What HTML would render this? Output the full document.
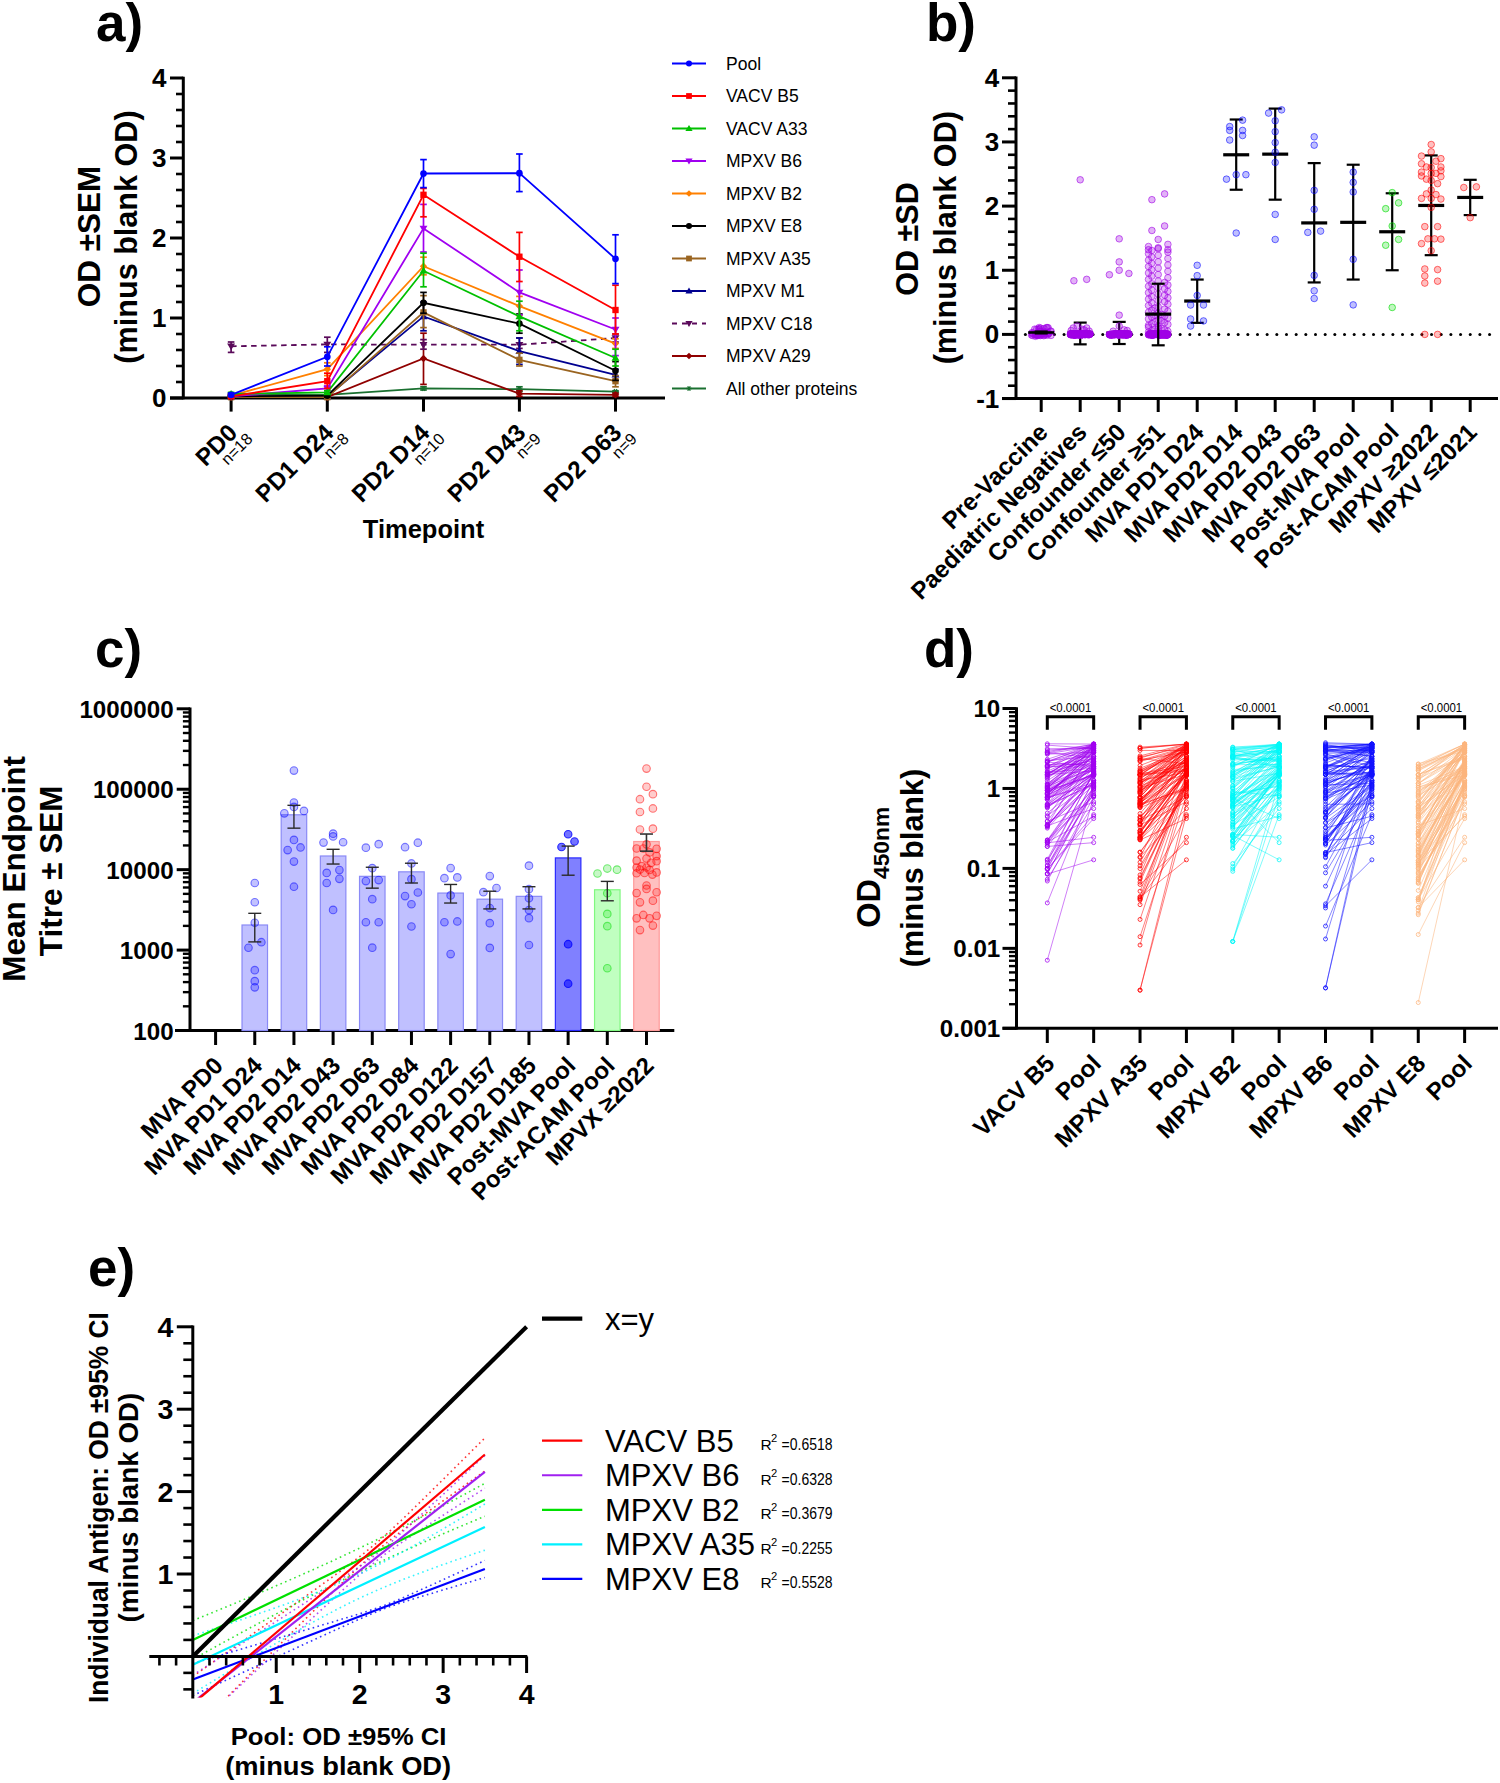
<!DOCTYPE html>
<html><head><meta charset="utf-8"><style>
html,body{margin:0;padding:0;background:#fff;}
svg{display:block;}
text{font-family:"Liberation Sans", sans-serif;}
</style></head><body>
<svg width="1500" height="1783" viewBox="0 0 1500 1783">
<rect width="1500" height="1783" fill="#fff"/>
<text x="96" y="41" font-size="53" font-weight="bold" text-anchor="start" fill="#000">a)</text>
<line x1="183.3" y1="76.7" x2="183.3" y2="399.3" stroke="#000" stroke-width="3"/>
<line x1="170" y1="398" x2="183.3" y2="398" stroke="#000" stroke-width="3"/>
<text x="166.5" y="407" font-size="26" font-weight="bold" text-anchor="end" fill="#000">0</text>
<line x1="176" y1="382" x2="183.3" y2="382" stroke="#000" stroke-width="2.6"/>
<line x1="176" y1="366" x2="183.3" y2="366" stroke="#000" stroke-width="2.6"/>
<line x1="176" y1="350" x2="183.3" y2="350" stroke="#000" stroke-width="2.6"/>
<line x1="176" y1="334" x2="183.3" y2="334" stroke="#000" stroke-width="2.6"/>
<line x1="170" y1="318" x2="183.3" y2="318" stroke="#000" stroke-width="3"/>
<text x="166.5" y="327" font-size="26" font-weight="bold" text-anchor="end" fill="#000">1</text>
<line x1="176" y1="302" x2="183.3" y2="302" stroke="#000" stroke-width="2.6"/>
<line x1="176" y1="286" x2="183.3" y2="286" stroke="#000" stroke-width="2.6"/>
<line x1="176" y1="270" x2="183.3" y2="270" stroke="#000" stroke-width="2.6"/>
<line x1="176" y1="254" x2="183.3" y2="254" stroke="#000" stroke-width="2.6"/>
<line x1="170" y1="238" x2="183.3" y2="238" stroke="#000" stroke-width="3"/>
<text x="166.5" y="247" font-size="26" font-weight="bold" text-anchor="end" fill="#000">2</text>
<line x1="176" y1="222" x2="183.3" y2="222" stroke="#000" stroke-width="2.6"/>
<line x1="176" y1="206" x2="183.3" y2="206" stroke="#000" stroke-width="2.6"/>
<line x1="176" y1="190" x2="183.3" y2="190" stroke="#000" stroke-width="2.6"/>
<line x1="176" y1="174" x2="183.3" y2="174" stroke="#000" stroke-width="2.6"/>
<line x1="170" y1="158" x2="183.3" y2="158" stroke="#000" stroke-width="3"/>
<text x="166.5" y="167" font-size="26" font-weight="bold" text-anchor="end" fill="#000">3</text>
<line x1="176" y1="142" x2="183.3" y2="142" stroke="#000" stroke-width="2.6"/>
<line x1="176" y1="126" x2="183.3" y2="126" stroke="#000" stroke-width="2.6"/>
<line x1="176" y1="110" x2="183.3" y2="110" stroke="#000" stroke-width="2.6"/>
<line x1="176" y1="94" x2="183.3" y2="94" stroke="#000" stroke-width="2.6"/>
<line x1="170" y1="78" x2="183.3" y2="78" stroke="#000" stroke-width="3"/>
<text x="166.5" y="87" font-size="26" font-weight="bold" text-anchor="end" fill="#000">4</text>
<line x1="170" y1="398" x2="665" y2="398" stroke="#000" stroke-width="3"/>
<line x1="231.1" y1="398" x2="231.1" y2="411.6" stroke="#000" stroke-width="3"/>
<line x1="327.3" y1="398" x2="327.3" y2="411.6" stroke="#000" stroke-width="3"/>
<line x1="423.5" y1="398" x2="423.5" y2="411.6" stroke="#000" stroke-width="3"/>
<line x1="519.4" y1="398" x2="519.4" y2="411.6" stroke="#000" stroke-width="3"/>
<line x1="615.5" y1="398" x2="615.5" y2="411.6" stroke="#000" stroke-width="3"/>
<polyline points="231.1,394 327.3,394.8 423.5,388.4 519.4,389.2 615.5,391.6" fill="none" stroke="#1a7030" stroke-width="1.8"/>
<line x1="231.1" y1="393.2" x2="231.1" y2="394.8" stroke="#1a7030" stroke-width="1.7"/>
<line x1="227.8" y1="393.2" x2="234.4" y2="393.2" stroke="#1a7030" stroke-width="1.7"/>
<line x1="227.8" y1="394.8" x2="234.4" y2="394.8" stroke="#1a7030" stroke-width="1.7"/>
<g stroke="#1a7030" stroke-width="1.3">
<line x1="228.28" y1="394" x2="233.92" y2="394" stroke="#1a7030" stroke-width="1.3"/>
<line x1="229.69" y1="391.56" x2="232.51" y2="396.44" stroke="#1a7030" stroke-width="1.3"/>
<line x1="232.51" y1="391.56" x2="229.69" y2="396.44" stroke="#1a7030" stroke-width="1.3"/>
<line x1="228.28" y1="394" x2="233.92" y2="394" stroke="#1a7030" stroke-width="1.3"/>
</g>
<line x1="327.3" y1="394" x2="327.3" y2="395.6" stroke="#1a7030" stroke-width="1.7"/>
<line x1="324" y1="394" x2="330.6" y2="394" stroke="#1a7030" stroke-width="1.7"/>
<line x1="324" y1="395.6" x2="330.6" y2="395.6" stroke="#1a7030" stroke-width="1.7"/>
<g stroke="#1a7030" stroke-width="1.3">
<line x1="324.48" y1="394.8" x2="330.12" y2="394.8" stroke="#1a7030" stroke-width="1.3"/>
<line x1="325.89" y1="392.36" x2="328.71" y2="397.24" stroke="#1a7030" stroke-width="1.3"/>
<line x1="328.71" y1="392.36" x2="325.89" y2="397.24" stroke="#1a7030" stroke-width="1.3"/>
<line x1="324.48" y1="394.8" x2="330.12" y2="394.8" stroke="#1a7030" stroke-width="1.3"/>
</g>
<line x1="423.5" y1="386.8" x2="423.5" y2="390" stroke="#1a7030" stroke-width="1.7"/>
<line x1="420.2" y1="386.8" x2="426.8" y2="386.8" stroke="#1a7030" stroke-width="1.7"/>
<line x1="420.2" y1="390" x2="426.8" y2="390" stroke="#1a7030" stroke-width="1.7"/>
<g stroke="#1a7030" stroke-width="1.3">
<line x1="420.68" y1="388.4" x2="426.32" y2="388.4" stroke="#1a7030" stroke-width="1.3"/>
<line x1="422.09" y1="385.96" x2="424.91" y2="390.84" stroke="#1a7030" stroke-width="1.3"/>
<line x1="424.91" y1="385.96" x2="422.09" y2="390.84" stroke="#1a7030" stroke-width="1.3"/>
<line x1="420.68" y1="388.4" x2="426.32" y2="388.4" stroke="#1a7030" stroke-width="1.3"/>
</g>
<line x1="519.4" y1="386.8" x2="519.4" y2="391.6" stroke="#1a7030" stroke-width="1.7"/>
<line x1="516.1" y1="386.8" x2="522.7" y2="386.8" stroke="#1a7030" stroke-width="1.7"/>
<line x1="516.1" y1="391.6" x2="522.7" y2="391.6" stroke="#1a7030" stroke-width="1.7"/>
<g stroke="#1a7030" stroke-width="1.3">
<line x1="516.58" y1="389.2" x2="522.22" y2="389.2" stroke="#1a7030" stroke-width="1.3"/>
<line x1="517.99" y1="386.76" x2="520.81" y2="391.64" stroke="#1a7030" stroke-width="1.3"/>
<line x1="520.81" y1="386.76" x2="517.99" y2="391.64" stroke="#1a7030" stroke-width="1.3"/>
<line x1="516.58" y1="389.2" x2="522.22" y2="389.2" stroke="#1a7030" stroke-width="1.3"/>
</g>
<line x1="615.5" y1="390.8" x2="615.5" y2="392.4" stroke="#1a7030" stroke-width="1.7"/>
<line x1="612.2" y1="390.8" x2="618.8" y2="390.8" stroke="#1a7030" stroke-width="1.7"/>
<line x1="612.2" y1="392.4" x2="618.8" y2="392.4" stroke="#1a7030" stroke-width="1.7"/>
<g stroke="#1a7030" stroke-width="1.3">
<line x1="612.68" y1="391.6" x2="618.32" y2="391.6" stroke="#1a7030" stroke-width="1.3"/>
<line x1="614.09" y1="389.16" x2="616.91" y2="394.04" stroke="#1a7030" stroke-width="1.3"/>
<line x1="616.91" y1="389.16" x2="614.09" y2="394.04" stroke="#1a7030" stroke-width="1.3"/>
<line x1="612.68" y1="391.6" x2="618.32" y2="391.6" stroke="#1a7030" stroke-width="1.3"/>
</g>
<polyline points="231.1,397.2 327.3,397.2 423.5,358.48 519.4,393.68 615.5,394.8" fill="none" stroke="#900000" stroke-width="1.8"/>
<line x1="231.1" y1="396.4" x2="231.1" y2="398" stroke="#900000" stroke-width="1.7"/>
<line x1="227.8" y1="396.4" x2="234.4" y2="396.4" stroke="#900000" stroke-width="1.7"/>
<line x1="227.8" y1="398" x2="234.4" y2="398" stroke="#900000" stroke-width="1.7"/>
<polygon points="231.1,393.5 234.8,397.2 231.1,400.9 227.4,397.2" fill="#900000"/>
<line x1="327.3" y1="396.4" x2="327.3" y2="398" stroke="#900000" stroke-width="1.7"/>
<line x1="324" y1="396.4" x2="330.6" y2="396.4" stroke="#900000" stroke-width="1.7"/>
<line x1="324" y1="398" x2="330.6" y2="398" stroke="#900000" stroke-width="1.7"/>
<polygon points="327.3,393.5 331,397.2 327.3,400.9 323.6,397.2" fill="#900000"/>
<line x1="423.5" y1="333.2" x2="423.5" y2="384.4" stroke="#900000" stroke-width="1.7"/>
<line x1="420.2" y1="333.2" x2="426.8" y2="333.2" stroke="#900000" stroke-width="1.7"/>
<line x1="420.2" y1="384.4" x2="426.8" y2="384.4" stroke="#900000" stroke-width="1.7"/>
<polygon points="423.5,354.78 427.2,358.48 423.5,362.18 419.8,358.48" fill="#900000"/>
<line x1="519.4" y1="390.8" x2="519.4" y2="396.4" stroke="#900000" stroke-width="1.7"/>
<line x1="516.1" y1="390.8" x2="522.7" y2="390.8" stroke="#900000" stroke-width="1.7"/>
<line x1="516.1" y1="396.4" x2="522.7" y2="396.4" stroke="#900000" stroke-width="1.7"/>
<polygon points="519.4,389.98 523.1,393.68 519.4,397.38 515.7,393.68" fill="#900000"/>
<line x1="615.5" y1="393.2" x2="615.5" y2="396.4" stroke="#900000" stroke-width="1.7"/>
<line x1="612.2" y1="393.2" x2="618.8" y2="393.2" stroke="#900000" stroke-width="1.7"/>
<line x1="612.2" y1="396.4" x2="618.8" y2="396.4" stroke="#900000" stroke-width="1.7"/>
<polygon points="615.5,391.1 619.2,394.8 615.5,398.5 611.8,394.8" fill="#900000"/>
<polyline points="231.1,346.32 327.3,344.4 423.5,344.72 519.4,344.72 615.5,338" fill="none" stroke="#5a0a5a" stroke-width="1.8" stroke-dasharray="5.5,4.5"/>
<line x1="231.1" y1="342" x2="231.1" y2="352.4" stroke="#5a0a5a" stroke-width="1.7"/>
<line x1="227.8" y1="342" x2="234.4" y2="342" stroke="#5a0a5a" stroke-width="1.7"/>
<line x1="227.8" y1="352.4" x2="234.4" y2="352.4" stroke="#5a0a5a" stroke-width="1.7"/>
<polygon points="231.1,350.28 227.14,343.55 235.06,343.55" fill="#5a0a5a"/>
<line x1="327.3" y1="337.2" x2="327.3" y2="352.4" stroke="#5a0a5a" stroke-width="1.7"/>
<line x1="324" y1="337.2" x2="330.6" y2="337.2" stroke="#5a0a5a" stroke-width="1.7"/>
<line x1="324" y1="352.4" x2="330.6" y2="352.4" stroke="#5a0a5a" stroke-width="1.7"/>
<polygon points="327.3,348.36 323.34,341.63 331.26,341.63" fill="#5a0a5a"/>
<line x1="423.5" y1="339.6" x2="423.5" y2="349.2" stroke="#5a0a5a" stroke-width="1.7"/>
<line x1="420.2" y1="339.6" x2="426.8" y2="339.6" stroke="#5a0a5a" stroke-width="1.7"/>
<line x1="420.2" y1="349.2" x2="426.8" y2="349.2" stroke="#5a0a5a" stroke-width="1.7"/>
<polygon points="423.5,348.68 419.54,341.95 427.46,341.95" fill="#5a0a5a"/>
<line x1="519.4" y1="338" x2="519.4" y2="348.4" stroke="#5a0a5a" stroke-width="1.7"/>
<line x1="516.1" y1="338" x2="522.7" y2="338" stroke="#5a0a5a" stroke-width="1.7"/>
<line x1="516.1" y1="348.4" x2="522.7" y2="348.4" stroke="#5a0a5a" stroke-width="1.7"/>
<polygon points="519.4,348.68 515.44,341.95 523.36,341.95" fill="#5a0a5a"/>
<line x1="615.5" y1="334" x2="615.5" y2="342" stroke="#5a0a5a" stroke-width="1.7"/>
<line x1="612.2" y1="334" x2="618.8" y2="334" stroke="#5a0a5a" stroke-width="1.7"/>
<line x1="612.2" y1="342" x2="618.8" y2="342" stroke="#5a0a5a" stroke-width="1.7"/>
<polygon points="615.5,341.96 611.54,335.23 619.46,335.23" fill="#5a0a5a"/>
<polyline points="231.1,396.4 327.3,396.4 423.5,316.4 519.4,351.2 615.5,374.8" fill="none" stroke="#000090" stroke-width="1.8"/>
<line x1="231.1" y1="395.6" x2="231.1" y2="397.2" stroke="#000090" stroke-width="1.7"/>
<line x1="227.8" y1="395.6" x2="234.4" y2="395.6" stroke="#000090" stroke-width="1.7"/>
<line x1="227.8" y1="397.2" x2="234.4" y2="397.2" stroke="#000090" stroke-width="1.7"/>
<polygon points="231.1,392.44 227.14,399.17 235.06,399.17" fill="#000090"/>
<line x1="327.3" y1="395.6" x2="327.3" y2="397.2" stroke="#000090" stroke-width="1.7"/>
<line x1="324" y1="395.6" x2="330.6" y2="395.6" stroke="#000090" stroke-width="1.7"/>
<line x1="324" y1="397.2" x2="330.6" y2="397.2" stroke="#000090" stroke-width="1.7"/>
<polygon points="327.3,392.44 323.34,399.17 331.26,399.17" fill="#000090"/>
<line x1="423.5" y1="302" x2="423.5" y2="330.8" stroke="#000090" stroke-width="1.7"/>
<line x1="420.2" y1="302" x2="426.8" y2="302" stroke="#000090" stroke-width="1.7"/>
<line x1="420.2" y1="330.8" x2="426.8" y2="330.8" stroke="#000090" stroke-width="1.7"/>
<polygon points="423.5,312.44 419.54,319.17 427.46,319.17" fill="#000090"/>
<line x1="519.4" y1="338" x2="519.4" y2="364.4" stroke="#000090" stroke-width="1.7"/>
<line x1="516.1" y1="338" x2="522.7" y2="338" stroke="#000090" stroke-width="1.7"/>
<line x1="516.1" y1="364.4" x2="522.7" y2="364.4" stroke="#000090" stroke-width="1.7"/>
<polygon points="519.4,347.24 515.44,353.97 523.36,353.97" fill="#000090"/>
<line x1="615.5" y1="369.2" x2="615.5" y2="380.4" stroke="#000090" stroke-width="1.7"/>
<line x1="612.2" y1="369.2" x2="618.8" y2="369.2" stroke="#000090" stroke-width="1.7"/>
<line x1="612.2" y1="380.4" x2="618.8" y2="380.4" stroke="#000090" stroke-width="1.7"/>
<polygon points="615.5,370.84 611.54,377.57 619.46,377.57" fill="#000090"/>
<polyline points="231.1,397.2 327.3,397.2 423.5,312.4 519.4,359.84 615.5,381.2" fill="none" stroke="#9a6420" stroke-width="1.8"/>
<line x1="231.1" y1="396.4" x2="231.1" y2="398" stroke="#9a6420" stroke-width="1.7"/>
<line x1="227.8" y1="396.4" x2="234.4" y2="396.4" stroke="#9a6420" stroke-width="1.7"/>
<line x1="227.8" y1="398" x2="234.4" y2="398" stroke="#9a6420" stroke-width="1.7"/>
<rect x="227.93" y="394.03" width="6.34" height="6.34" fill="#9a6420"/>
<line x1="327.3" y1="396.4" x2="327.3" y2="398" stroke="#9a6420" stroke-width="1.7"/>
<line x1="324" y1="396.4" x2="330.6" y2="396.4" stroke="#9a6420" stroke-width="1.7"/>
<line x1="324" y1="398" x2="330.6" y2="398" stroke="#9a6420" stroke-width="1.7"/>
<rect x="324.13" y="394.03" width="6.34" height="6.34" fill="#9a6420"/>
<line x1="423.5" y1="295.6" x2="423.5" y2="327.6" stroke="#9a6420" stroke-width="1.7"/>
<line x1="420.2" y1="295.6" x2="426.8" y2="295.6" stroke="#9a6420" stroke-width="1.7"/>
<line x1="420.2" y1="327.6" x2="426.8" y2="327.6" stroke="#9a6420" stroke-width="1.7"/>
<rect x="420.33" y="309.23" width="6.34" height="6.34" fill="#9a6420"/>
<line x1="519.4" y1="353.2" x2="519.4" y2="366" stroke="#9a6420" stroke-width="1.7"/>
<line x1="516.1" y1="353.2" x2="522.7" y2="353.2" stroke="#9a6420" stroke-width="1.7"/>
<line x1="516.1" y1="366" x2="522.7" y2="366" stroke="#9a6420" stroke-width="1.7"/>
<rect x="516.23" y="356.67" width="6.34" height="6.34" fill="#9a6420"/>
<line x1="615.5" y1="375.6" x2="615.5" y2="386.8" stroke="#9a6420" stroke-width="1.7"/>
<line x1="612.2" y1="375.6" x2="618.8" y2="375.6" stroke="#9a6420" stroke-width="1.7"/>
<line x1="612.2" y1="386.8" x2="618.8" y2="386.8" stroke="#9a6420" stroke-width="1.7"/>
<rect x="612.33" y="378.03" width="6.34" height="6.34" fill="#9a6420"/>
<polyline points="231.1,396.4 327.3,395.6 423.5,302.8 519.4,323.6 615.5,370.8" fill="none" stroke="#000000" stroke-width="1.8"/>
<line x1="231.1" y1="395.6" x2="231.1" y2="397.2" stroke="#000000" stroke-width="1.7"/>
<line x1="227.8" y1="395.6" x2="234.4" y2="395.6" stroke="#000000" stroke-width="1.7"/>
<line x1="227.8" y1="397.2" x2="234.4" y2="397.2" stroke="#000000" stroke-width="1.7"/>
<circle cx="231.1" cy="396.4" r="3.34" fill="#000000"/>
<line x1="327.3" y1="394" x2="327.3" y2="397.2" stroke="#000000" stroke-width="1.7"/>
<line x1="324" y1="394" x2="330.6" y2="394" stroke="#000000" stroke-width="1.7"/>
<line x1="324" y1="397.2" x2="330.6" y2="397.2" stroke="#000000" stroke-width="1.7"/>
<circle cx="327.3" cy="395.6" r="3.34" fill="#000000"/>
<line x1="423.5" y1="292.4" x2="423.5" y2="313.2" stroke="#000000" stroke-width="1.7"/>
<line x1="420.2" y1="292.4" x2="426.8" y2="292.4" stroke="#000000" stroke-width="1.7"/>
<line x1="420.2" y1="313.2" x2="426.8" y2="313.2" stroke="#000000" stroke-width="1.7"/>
<circle cx="423.5" cy="302.8" r="3.34" fill="#000000"/>
<line x1="519.4" y1="314" x2="519.4" y2="333.2" stroke="#000000" stroke-width="1.7"/>
<line x1="516.1" y1="314" x2="522.7" y2="314" stroke="#000000" stroke-width="1.7"/>
<line x1="516.1" y1="333.2" x2="522.7" y2="333.2" stroke="#000000" stroke-width="1.7"/>
<circle cx="519.4" cy="323.6" r="3.34" fill="#000000"/>
<line x1="615.5" y1="361.6" x2="615.5" y2="380.4" stroke="#000000" stroke-width="1.7"/>
<line x1="612.2" y1="361.6" x2="618.8" y2="361.6" stroke="#000000" stroke-width="1.7"/>
<line x1="612.2" y1="380.4" x2="618.8" y2="380.4" stroke="#000000" stroke-width="1.7"/>
<circle cx="615.5" cy="370.8" r="3.34" fill="#000000"/>
<polyline points="231.1,395.6 327.3,369.2 423.5,266.24 519.4,306.08 615.5,343.6" fill="none" stroke="#ff8000" stroke-width="1.8"/>
<line x1="231.1" y1="394.8" x2="231.1" y2="396.4" stroke="#ff8000" stroke-width="1.7"/>
<line x1="227.8" y1="394.8" x2="234.4" y2="394.8" stroke="#ff8000" stroke-width="1.7"/>
<line x1="227.8" y1="396.4" x2="234.4" y2="396.4" stroke="#ff8000" stroke-width="1.7"/>
<polygon points="231.1,391.9 234.8,395.6 231.1,399.3 227.4,395.6" fill="#ff8000"/>
<line x1="327.3" y1="362.8" x2="327.3" y2="375.6" stroke="#ff8000" stroke-width="1.7"/>
<line x1="324" y1="362.8" x2="330.6" y2="362.8" stroke="#ff8000" stroke-width="1.7"/>
<line x1="324" y1="375.6" x2="330.6" y2="375.6" stroke="#ff8000" stroke-width="1.7"/>
<polygon points="327.3,365.5 331,369.2 327.3,372.9 323.6,369.2" fill="#ff8000"/>
<line x1="423.5" y1="257.2" x2="423.5" y2="274.8" stroke="#ff8000" stroke-width="1.7"/>
<line x1="420.2" y1="257.2" x2="426.8" y2="257.2" stroke="#ff8000" stroke-width="1.7"/>
<line x1="420.2" y1="274.8" x2="426.8" y2="274.8" stroke="#ff8000" stroke-width="1.7"/>
<polygon points="423.5,262.54 427.2,266.24 423.5,269.94 419.8,266.24" fill="#ff8000"/>
<line x1="519.4" y1="296.4" x2="519.4" y2="315.6" stroke="#ff8000" stroke-width="1.7"/>
<line x1="516.1" y1="296.4" x2="522.7" y2="296.4" stroke="#ff8000" stroke-width="1.7"/>
<line x1="516.1" y1="315.6" x2="522.7" y2="315.6" stroke="#ff8000" stroke-width="1.7"/>
<polygon points="519.4,302.38 523.1,306.08 519.4,309.78 515.7,306.08" fill="#ff8000"/>
<line x1="615.5" y1="338.8" x2="615.5" y2="348.4" stroke="#ff8000" stroke-width="1.7"/>
<line x1="612.2" y1="338.8" x2="618.8" y2="338.8" stroke="#ff8000" stroke-width="1.7"/>
<line x1="612.2" y1="348.4" x2="618.8" y2="348.4" stroke="#ff8000" stroke-width="1.7"/>
<polygon points="615.5,339.9 619.2,343.6 615.5,347.3 611.8,343.6" fill="#ff8000"/>
<polyline points="231.1,396.4 327.3,388.4 423.5,228.4 519.4,292.4 615.5,329.52" fill="none" stroke="#a000f0" stroke-width="1.8"/>
<line x1="231.1" y1="395.6" x2="231.1" y2="397.2" stroke="#a000f0" stroke-width="1.7"/>
<line x1="227.8" y1="395.6" x2="234.4" y2="395.6" stroke="#a000f0" stroke-width="1.7"/>
<line x1="227.8" y1="397.2" x2="234.4" y2="397.2" stroke="#a000f0" stroke-width="1.7"/>
<polygon points="231.1,400.36 227.14,393.63 235.06,393.63" fill="#a000f0"/>
<line x1="327.3" y1="386" x2="327.3" y2="390.8" stroke="#a000f0" stroke-width="1.7"/>
<line x1="324" y1="386" x2="330.6" y2="386" stroke="#a000f0" stroke-width="1.7"/>
<line x1="324" y1="390.8" x2="330.6" y2="390.8" stroke="#a000f0" stroke-width="1.7"/>
<polygon points="327.3,392.36 323.34,385.63 331.26,385.63" fill="#a000f0"/>
<line x1="423.5" y1="204.4" x2="423.5" y2="252" stroke="#a000f0" stroke-width="1.7"/>
<line x1="420.2" y1="204.4" x2="426.8" y2="204.4" stroke="#a000f0" stroke-width="1.7"/>
<line x1="420.2" y1="252" x2="426.8" y2="252" stroke="#a000f0" stroke-width="1.7"/>
<polygon points="423.5,232.36 419.54,225.63 427.46,225.63" fill="#a000f0"/>
<line x1="519.4" y1="270" x2="519.4" y2="314.8" stroke="#a000f0" stroke-width="1.7"/>
<line x1="516.1" y1="270" x2="522.7" y2="270" stroke="#a000f0" stroke-width="1.7"/>
<line x1="516.1" y1="314.8" x2="522.7" y2="314.8" stroke="#a000f0" stroke-width="1.7"/>
<polygon points="519.4,296.36 515.44,289.63 523.36,289.63" fill="#a000f0"/>
<line x1="615.5" y1="318" x2="615.5" y2="355.6" stroke="#a000f0" stroke-width="1.7"/>
<line x1="612.2" y1="318" x2="618.8" y2="318" stroke="#a000f0" stroke-width="1.7"/>
<line x1="612.2" y1="355.6" x2="618.8" y2="355.6" stroke="#a000f0" stroke-width="1.7"/>
<polygon points="615.5,333.48 611.54,326.75 619.46,326.75" fill="#a000f0"/>
<polyline points="231.1,394 327.3,392.4 423.5,270.8 519.4,316.4 615.5,358" fill="none" stroke="#00c000" stroke-width="1.8"/>
<line x1="231.1" y1="392.4" x2="231.1" y2="395.6" stroke="#00c000" stroke-width="1.7"/>
<line x1="227.8" y1="392.4" x2="234.4" y2="392.4" stroke="#00c000" stroke-width="1.7"/>
<line x1="227.8" y1="395.6" x2="234.4" y2="395.6" stroke="#00c000" stroke-width="1.7"/>
<polygon points="231.1,390.04 227.14,396.77 235.06,396.77" fill="#00c000"/>
<line x1="327.3" y1="390.8" x2="327.3" y2="394" stroke="#00c000" stroke-width="1.7"/>
<line x1="324" y1="390.8" x2="330.6" y2="390.8" stroke="#00c000" stroke-width="1.7"/>
<line x1="324" y1="394" x2="330.6" y2="394" stroke="#00c000" stroke-width="1.7"/>
<polygon points="327.3,388.44 323.34,395.17 331.26,395.17" fill="#00c000"/>
<line x1="423.5" y1="253.2" x2="423.5" y2="286.8" stroke="#00c000" stroke-width="1.7"/>
<line x1="420.2" y1="253.2" x2="426.8" y2="253.2" stroke="#00c000" stroke-width="1.7"/>
<line x1="420.2" y1="286.8" x2="426.8" y2="286.8" stroke="#00c000" stroke-width="1.7"/>
<polygon points="423.5,266.84 419.54,273.57 427.46,273.57" fill="#00c000"/>
<line x1="519.4" y1="301.2" x2="519.4" y2="330.8" stroke="#00c000" stroke-width="1.7"/>
<line x1="516.1" y1="301.2" x2="522.7" y2="301.2" stroke="#00c000" stroke-width="1.7"/>
<line x1="516.1" y1="330.8" x2="522.7" y2="330.8" stroke="#00c000" stroke-width="1.7"/>
<polygon points="519.4,312.44 515.44,319.17 523.36,319.17" fill="#00c000"/>
<line x1="615.5" y1="349.2" x2="615.5" y2="366" stroke="#00c000" stroke-width="1.7"/>
<line x1="612.2" y1="349.2" x2="618.8" y2="349.2" stroke="#00c000" stroke-width="1.7"/>
<line x1="612.2" y1="366" x2="618.8" y2="366" stroke="#00c000" stroke-width="1.7"/>
<polygon points="615.5,354.04 611.54,360.77 619.46,360.77" fill="#00c000"/>
<polyline points="231.1,396.4 327.3,381.2 423.5,194.8 519.4,256.72 615.5,310" fill="none" stroke="#ff0000" stroke-width="1.8"/>
<line x1="231.1" y1="395.6" x2="231.1" y2="397.2" stroke="#ff0000" stroke-width="1.7"/>
<line x1="227.8" y1="395.6" x2="234.4" y2="395.6" stroke="#ff0000" stroke-width="1.7"/>
<line x1="227.8" y1="397.2" x2="234.4" y2="397.2" stroke="#ff0000" stroke-width="1.7"/>
<rect x="227.93" y="393.23" width="6.34" height="6.34" fill="#ff0000"/>
<line x1="327.3" y1="373.2" x2="327.3" y2="388.4" stroke="#ff0000" stroke-width="1.7"/>
<line x1="324" y1="373.2" x2="330.6" y2="373.2" stroke="#ff0000" stroke-width="1.7"/>
<line x1="324" y1="388.4" x2="330.6" y2="388.4" stroke="#ff0000" stroke-width="1.7"/>
<rect x="324.13" y="378.03" width="6.34" height="6.34" fill="#ff0000"/>
<line x1="423.5" y1="188.4" x2="423.5" y2="216.8" stroke="#ff0000" stroke-width="1.7"/>
<line x1="420.2" y1="188.4" x2="426.8" y2="188.4" stroke="#ff0000" stroke-width="1.7"/>
<line x1="420.2" y1="216.8" x2="426.8" y2="216.8" stroke="#ff0000" stroke-width="1.7"/>
<rect x="420.33" y="191.63" width="6.34" height="6.34" fill="#ff0000"/>
<line x1="519.4" y1="232.4" x2="519.4" y2="281.52" stroke="#ff0000" stroke-width="1.7"/>
<line x1="516.1" y1="232.4" x2="522.7" y2="232.4" stroke="#ff0000" stroke-width="1.7"/>
<line x1="516.1" y1="281.52" x2="522.7" y2="281.52" stroke="#ff0000" stroke-width="1.7"/>
<rect x="516.23" y="253.55" width="6.34" height="6.34" fill="#ff0000"/>
<line x1="615.5" y1="285.2" x2="615.5" y2="334" stroke="#ff0000" stroke-width="1.7"/>
<line x1="612.2" y1="285.2" x2="618.8" y2="285.2" stroke="#ff0000" stroke-width="1.7"/>
<line x1="612.2" y1="334" x2="618.8" y2="334" stroke="#ff0000" stroke-width="1.7"/>
<rect x="612.33" y="306.83" width="6.34" height="6.34" fill="#ff0000"/>
<polyline points="231.1,394.8 327.3,356.8 423.5,173.52 519.4,173.2 615.5,258.8" fill="none" stroke="#0000ff" stroke-width="1.8"/>
<line x1="231.1" y1="393.2" x2="231.1" y2="396.4" stroke="#0000ff" stroke-width="1.7"/>
<line x1="227.8" y1="393.2" x2="234.4" y2="393.2" stroke="#0000ff" stroke-width="1.7"/>
<line x1="227.8" y1="396.4" x2="234.4" y2="396.4" stroke="#0000ff" stroke-width="1.7"/>
<circle cx="231.1" cy="394.8" r="3.34" fill="#0000ff"/>
<line x1="327.3" y1="346.8" x2="327.3" y2="366" stroke="#0000ff" stroke-width="1.7"/>
<line x1="324" y1="346.8" x2="330.6" y2="346.8" stroke="#0000ff" stroke-width="1.7"/>
<line x1="324" y1="366" x2="330.6" y2="366" stroke="#0000ff" stroke-width="1.7"/>
<circle cx="327.3" cy="356.8" r="3.34" fill="#0000ff"/>
<line x1="423.5" y1="159.6" x2="423.5" y2="187.6" stroke="#0000ff" stroke-width="1.7"/>
<line x1="420.2" y1="159.6" x2="426.8" y2="159.6" stroke="#0000ff" stroke-width="1.7"/>
<line x1="420.2" y1="187.6" x2="426.8" y2="187.6" stroke="#0000ff" stroke-width="1.7"/>
<circle cx="423.5" cy="173.52" r="3.34" fill="#0000ff"/>
<line x1="519.4" y1="154" x2="519.4" y2="191.6" stroke="#0000ff" stroke-width="1.7"/>
<line x1="516.1" y1="154" x2="522.7" y2="154" stroke="#0000ff" stroke-width="1.7"/>
<line x1="516.1" y1="191.6" x2="522.7" y2="191.6" stroke="#0000ff" stroke-width="1.7"/>
<circle cx="519.4" cy="173.2" r="3.34" fill="#0000ff"/>
<line x1="615.5" y1="234.8" x2="615.5" y2="283.6" stroke="#0000ff" stroke-width="1.7"/>
<line x1="612.2" y1="234.8" x2="618.8" y2="234.8" stroke="#0000ff" stroke-width="1.7"/>
<line x1="612.2" y1="283.6" x2="618.8" y2="283.6" stroke="#0000ff" stroke-width="1.7"/>
<circle cx="615.5" cy="258.8" r="3.34" fill="#0000ff"/>
<line x1="672" y1="63.5" x2="706" y2="63.5" stroke="#0000ff" stroke-width="1.9"/>
<circle cx="689" cy="63.5" r="3.04" fill="#0000ff"/>
<text x="726" y="69.8" font-size="17.5" text-anchor="start" fill="#000">Pool</text>
<line x1="672" y1="96" x2="706" y2="96" stroke="#ff0000" stroke-width="1.9"/>
<rect x="686.12" y="93.12" width="5.76" height="5.76" fill="#ff0000"/>
<text x="726" y="102.3" font-size="17.5" text-anchor="start" fill="#000">VACV B5</text>
<line x1="672" y1="128.5" x2="706" y2="128.5" stroke="#00c000" stroke-width="1.9"/>
<polygon points="689,124.9 685.4,131.02 692.6,131.02" fill="#00c000"/>
<text x="726" y="134.8" font-size="17.5" text-anchor="start" fill="#000">VACV A33</text>
<line x1="672" y1="161" x2="706" y2="161" stroke="#a000f0" stroke-width="1.9"/>
<polygon points="689,164.6 685.4,158.48 692.6,158.48" fill="#a000f0"/>
<text x="726" y="167.3" font-size="17.5" text-anchor="start" fill="#000">MPXV B6</text>
<line x1="672" y1="193.5" x2="706" y2="193.5" stroke="#ff8000" stroke-width="1.9"/>
<polygon points="689,190.14 692.36,193.5 689,196.86 685.64,193.5" fill="#ff8000"/>
<text x="726" y="199.8" font-size="17.5" text-anchor="start" fill="#000">MPXV B2</text>
<line x1="672" y1="226" x2="706" y2="226" stroke="#000000" stroke-width="1.9"/>
<circle cx="689" cy="226" r="3.04" fill="#000000"/>
<text x="726" y="232.3" font-size="17.5" text-anchor="start" fill="#000">MPXV E8</text>
<line x1="672" y1="258.5" x2="706" y2="258.5" stroke="#9a6420" stroke-width="1.9"/>
<rect x="686.12" y="255.62" width="5.76" height="5.76" fill="#9a6420"/>
<text x="726" y="264.8" font-size="17.5" text-anchor="start" fill="#000">MPXV A35</text>
<line x1="672" y1="291" x2="706" y2="291" stroke="#000090" stroke-width="1.9"/>
<polygon points="689,287.4 685.4,293.52 692.6,293.52" fill="#000090"/>
<text x="726" y="297.3" font-size="17.5" text-anchor="start" fill="#000">MPXV M1</text>
<line x1="672" y1="323.5" x2="706" y2="323.5" stroke="#5a0a5a" stroke-width="1.9" stroke-dasharray="5,5"/>
<polygon points="689,327.1 685.4,320.98 692.6,320.98" fill="#5a0a5a"/>
<text x="726" y="329.8" font-size="17.5" text-anchor="start" fill="#000">MPXV C18</text>
<line x1="672" y1="356" x2="706" y2="356" stroke="#900000" stroke-width="1.9"/>
<polygon points="689,352.64 692.36,356 689,359.36 685.64,356" fill="#900000"/>
<text x="726" y="362.3" font-size="17.5" text-anchor="start" fill="#000">MPXV A29</text>
<line x1="672" y1="388.5" x2="706" y2="388.5" stroke="#1a7030" stroke-width="1.9"/>
<g stroke="#1a7030" stroke-width="1.3">
<line x1="686.44" y1="388.5" x2="691.56" y2="388.5" stroke="#1a7030" stroke-width="1.3"/>
<line x1="687.72" y1="386.28" x2="690.28" y2="390.72" stroke="#1a7030" stroke-width="1.3"/>
<line x1="690.28" y1="386.28" x2="687.72" y2="390.72" stroke="#1a7030" stroke-width="1.3"/>
<line x1="686.44" y1="388.5" x2="691.56" y2="388.5" stroke="#1a7030" stroke-width="1.3"/>
</g>
<text x="726" y="394.8" font-size="17.5" text-anchor="start" fill="#000">All other proteins</text>
<g transform="translate(238.7,434.3) rotate(-45)">
<text x="0" y="0" font-size="24.2" font-weight="bold" text-anchor="end" fill="#000">PD0</text>
<text x="6.5" y="14.5" font-size="16.2" text-anchor="end" fill="#000">n=18</text>
</g>
<g transform="translate(334.9,434.3) rotate(-45)">
<text x="0" y="0" font-size="24.2" font-weight="bold" text-anchor="end" fill="#000">PD1 D24</text>
<text x="6.5" y="14.5" font-size="16.2" text-anchor="end" fill="#000">n=8</text>
</g>
<g transform="translate(431.1,434.3) rotate(-45)">
<text x="0" y="0" font-size="24.2" font-weight="bold" text-anchor="end" fill="#000">PD2 D14</text>
<text x="6.5" y="14.5" font-size="16.2" text-anchor="end" fill="#000">n=10</text>
</g>
<g transform="translate(527,434.3) rotate(-45)">
<text x="0" y="0" font-size="24.2" font-weight="bold" text-anchor="end" fill="#000">PD2 D43</text>
<text x="6.5" y="14.5" font-size="16.2" text-anchor="end" fill="#000">n=9</text>
</g>
<g transform="translate(623.1,434.3) rotate(-45)">
<text x="0" y="0" font-size="24.2" font-weight="bold" text-anchor="end" fill="#000">PD2 D63</text>
<text x="6.5" y="14.5" font-size="16.2" text-anchor="end" fill="#000">n=9</text>
</g>
<text x="423.5" y="537.6" font-size="25.5" font-weight="bold" text-anchor="middle" fill="#000">Timepoint</text>
<text x="100" y="236.5" font-size="31.5" font-weight="bold" text-anchor="middle" fill="#000" transform="rotate(-90 100 236.5)">OD ±SEM</text>
<text x="137" y="237" font-size="30.6" font-weight="bold" text-anchor="middle" fill="#000" transform="rotate(-90 137 237)">(minus blank OD)</text>
<text x="926" y="41" font-size="53" font-weight="bold" text-anchor="start" fill="#000">b)</text>
<line x1="1016" y1="76.5" x2="1016" y2="399.85" stroke="#000" stroke-width="3"/>
<line x1="1002" y1="77.8" x2="1016" y2="77.8" stroke="#000" stroke-width="3"/>
<text x="999.3" y="86.8" font-size="26" font-weight="bold" text-anchor="end" fill="#000">4</text>
<line x1="1008" y1="90.63" x2="1016" y2="90.63" stroke="#000" stroke-width="2.6"/>
<line x1="1008" y1="103.46" x2="1016" y2="103.46" stroke="#000" stroke-width="2.6"/>
<line x1="1008" y1="116.29" x2="1016" y2="116.29" stroke="#000" stroke-width="2.6"/>
<line x1="1008" y1="129.12" x2="1016" y2="129.12" stroke="#000" stroke-width="2.6"/>
<line x1="1002" y1="141.95" x2="1016" y2="141.95" stroke="#000" stroke-width="3"/>
<text x="999.3" y="150.95" font-size="26" font-weight="bold" text-anchor="end" fill="#000">3</text>
<line x1="1008" y1="154.78" x2="1016" y2="154.78" stroke="#000" stroke-width="2.6"/>
<line x1="1008" y1="167.61" x2="1016" y2="167.61" stroke="#000" stroke-width="2.6"/>
<line x1="1008" y1="180.44" x2="1016" y2="180.44" stroke="#000" stroke-width="2.6"/>
<line x1="1008" y1="193.27" x2="1016" y2="193.27" stroke="#000" stroke-width="2.6"/>
<line x1="1002" y1="206.1" x2="1016" y2="206.1" stroke="#000" stroke-width="3"/>
<text x="999.3" y="215.1" font-size="26" font-weight="bold" text-anchor="end" fill="#000">2</text>
<line x1="1008" y1="218.93" x2="1016" y2="218.93" stroke="#000" stroke-width="2.6"/>
<line x1="1008" y1="231.76" x2="1016" y2="231.76" stroke="#000" stroke-width="2.6"/>
<line x1="1008" y1="244.59" x2="1016" y2="244.59" stroke="#000" stroke-width="2.6"/>
<line x1="1008" y1="257.42" x2="1016" y2="257.42" stroke="#000" stroke-width="2.6"/>
<line x1="1002" y1="270.25" x2="1016" y2="270.25" stroke="#000" stroke-width="3"/>
<text x="999.3" y="279.25" font-size="26" font-weight="bold" text-anchor="end" fill="#000">1</text>
<line x1="1008" y1="283.08" x2="1016" y2="283.08" stroke="#000" stroke-width="2.6"/>
<line x1="1008" y1="295.91" x2="1016" y2="295.91" stroke="#000" stroke-width="2.6"/>
<line x1="1008" y1="308.74" x2="1016" y2="308.74" stroke="#000" stroke-width="2.6"/>
<line x1="1008" y1="321.57" x2="1016" y2="321.57" stroke="#000" stroke-width="2.6"/>
<line x1="1002" y1="334.4" x2="1016" y2="334.4" stroke="#000" stroke-width="3"/>
<text x="999.3" y="343.4" font-size="26" font-weight="bold" text-anchor="end" fill="#000">0</text>
<line x1="1008" y1="347.23" x2="1016" y2="347.23" stroke="#000" stroke-width="2.6"/>
<line x1="1008" y1="360.06" x2="1016" y2="360.06" stroke="#000" stroke-width="2.6"/>
<line x1="1008" y1="372.89" x2="1016" y2="372.89" stroke="#000" stroke-width="2.6"/>
<line x1="1008" y1="385.72" x2="1016" y2="385.72" stroke="#000" stroke-width="2.6"/>
<line x1="1002" y1="398.55" x2="1016" y2="398.55" stroke="#000" stroke-width="3"/>
<text x="999.3" y="407.55" font-size="26" font-weight="bold" text-anchor="end" fill="#000">-1</text>
<line x1="1002" y1="398.55" x2="1498" y2="398.55" stroke="#000" stroke-width="3"/>
<line x1="1041.2" y1="398.55" x2="1041.2" y2="412" stroke="#000" stroke-width="3"/>
<line x1="1080.2" y1="398.55" x2="1080.2" y2="412" stroke="#000" stroke-width="3"/>
<line x1="1119.2" y1="398.55" x2="1119.2" y2="412" stroke="#000" stroke-width="3"/>
<line x1="1158.2" y1="398.55" x2="1158.2" y2="412" stroke="#000" stroke-width="3"/>
<line x1="1197.2" y1="398.55" x2="1197.2" y2="412" stroke="#000" stroke-width="3"/>
<line x1="1236.2" y1="398.55" x2="1236.2" y2="412" stroke="#000" stroke-width="3"/>
<line x1="1275.2" y1="398.55" x2="1275.2" y2="412" stroke="#000" stroke-width="3"/>
<line x1="1314.2" y1="398.55" x2="1314.2" y2="412" stroke="#000" stroke-width="3"/>
<line x1="1353.2" y1="398.55" x2="1353.2" y2="412" stroke="#000" stroke-width="3"/>
<line x1="1392.2" y1="398.55" x2="1392.2" y2="412" stroke="#000" stroke-width="3"/>
<line x1="1431.2" y1="398.55" x2="1431.2" y2="412" stroke="#000" stroke-width="3"/>
<line x1="1470.2" y1="398.55" x2="1470.2" y2="412" stroke="#000" stroke-width="3"/>
<circle cx="1025.4" cy="334.4" r="1.5" fill="#000"/>
<circle cx="1035.07" cy="334.4" r="1.5" fill="#000"/>
<circle cx="1044.74" cy="334.4" r="1.5" fill="#000"/>
<circle cx="1054.41" cy="334.4" r="1.5" fill="#000"/>
<circle cx="1064.08" cy="334.4" r="1.5" fill="#000"/>
<circle cx="1073.75" cy="334.4" r="1.5" fill="#000"/>
<circle cx="1083.42" cy="334.4" r="1.5" fill="#000"/>
<circle cx="1093.09" cy="334.4" r="1.5" fill="#000"/>
<circle cx="1102.76" cy="334.4" r="1.5" fill="#000"/>
<circle cx="1112.43" cy="334.4" r="1.5" fill="#000"/>
<circle cx="1122.1" cy="334.4" r="1.5" fill="#000"/>
<circle cx="1131.77" cy="334.4" r="1.5" fill="#000"/>
<circle cx="1141.44" cy="334.4" r="1.5" fill="#000"/>
<circle cx="1151.11" cy="334.4" r="1.5" fill="#000"/>
<circle cx="1160.78" cy="334.4" r="1.5" fill="#000"/>
<circle cx="1170.45" cy="334.4" r="1.5" fill="#000"/>
<circle cx="1180.12" cy="334.4" r="1.5" fill="#000"/>
<circle cx="1189.79" cy="334.4" r="1.5" fill="#000"/>
<circle cx="1199.46" cy="334.4" r="1.5" fill="#000"/>
<circle cx="1209.13" cy="334.4" r="1.5" fill="#000"/>
<circle cx="1218.8" cy="334.4" r="1.5" fill="#000"/>
<circle cx="1228.47" cy="334.4" r="1.5" fill="#000"/>
<circle cx="1238.14" cy="334.4" r="1.5" fill="#000"/>
<circle cx="1247.81" cy="334.4" r="1.5" fill="#000"/>
<circle cx="1257.48" cy="334.4" r="1.5" fill="#000"/>
<circle cx="1267.15" cy="334.4" r="1.5" fill="#000"/>
<circle cx="1276.82" cy="334.4" r="1.5" fill="#000"/>
<circle cx="1286.49" cy="334.4" r="1.5" fill="#000"/>
<circle cx="1296.16" cy="334.4" r="1.5" fill="#000"/>
<circle cx="1305.83" cy="334.4" r="1.5" fill="#000"/>
<circle cx="1315.5" cy="334.4" r="1.5" fill="#000"/>
<circle cx="1325.17" cy="334.4" r="1.5" fill="#000"/>
<circle cx="1334.84" cy="334.4" r="1.5" fill="#000"/>
<circle cx="1344.51" cy="334.4" r="1.5" fill="#000"/>
<circle cx="1354.18" cy="334.4" r="1.5" fill="#000"/>
<circle cx="1363.85" cy="334.4" r="1.5" fill="#000"/>
<circle cx="1373.52" cy="334.4" r="1.5" fill="#000"/>
<circle cx="1383.19" cy="334.4" r="1.5" fill="#000"/>
<circle cx="1392.86" cy="334.4" r="1.5" fill="#000"/>
<circle cx="1402.53" cy="334.4" r="1.5" fill="#000"/>
<circle cx="1412.2" cy="334.4" r="1.5" fill="#000"/>
<circle cx="1421.87" cy="334.4" r="1.5" fill="#000"/>
<circle cx="1431.54" cy="334.4" r="1.5" fill="#000"/>
<circle cx="1441.21" cy="334.4" r="1.5" fill="#000"/>
<circle cx="1450.88" cy="334.4" r="1.5" fill="#000"/>
<circle cx="1460.55" cy="334.4" r="1.5" fill="#000"/>
<circle cx="1470.22" cy="334.4" r="1.5" fill="#000"/>
<circle cx="1479.89" cy="334.4" r="1.5" fill="#000"/>
<circle cx="1489.56" cy="334.4" r="1.5" fill="#000"/>
<line x1="1080.2" y1="322.6" x2="1080.2" y2="344.34" stroke="#000" stroke-width="2.2"/>
<line x1="1073.7" y1="322.6" x2="1086.7" y2="322.6" stroke="#000" stroke-width="2.2"/>
<line x1="1073.7" y1="344.34" x2="1086.7" y2="344.34" stroke="#000" stroke-width="2.2"/>
<line x1="1067.2" y1="333.12" x2="1093.2" y2="333.12" stroke="#000" stroke-width="3.2"/>
<line x1="1119.2" y1="321.89" x2="1119.2" y2="344.02" stroke="#000" stroke-width="2.2"/>
<line x1="1112.7" y1="321.89" x2="1125.7" y2="321.89" stroke="#000" stroke-width="2.2"/>
<line x1="1112.7" y1="344.02" x2="1125.7" y2="344.02" stroke="#000" stroke-width="2.2"/>
<line x1="1106.2" y1="333.12" x2="1132.2" y2="333.12" stroke="#000" stroke-width="3.2"/>
<line x1="1197.2" y1="279.55" x2="1197.2" y2="322.85" stroke="#000" stroke-width="2.2"/>
<line x1="1190.7" y1="279.55" x2="1203.7" y2="279.55" stroke="#000" stroke-width="2.2"/>
<line x1="1190.7" y1="322.85" x2="1203.7" y2="322.85" stroke="#000" stroke-width="2.2"/>
<line x1="1184.2" y1="301.04" x2="1210.2" y2="301.04" stroke="#000" stroke-width="3.2"/>
<line x1="1236.2" y1="119.5" x2="1236.2" y2="189.74" stroke="#000" stroke-width="2.2"/>
<line x1="1229.7" y1="119.5" x2="1242.7" y2="119.5" stroke="#000" stroke-width="2.2"/>
<line x1="1229.7" y1="189.74" x2="1242.7" y2="189.74" stroke="#000" stroke-width="2.2"/>
<line x1="1223.2" y1="154.78" x2="1249.2" y2="154.78" stroke="#000" stroke-width="3.2"/>
<line x1="1275.2" y1="108.59" x2="1275.2" y2="199.68" stroke="#000" stroke-width="2.2"/>
<line x1="1268.7" y1="108.59" x2="1281.7" y2="108.59" stroke="#000" stroke-width="2.2"/>
<line x1="1268.7" y1="199.68" x2="1281.7" y2="199.68" stroke="#000" stroke-width="2.2"/>
<line x1="1262.2" y1="154.14" x2="1288.2" y2="154.14" stroke="#000" stroke-width="3.2"/>
<line x1="1314.2" y1="163.12" x2="1314.2" y2="282.44" stroke="#000" stroke-width="2.2"/>
<line x1="1307.7" y1="163.12" x2="1320.7" y2="163.12" stroke="#000" stroke-width="2.2"/>
<line x1="1307.7" y1="282.44" x2="1320.7" y2="282.44" stroke="#000" stroke-width="2.2"/>
<line x1="1301.2" y1="222.91" x2="1327.2" y2="222.91" stroke="#000" stroke-width="3.2"/>
<line x1="1353.2" y1="164.72" x2="1353.2" y2="279.55" stroke="#000" stroke-width="2.2"/>
<line x1="1346.7" y1="164.72" x2="1359.7" y2="164.72" stroke="#000" stroke-width="2.2"/>
<line x1="1346.7" y1="279.55" x2="1359.7" y2="279.55" stroke="#000" stroke-width="2.2"/>
<line x1="1340.2" y1="222.33" x2="1366.2" y2="222.33" stroke="#000" stroke-width="3.2"/>
<line x1="1392.2" y1="193.27" x2="1392.2" y2="270.25" stroke="#000" stroke-width="2.2"/>
<line x1="1385.7" y1="193.27" x2="1398.7" y2="193.27" stroke="#000" stroke-width="2.2"/>
<line x1="1385.7" y1="270.25" x2="1398.7" y2="270.25" stroke="#000" stroke-width="2.2"/>
<line x1="1379.2" y1="231.76" x2="1405.2" y2="231.76" stroke="#000" stroke-width="3.2"/>
<line x1="1431.2" y1="155.42" x2="1431.2" y2="255.17" stroke="#000" stroke-width="2.2"/>
<line x1="1424.7" y1="155.42" x2="1437.7" y2="155.42" stroke="#000" stroke-width="2.2"/>
<line x1="1424.7" y1="255.17" x2="1437.7" y2="255.17" stroke="#000" stroke-width="2.2"/>
<line x1="1418.2" y1="205.46" x2="1444.2" y2="205.46" stroke="#000" stroke-width="3.2"/>
<line x1="1470.2" y1="179.8" x2="1470.2" y2="215.08" stroke="#000" stroke-width="2.2"/>
<line x1="1463.7" y1="179.8" x2="1476.7" y2="179.8" stroke="#000" stroke-width="2.2"/>
<line x1="1463.7" y1="215.08" x2="1476.7" y2="215.08" stroke="#000" stroke-width="2.2"/>
<line x1="1457.2" y1="197.44" x2="1483.2" y2="197.44" stroke="#000" stroke-width="3.2"/>
<circle cx="1042.4" cy="333.65" r="3.3" fill="rgba(160,0,230,0.3)" stroke="rgba(160,0,230,0.55)" stroke-width="1"/>
<circle cx="1040.51" cy="331.53" r="3.3" fill="rgba(160,0,230,0.3)" stroke="rgba(160,0,230,0.55)" stroke-width="1"/>
<circle cx="1042.95" cy="333.4" r="3.3" fill="rgba(160,0,230,0.3)" stroke="rgba(160,0,230,0.55)" stroke-width="1"/>
<circle cx="1041.44" cy="334.85" r="3.3" fill="rgba(160,0,230,0.3)" stroke="rgba(160,0,230,0.55)" stroke-width="1"/>
<circle cx="1047.06" cy="332.85" r="3.3" fill="rgba(160,0,230,0.3)" stroke="rgba(160,0,230,0.55)" stroke-width="1"/>
<circle cx="1037.27" cy="335.26" r="3.3" fill="rgba(160,0,230,0.3)" stroke="rgba(160,0,230,0.55)" stroke-width="1"/>
<circle cx="1047.39" cy="335.28" r="3.3" fill="rgba(160,0,230,0.3)" stroke="rgba(160,0,230,0.55)" stroke-width="1"/>
<circle cx="1032.04" cy="332.57" r="3.3" fill="rgba(160,0,230,0.3)" stroke="rgba(160,0,230,0.55)" stroke-width="1"/>
<circle cx="1050.5" cy="331.27" r="3.3" fill="rgba(160,0,230,0.3)" stroke="rgba(160,0,230,0.55)" stroke-width="1"/>
<circle cx="1043.51" cy="332.75" r="3.3" fill="rgba(160,0,230,0.3)" stroke="rgba(160,0,230,0.55)" stroke-width="1"/>
<circle cx="1031.5" cy="334.98" r="3.3" fill="rgba(160,0,230,0.3)" stroke="rgba(160,0,230,0.55)" stroke-width="1"/>
<circle cx="1032.39" cy="333.31" r="3.3" fill="rgba(160,0,230,0.3)" stroke="rgba(160,0,230,0.55)" stroke-width="1"/>
<circle cx="1036.04" cy="334.83" r="3.3" fill="rgba(160,0,230,0.3)" stroke="rgba(160,0,230,0.55)" stroke-width="1"/>
<circle cx="1040.48" cy="335.55" r="3.3" fill="rgba(160,0,230,0.3)" stroke="rgba(160,0,230,0.55)" stroke-width="1"/>
<circle cx="1048.05" cy="333.7" r="3.3" fill="rgba(160,0,230,0.3)" stroke="rgba(160,0,230,0.55)" stroke-width="1"/>
<circle cx="1044.01" cy="333.35" r="3.3" fill="rgba(160,0,230,0.3)" stroke="rgba(160,0,230,0.55)" stroke-width="1"/>
<circle cx="1044.45" cy="333.44" r="3.3" fill="rgba(160,0,230,0.3)" stroke="rgba(160,0,230,0.55)" stroke-width="1"/>
<circle cx="1036.76" cy="333.63" r="3.3" fill="rgba(160,0,230,0.3)" stroke="rgba(160,0,230,0.55)" stroke-width="1"/>
<circle cx="1051.11" cy="331.2" r="3.3" fill="rgba(160,0,230,0.3)" stroke="rgba(160,0,230,0.55)" stroke-width="1"/>
<circle cx="1045.36" cy="331.91" r="3.3" fill="rgba(160,0,230,0.3)" stroke="rgba(160,0,230,0.55)" stroke-width="1"/>
<circle cx="1035.79" cy="334.27" r="3.3" fill="rgba(160,0,230,0.3)" stroke="rgba(160,0,230,0.55)" stroke-width="1"/>
<circle cx="1032.6" cy="333.73" r="3.3" fill="rgba(160,0,230,0.3)" stroke="rgba(160,0,230,0.55)" stroke-width="1"/>
<circle cx="1039.21" cy="329.44" r="3.3" fill="rgba(160,0,230,0.3)" stroke="rgba(160,0,230,0.55)" stroke-width="1"/>
<circle cx="1038.93" cy="328.72" r="3.3" fill="rgba(160,0,230,0.3)" stroke="rgba(160,0,230,0.55)" stroke-width="1"/>
<circle cx="1048.15" cy="327.72" r="3.3" fill="rgba(160,0,230,0.3)" stroke="rgba(160,0,230,0.55)" stroke-width="1"/>
<circle cx="1035.39" cy="336.32" r="3.3" fill="rgba(160,0,230,0.3)" stroke="rgba(160,0,230,0.55)" stroke-width="1"/>
<circle cx="1040.6" cy="328.15" r="3.3" fill="rgba(160,0,230,0.3)" stroke="rgba(160,0,230,0.55)" stroke-width="1"/>
<circle cx="1039.15" cy="327.52" r="3.3" fill="rgba(160,0,230,0.3)" stroke="rgba(160,0,230,0.55)" stroke-width="1"/>
<circle cx="1043.79" cy="335.67" r="3.3" fill="rgba(160,0,230,0.3)" stroke="rgba(160,0,230,0.55)" stroke-width="1"/>
<circle cx="1036.6" cy="329.33" r="3.3" fill="rgba(160,0,230,0.3)" stroke="rgba(160,0,230,0.55)" stroke-width="1"/>
<circle cx="1037.85" cy="335.54" r="3.3" fill="rgba(160,0,230,0.3)" stroke="rgba(160,0,230,0.55)" stroke-width="1"/>
<circle cx="1046.36" cy="327.67" r="3.3" fill="rgba(160,0,230,0.3)" stroke="rgba(160,0,230,0.55)" stroke-width="1"/>
<circle cx="1036.13" cy="335.26" r="3.3" fill="rgba(160,0,230,0.3)" stroke="rgba(160,0,230,0.55)" stroke-width="1"/>
<circle cx="1032.4" cy="335.42" r="3.3" fill="rgba(160,0,230,0.3)" stroke="rgba(160,0,230,0.55)" stroke-width="1"/>
<circle cx="1034.75" cy="329.17" r="3.3" fill="rgba(160,0,230,0.3)" stroke="rgba(160,0,230,0.55)" stroke-width="1"/>
<circle cx="1040.15" cy="331.3" r="3.3" fill="rgba(160,0,230,0.3)" stroke="rgba(160,0,230,0.55)" stroke-width="1"/>
<circle cx="1045.84" cy="334.61" r="3.3" fill="rgba(160,0,230,0.3)" stroke="rgba(160,0,230,0.55)" stroke-width="1"/>
<circle cx="1044.07" cy="335.15" r="3.3" fill="rgba(160,0,230,0.3)" stroke="rgba(160,0,230,0.55)" stroke-width="1"/>
<circle cx="1039.62" cy="335.28" r="3.3" fill="rgba(160,0,230,0.3)" stroke="rgba(160,0,230,0.55)" stroke-width="1"/>
<circle cx="1036.6" cy="334.41" r="3.3" fill="rgba(160,0,230,0.3)" stroke="rgba(160,0,230,0.55)" stroke-width="1"/>
<circle cx="1047.27" cy="327.6" r="3.3" fill="rgba(160,0,230,0.3)" stroke="rgba(160,0,230,0.55)" stroke-width="1"/>
<circle cx="1048.9" cy="333.59" r="3.3" fill="rgba(160,0,230,0.3)" stroke="rgba(160,0,230,0.55)" stroke-width="1"/>
<circle cx="1039.09" cy="334.43" r="3.3" fill="rgba(160,0,230,0.3)" stroke="rgba(160,0,230,0.55)" stroke-width="1"/>
<circle cx="1044.04" cy="328.65" r="3.3" fill="rgba(160,0,230,0.3)" stroke="rgba(160,0,230,0.55)" stroke-width="1"/>
<circle cx="1050.99" cy="335.42" r="3.3" fill="rgba(160,0,230,0.3)" stroke="rgba(160,0,230,0.55)" stroke-width="1"/>
<circle cx="1074.46" cy="334.71" r="3.3" fill="rgba(160,0,230,0.9)" stroke="rgba(160,0,230,0.9)" stroke-width="1"/>
<circle cx="1085.65" cy="334.62" r="3.3" fill="rgba(160,0,230,0.9)" stroke="rgba(160,0,230,0.9)" stroke-width="1"/>
<circle cx="1076.13" cy="334.95" r="3.3" fill="rgba(160,0,230,0.9)" stroke="rgba(160,0,230,0.9)" stroke-width="1"/>
<circle cx="1072" cy="334.29" r="3.3" fill="rgba(160,0,230,0.9)" stroke="rgba(160,0,230,0.9)" stroke-width="1"/>
<circle cx="1075.06" cy="334.27" r="3.3" fill="rgba(160,0,230,0.9)" stroke="rgba(160,0,230,0.9)" stroke-width="1"/>
<circle cx="1077.63" cy="334.46" r="3.3" fill="rgba(160,0,230,0.9)" stroke="rgba(160,0,230,0.9)" stroke-width="1"/>
<circle cx="1089.38" cy="334.42" r="3.3" fill="rgba(160,0,230,0.9)" stroke="rgba(160,0,230,0.9)" stroke-width="1"/>
<circle cx="1081.69" cy="333.93" r="3.3" fill="rgba(160,0,230,0.9)" stroke="rgba(160,0,230,0.9)" stroke-width="1"/>
<circle cx="1073.86" cy="334.84" r="3.3" fill="rgba(160,0,230,0.9)" stroke="rgba(160,0,230,0.9)" stroke-width="1"/>
<circle cx="1088.37" cy="333.99" r="3.3" fill="rgba(160,0,230,0.9)" stroke="rgba(160,0,230,0.9)" stroke-width="1"/>
<circle cx="1075.19" cy="334.8" r="3.3" fill="rgba(160,0,230,0.9)" stroke="rgba(160,0,230,0.9)" stroke-width="1"/>
<circle cx="1084.99" cy="333.83" r="3.3" fill="rgba(160,0,230,0.9)" stroke="rgba(160,0,230,0.9)" stroke-width="1"/>
<circle cx="1074.13" cy="333.82" r="3.3" fill="rgba(160,0,230,0.9)" stroke="rgba(160,0,230,0.9)" stroke-width="1"/>
<circle cx="1087.84" cy="334.27" r="3.3" fill="rgba(160,0,230,0.9)" stroke="rgba(160,0,230,0.9)" stroke-width="1"/>
<circle cx="1078.63" cy="334.91" r="3.3" fill="rgba(160,0,230,0.9)" stroke="rgba(160,0,230,0.9)" stroke-width="1"/>
<circle cx="1070.97" cy="333.81" r="3.3" fill="rgba(160,0,230,0.9)" stroke="rgba(160,0,230,0.9)" stroke-width="1"/>
<circle cx="1074.97" cy="334.14" r="3.3" fill="rgba(160,0,230,0.9)" stroke="rgba(160,0,230,0.9)" stroke-width="1"/>
<circle cx="1075.34" cy="333.98" r="3.3" fill="rgba(160,0,230,0.9)" stroke="rgba(160,0,230,0.9)" stroke-width="1"/>
<circle cx="1082.13" cy="334.67" r="3.3" fill="rgba(160,0,230,0.9)" stroke="rgba(160,0,230,0.9)" stroke-width="1"/>
<circle cx="1073.71" cy="334.12" r="3.3" fill="rgba(160,0,230,0.9)" stroke="rgba(160,0,230,0.9)" stroke-width="1"/>
<circle cx="1071.58" cy="334.75" r="3.3" fill="rgba(160,0,230,0.9)" stroke="rgba(160,0,230,0.9)" stroke-width="1"/>
<circle cx="1081.39" cy="333.95" r="3.3" fill="rgba(160,0,230,0.9)" stroke="rgba(160,0,230,0.9)" stroke-width="1"/>
<circle cx="1082.49" cy="334.68" r="3.3" fill="rgba(160,0,230,0.9)" stroke="rgba(160,0,230,0.9)" stroke-width="1"/>
<circle cx="1088.55" cy="334.78" r="3.3" fill="rgba(160,0,230,0.9)" stroke="rgba(160,0,230,0.9)" stroke-width="1"/>
<circle cx="1070.53" cy="334.7" r="3.3" fill="rgba(160,0,230,0.9)" stroke="rgba(160,0,230,0.9)" stroke-width="1"/>
<circle cx="1079.11" cy="334.96" r="3.3" fill="rgba(160,0,230,0.9)" stroke="rgba(160,0,230,0.9)" stroke-width="1"/>
<circle cx="1073.73" cy="334.57" r="3.3" fill="rgba(160,0,230,0.9)" stroke="rgba(160,0,230,0.9)" stroke-width="1"/>
<circle cx="1081.64" cy="334.87" r="3.3" fill="rgba(160,0,230,0.9)" stroke="rgba(160,0,230,0.9)" stroke-width="1"/>
<circle cx="1077.44" cy="333.9" r="3.3" fill="rgba(160,0,230,0.9)" stroke="rgba(160,0,230,0.9)" stroke-width="1"/>
<circle cx="1089.81" cy="334.2" r="3.3" fill="rgba(160,0,230,0.9)" stroke="rgba(160,0,230,0.9)" stroke-width="1"/>
<circle cx="1084.02" cy="334.29" r="3.3" fill="rgba(160,0,230,0.9)" stroke="rgba(160,0,230,0.9)" stroke-width="1"/>
<circle cx="1073.01" cy="335" r="3.3" fill="rgba(160,0,230,0.9)" stroke="rgba(160,0,230,0.9)" stroke-width="1"/>
<circle cx="1070.56" cy="333.87" r="3.3" fill="rgba(160,0,230,0.9)" stroke="rgba(160,0,230,0.9)" stroke-width="1"/>
<circle cx="1084.22" cy="333.81" r="3.3" fill="rgba(160,0,230,0.9)" stroke="rgba(160,0,230,0.9)" stroke-width="1"/>
<circle cx="1070.63" cy="334.23" r="3.3" fill="rgba(160,0,230,0.9)" stroke="rgba(160,0,230,0.9)" stroke-width="1"/>
<circle cx="1079.84" cy="334.1" r="3.3" fill="rgba(160,0,230,0.9)" stroke="rgba(160,0,230,0.9)" stroke-width="1"/>
<circle cx="1076.58" cy="333.76" r="3.3" fill="rgba(160,0,230,0.9)" stroke="rgba(160,0,230,0.9)" stroke-width="1"/>
<circle cx="1071.71" cy="334.34" r="3.3" fill="rgba(160,0,230,0.9)" stroke="rgba(160,0,230,0.9)" stroke-width="1"/>
<circle cx="1084.94" cy="333.89" r="3.3" fill="rgba(160,0,230,0.9)" stroke="rgba(160,0,230,0.9)" stroke-width="1"/>
<circle cx="1084.94" cy="334.14" r="3.3" fill="rgba(160,0,230,0.9)" stroke="rgba(160,0,230,0.9)" stroke-width="1"/>
<circle cx="1086.07" cy="333.87" r="3.3" fill="rgba(160,0,230,0.9)" stroke="rgba(160,0,230,0.9)" stroke-width="1"/>
<circle cx="1077.24" cy="334.16" r="3.3" fill="rgba(160,0,230,0.9)" stroke="rgba(160,0,230,0.9)" stroke-width="1"/>
<circle cx="1088.22" cy="333.92" r="3.3" fill="rgba(160,0,230,0.9)" stroke="rgba(160,0,230,0.9)" stroke-width="1"/>
<circle cx="1078.54" cy="334.03" r="3.3" fill="rgba(160,0,230,0.9)" stroke="rgba(160,0,230,0.9)" stroke-width="1"/>
<circle cx="1087.47" cy="334.31" r="3.3" fill="rgba(160,0,230,0.9)" stroke="rgba(160,0,230,0.9)" stroke-width="1"/>
<circle cx="1082.7" cy="334.55" r="3.3" fill="rgba(160,0,230,0.9)" stroke="rgba(160,0,230,0.9)" stroke-width="1"/>
<circle cx="1081.85" cy="334.26" r="3.3" fill="rgba(160,0,230,0.9)" stroke="rgba(160,0,230,0.9)" stroke-width="1"/>
<circle cx="1071.8" cy="334.22" r="3.3" fill="rgba(160,0,230,0.9)" stroke="rgba(160,0,230,0.9)" stroke-width="1"/>
<circle cx="1090.07" cy="333.91" r="3.3" fill="rgba(160,0,230,0.9)" stroke="rgba(160,0,230,0.9)" stroke-width="1"/>
<circle cx="1084.76" cy="334.54" r="3.3" fill="rgba(160,0,230,0.9)" stroke="rgba(160,0,230,0.9)" stroke-width="1"/>
<circle cx="1084.9" cy="334.3" r="3.3" fill="rgba(160,0,230,0.9)" stroke="rgba(160,0,230,0.9)" stroke-width="1"/>
<circle cx="1079.01" cy="333.97" r="3.3" fill="rgba(160,0,230,0.9)" stroke="rgba(160,0,230,0.9)" stroke-width="1"/>
<circle cx="1071.88" cy="334.08" r="3.3" fill="rgba(160,0,230,0.9)" stroke="rgba(160,0,230,0.9)" stroke-width="1"/>
<circle cx="1070.8" cy="334.27" r="3.3" fill="rgba(160,0,230,0.9)" stroke="rgba(160,0,230,0.9)" stroke-width="1"/>
<circle cx="1079.82" cy="334.75" r="3.3" fill="rgba(160,0,230,0.9)" stroke="rgba(160,0,230,0.9)" stroke-width="1"/>
<circle cx="1084.17" cy="334.4" r="3.3" fill="rgba(160,0,230,0.9)" stroke="rgba(160,0,230,0.9)" stroke-width="1"/>
<circle cx="1082.49" cy="333.86" r="3.3" fill="rgba(160,0,230,0.9)" stroke="rgba(160,0,230,0.9)" stroke-width="1"/>
<circle cx="1075.32" cy="335.03" r="3.3" fill="rgba(160,0,230,0.9)" stroke="rgba(160,0,230,0.9)" stroke-width="1"/>
<circle cx="1076.22" cy="334.17" r="3.3" fill="rgba(160,0,230,0.9)" stroke="rgba(160,0,230,0.9)" stroke-width="1"/>
<circle cx="1074.25" cy="334.82" r="3.3" fill="rgba(160,0,230,0.9)" stroke="rgba(160,0,230,0.9)" stroke-width="1"/>
<circle cx="1073.2" cy="327.98" r="3.3" fill="rgba(160,0,230,0.3)" stroke="rgba(160,0,230,0.6)" stroke-width="1"/>
<circle cx="1077.2" cy="326.06" r="3.3" fill="rgba(160,0,230,0.3)" stroke="rgba(160,0,230,0.6)" stroke-width="1"/>
<circle cx="1086.7" cy="327.98" r="3.3" fill="rgba(160,0,230,0.3)" stroke="rgba(160,0,230,0.6)" stroke-width="1"/>
<circle cx="1082.2" cy="329.27" r="3.3" fill="rgba(160,0,230,0.3)" stroke="rgba(160,0,230,0.6)" stroke-width="1"/>
<circle cx="1071.2" cy="330.55" r="3.3" fill="rgba(160,0,230,0.3)" stroke="rgba(160,0,230,0.6)" stroke-width="1"/>
<circle cx="1089.2" cy="331.19" r="3.3" fill="rgba(160,0,230,0.3)" stroke="rgba(160,0,230,0.6)" stroke-width="1"/>
<circle cx="1084.2" cy="329.91" r="3.3" fill="rgba(160,0,230,0.3)" stroke="rgba(160,0,230,0.6)" stroke-width="1"/>
<circle cx="1073.9" cy="280.77" r="3.3" fill="rgba(160,0,230,0.3)" stroke="rgba(160,0,230,0.6)" stroke-width="1"/>
<circle cx="1086.7" cy="279.36" r="3.3" fill="rgba(160,0,230,0.3)" stroke="rgba(160,0,230,0.6)" stroke-width="1"/>
<circle cx="1080.2" cy="179.8" r="3.3" fill="rgba(160,0,230,0.3)" stroke="rgba(160,0,230,0.6)" stroke-width="1"/>
<circle cx="1127.31" cy="334.19" r="3.3" fill="rgba(160,0,230,0.9)" stroke="rgba(160,0,230,0.9)" stroke-width="1"/>
<circle cx="1118.04" cy="333.9" r="3.3" fill="rgba(160,0,230,0.9)" stroke="rgba(160,0,230,0.9)" stroke-width="1"/>
<circle cx="1115.74" cy="334.19" r="3.3" fill="rgba(160,0,230,0.9)" stroke="rgba(160,0,230,0.9)" stroke-width="1"/>
<circle cx="1113.17" cy="334.49" r="3.3" fill="rgba(160,0,230,0.9)" stroke="rgba(160,0,230,0.9)" stroke-width="1"/>
<circle cx="1125.32" cy="333.87" r="3.3" fill="rgba(160,0,230,0.9)" stroke="rgba(160,0,230,0.9)" stroke-width="1"/>
<circle cx="1126.81" cy="334.55" r="3.3" fill="rgba(160,0,230,0.9)" stroke="rgba(160,0,230,0.9)" stroke-width="1"/>
<circle cx="1120.86" cy="334.64" r="3.3" fill="rgba(160,0,230,0.9)" stroke="rgba(160,0,230,0.9)" stroke-width="1"/>
<circle cx="1111.92" cy="334.4" r="3.3" fill="rgba(160,0,230,0.9)" stroke="rgba(160,0,230,0.9)" stroke-width="1"/>
<circle cx="1125.94" cy="333.95" r="3.3" fill="rgba(160,0,230,0.9)" stroke="rgba(160,0,230,0.9)" stroke-width="1"/>
<circle cx="1123.42" cy="333.82" r="3.3" fill="rgba(160,0,230,0.9)" stroke="rgba(160,0,230,0.9)" stroke-width="1"/>
<circle cx="1114.74" cy="334.82" r="3.3" fill="rgba(160,0,230,0.9)" stroke="rgba(160,0,230,0.9)" stroke-width="1"/>
<circle cx="1118.21" cy="334.69" r="3.3" fill="rgba(160,0,230,0.9)" stroke="rgba(160,0,230,0.9)" stroke-width="1"/>
<circle cx="1113.48" cy="334.51" r="3.3" fill="rgba(160,0,230,0.9)" stroke="rgba(160,0,230,0.9)" stroke-width="1"/>
<circle cx="1121.71" cy="334.41" r="3.3" fill="rgba(160,0,230,0.9)" stroke="rgba(160,0,230,0.9)" stroke-width="1"/>
<circle cx="1115.51" cy="333.96" r="3.3" fill="rgba(160,0,230,0.9)" stroke="rgba(160,0,230,0.9)" stroke-width="1"/>
<circle cx="1128.84" cy="334.46" r="3.3" fill="rgba(160,0,230,0.9)" stroke="rgba(160,0,230,0.9)" stroke-width="1"/>
<circle cx="1110.69" cy="335" r="3.3" fill="rgba(160,0,230,0.9)" stroke="rgba(160,0,230,0.9)" stroke-width="1"/>
<circle cx="1126.66" cy="334.99" r="3.3" fill="rgba(160,0,230,0.9)" stroke="rgba(160,0,230,0.9)" stroke-width="1"/>
<circle cx="1123.37" cy="334.31" r="3.3" fill="rgba(160,0,230,0.9)" stroke="rgba(160,0,230,0.9)" stroke-width="1"/>
<circle cx="1115.38" cy="334.03" r="3.3" fill="rgba(160,0,230,0.9)" stroke="rgba(160,0,230,0.9)" stroke-width="1"/>
<circle cx="1109.58" cy="334.87" r="3.3" fill="rgba(160,0,230,0.9)" stroke="rgba(160,0,230,0.9)" stroke-width="1"/>
<circle cx="1118.3" cy="335.01" r="3.3" fill="rgba(160,0,230,0.9)" stroke="rgba(160,0,230,0.9)" stroke-width="1"/>
<circle cx="1125.79" cy="334.74" r="3.3" fill="rgba(160,0,230,0.9)" stroke="rgba(160,0,230,0.9)" stroke-width="1"/>
<circle cx="1112.02" cy="334.98" r="3.3" fill="rgba(160,0,230,0.9)" stroke="rgba(160,0,230,0.9)" stroke-width="1"/>
<circle cx="1121.78" cy="334.47" r="3.3" fill="rgba(160,0,230,0.9)" stroke="rgba(160,0,230,0.9)" stroke-width="1"/>
<circle cx="1121.8" cy="334.2" r="3.3" fill="rgba(160,0,230,0.9)" stroke="rgba(160,0,230,0.9)" stroke-width="1"/>
<circle cx="1125.35" cy="333.81" r="3.3" fill="rgba(160,0,230,0.9)" stroke="rgba(160,0,230,0.9)" stroke-width="1"/>
<circle cx="1122.89" cy="334.79" r="3.3" fill="rgba(160,0,230,0.9)" stroke="rgba(160,0,230,0.9)" stroke-width="1"/>
<circle cx="1118.7" cy="334.81" r="3.3" fill="rgba(160,0,230,0.9)" stroke="rgba(160,0,230,0.9)" stroke-width="1"/>
<circle cx="1109.42" cy="334.44" r="3.3" fill="rgba(160,0,230,0.9)" stroke="rgba(160,0,230,0.9)" stroke-width="1"/>
<circle cx="1123.48" cy="334.81" r="3.3" fill="rgba(160,0,230,0.9)" stroke="rgba(160,0,230,0.9)" stroke-width="1"/>
<circle cx="1114.65" cy="334.6" r="3.3" fill="rgba(160,0,230,0.9)" stroke="rgba(160,0,230,0.9)" stroke-width="1"/>
<circle cx="1123.15" cy="334.37" r="3.3" fill="rgba(160,0,230,0.9)" stroke="rgba(160,0,230,0.9)" stroke-width="1"/>
<circle cx="1121.49" cy="334.07" r="3.3" fill="rgba(160,0,230,0.9)" stroke="rgba(160,0,230,0.9)" stroke-width="1"/>
<circle cx="1117.07" cy="334.03" r="3.3" fill="rgba(160,0,230,0.9)" stroke="rgba(160,0,230,0.9)" stroke-width="1"/>
<circle cx="1127.32" cy="334.93" r="3.3" fill="rgba(160,0,230,0.9)" stroke="rgba(160,0,230,0.9)" stroke-width="1"/>
<circle cx="1127.85" cy="334.11" r="3.3" fill="rgba(160,0,230,0.9)" stroke="rgba(160,0,230,0.9)" stroke-width="1"/>
<circle cx="1111.8" cy="334.46" r="3.3" fill="rgba(160,0,230,0.9)" stroke="rgba(160,0,230,0.9)" stroke-width="1"/>
<circle cx="1121.71" cy="333.87" r="3.3" fill="rgba(160,0,230,0.9)" stroke="rgba(160,0,230,0.9)" stroke-width="1"/>
<circle cx="1116.74" cy="334.31" r="3.3" fill="rgba(160,0,230,0.9)" stroke="rgba(160,0,230,0.9)" stroke-width="1"/>
<circle cx="1126.79" cy="334.02" r="3.3" fill="rgba(160,0,230,0.9)" stroke="rgba(160,0,230,0.9)" stroke-width="1"/>
<circle cx="1128.09" cy="334.45" r="3.3" fill="rgba(160,0,230,0.9)" stroke="rgba(160,0,230,0.9)" stroke-width="1"/>
<circle cx="1122.23" cy="334.78" r="3.3" fill="rgba(160,0,230,0.9)" stroke="rgba(160,0,230,0.9)" stroke-width="1"/>
<circle cx="1123.64" cy="333.99" r="3.3" fill="rgba(160,0,230,0.9)" stroke="rgba(160,0,230,0.9)" stroke-width="1"/>
<circle cx="1122.03" cy="334.12" r="3.3" fill="rgba(160,0,230,0.9)" stroke="rgba(160,0,230,0.9)" stroke-width="1"/>
<circle cx="1113.47" cy="333.89" r="3.3" fill="rgba(160,0,230,0.9)" stroke="rgba(160,0,230,0.9)" stroke-width="1"/>
<circle cx="1128.81" cy="333.79" r="3.3" fill="rgba(160,0,230,0.9)" stroke="rgba(160,0,230,0.9)" stroke-width="1"/>
<circle cx="1119.94" cy="334.03" r="3.3" fill="rgba(160,0,230,0.9)" stroke="rgba(160,0,230,0.9)" stroke-width="1"/>
<circle cx="1115.61" cy="333.87" r="3.3" fill="rgba(160,0,230,0.9)" stroke="rgba(160,0,230,0.9)" stroke-width="1"/>
<circle cx="1126.32" cy="334.59" r="3.3" fill="rgba(160,0,230,0.9)" stroke="rgba(160,0,230,0.9)" stroke-width="1"/>
<circle cx="1110.86" cy="334.48" r="3.3" fill="rgba(160,0,230,0.9)" stroke="rgba(160,0,230,0.9)" stroke-width="1"/>
<circle cx="1120.21" cy="334.06" r="3.3" fill="rgba(160,0,230,0.9)" stroke="rgba(160,0,230,0.9)" stroke-width="1"/>
<circle cx="1118.95" cy="335.01" r="3.3" fill="rgba(160,0,230,0.9)" stroke="rgba(160,0,230,0.9)" stroke-width="1"/>
<circle cx="1125.38" cy="334.96" r="3.3" fill="rgba(160,0,230,0.9)" stroke="rgba(160,0,230,0.9)" stroke-width="1"/>
<circle cx="1125.2" cy="334.82" r="3.3" fill="rgba(160,0,230,0.9)" stroke="rgba(160,0,230,0.9)" stroke-width="1"/>
<circle cx="1115.9" cy="334.03" r="3.3" fill="rgba(160,0,230,0.9)" stroke="rgba(160,0,230,0.9)" stroke-width="1"/>
<circle cx="1112.01" cy="334.85" r="3.3" fill="rgba(160,0,230,0.9)" stroke="rgba(160,0,230,0.9)" stroke-width="1"/>
<circle cx="1119.53" cy="334.11" r="3.3" fill="rgba(160,0,230,0.9)" stroke="rgba(160,0,230,0.9)" stroke-width="1"/>
<circle cx="1126" cy="334.16" r="3.3" fill="rgba(160,0,230,0.9)" stroke="rgba(160,0,230,0.9)" stroke-width="1"/>
<circle cx="1128.11" cy="334.41" r="3.3" fill="rgba(160,0,230,0.9)" stroke="rgba(160,0,230,0.9)" stroke-width="1"/>
<circle cx="1119.2" cy="238.82" r="3.3" fill="rgba(160,0,230,0.3)" stroke="rgba(160,0,230,0.6)" stroke-width="1"/>
<circle cx="1119.2" cy="261.91" r="3.3" fill="rgba(160,0,230,0.3)" stroke="rgba(160,0,230,0.6)" stroke-width="1"/>
<circle cx="1119.2" cy="270.25" r="3.3" fill="rgba(160,0,230,0.3)" stroke="rgba(160,0,230,0.6)" stroke-width="1"/>
<circle cx="1109.4" cy="274.74" r="3.3" fill="rgba(160,0,230,0.3)" stroke="rgba(160,0,230,0.6)" stroke-width="1"/>
<circle cx="1128.9" cy="273.46" r="3.3" fill="rgba(160,0,230,0.3)" stroke="rgba(160,0,230,0.6)" stroke-width="1"/>
<circle cx="1119.2" cy="315.15" r="3.3" fill="rgba(160,0,230,0.3)" stroke="rgba(160,0,230,0.6)" stroke-width="1"/>
<circle cx="1119.2" cy="326.06" r="3.3" fill="rgba(160,0,230,0.3)" stroke="rgba(160,0,230,0.6)" stroke-width="1"/>
<circle cx="1124.2" cy="329.91" r="3.3" fill="rgba(160,0,230,0.3)" stroke="rgba(160,0,230,0.6)" stroke-width="1"/>
<circle cx="1113.2" cy="331.19" r="3.3" fill="rgba(160,0,230,0.3)" stroke="rgba(160,0,230,0.6)" stroke-width="1"/>
<circle cx="1127.2" cy="330.55" r="3.3" fill="rgba(160,0,230,0.3)" stroke="rgba(160,0,230,0.6)" stroke-width="1"/>
<circle cx="1167.18" cy="334.93" r="3.3" fill="rgba(160,0,230,0.9)" stroke="rgba(160,0,230,0.9)" stroke-width="1"/>
<circle cx="1152.63" cy="334.37" r="3.3" fill="rgba(160,0,230,0.9)" stroke="rgba(160,0,230,0.9)" stroke-width="1"/>
<circle cx="1154" cy="334.11" r="3.3" fill="rgba(160,0,230,0.9)" stroke="rgba(160,0,230,0.9)" stroke-width="1"/>
<circle cx="1160.98" cy="334.37" r="3.3" fill="rgba(160,0,230,0.9)" stroke="rgba(160,0,230,0.9)" stroke-width="1"/>
<circle cx="1165.07" cy="334.32" r="3.3" fill="rgba(160,0,230,0.9)" stroke="rgba(160,0,230,0.9)" stroke-width="1"/>
<circle cx="1154.43" cy="334.55" r="3.3" fill="rgba(160,0,230,0.9)" stroke="rgba(160,0,230,0.9)" stroke-width="1"/>
<circle cx="1165.11" cy="333.89" r="3.3" fill="rgba(160,0,230,0.9)" stroke="rgba(160,0,230,0.9)" stroke-width="1"/>
<circle cx="1152.36" cy="333.95" r="3.3" fill="rgba(160,0,230,0.9)" stroke="rgba(160,0,230,0.9)" stroke-width="1"/>
<circle cx="1167.57" cy="334.37" r="3.3" fill="rgba(160,0,230,0.9)" stroke="rgba(160,0,230,0.9)" stroke-width="1"/>
<circle cx="1159.66" cy="334.78" r="3.3" fill="rgba(160,0,230,0.9)" stroke="rgba(160,0,230,0.9)" stroke-width="1"/>
<circle cx="1158.92" cy="334.4" r="3.3" fill="rgba(160,0,230,0.9)" stroke="rgba(160,0,230,0.9)" stroke-width="1"/>
<circle cx="1160.3" cy="335.01" r="3.3" fill="rgba(160,0,230,0.9)" stroke="rgba(160,0,230,0.9)" stroke-width="1"/>
<circle cx="1167.59" cy="334.38" r="3.3" fill="rgba(160,0,230,0.9)" stroke="rgba(160,0,230,0.9)" stroke-width="1"/>
<circle cx="1156.21" cy="334.01" r="3.3" fill="rgba(160,0,230,0.9)" stroke="rgba(160,0,230,0.9)" stroke-width="1"/>
<circle cx="1159.46" cy="334.41" r="3.3" fill="rgba(160,0,230,0.9)" stroke="rgba(160,0,230,0.9)" stroke-width="1"/>
<circle cx="1162.02" cy="334.96" r="3.3" fill="rgba(160,0,230,0.9)" stroke="rgba(160,0,230,0.9)" stroke-width="1"/>
<circle cx="1158.97" cy="334.51" r="3.3" fill="rgba(160,0,230,0.9)" stroke="rgba(160,0,230,0.9)" stroke-width="1"/>
<circle cx="1167.34" cy="333.86" r="3.3" fill="rgba(160,0,230,0.9)" stroke="rgba(160,0,230,0.9)" stroke-width="1"/>
<circle cx="1153.58" cy="334.43" r="3.3" fill="rgba(160,0,230,0.9)" stroke="rgba(160,0,230,0.9)" stroke-width="1"/>
<circle cx="1150.74" cy="334.49" r="3.3" fill="rgba(160,0,230,0.9)" stroke="rgba(160,0,230,0.9)" stroke-width="1"/>
<circle cx="1164.51" cy="333.89" r="3.3" fill="rgba(160,0,230,0.9)" stroke="rgba(160,0,230,0.9)" stroke-width="1"/>
<circle cx="1157.73" cy="334.63" r="3.3" fill="rgba(160,0,230,0.9)" stroke="rgba(160,0,230,0.9)" stroke-width="1"/>
<circle cx="1152.03" cy="334.25" r="3.3" fill="rgba(160,0,230,0.9)" stroke="rgba(160,0,230,0.9)" stroke-width="1"/>
<circle cx="1166.71" cy="334.88" r="3.3" fill="rgba(160,0,230,0.9)" stroke="rgba(160,0,230,0.9)" stroke-width="1"/>
<circle cx="1163.79" cy="335.01" r="3.3" fill="rgba(160,0,230,0.9)" stroke="rgba(160,0,230,0.9)" stroke-width="1"/>
<circle cx="1152.08" cy="334.75" r="3.3" fill="rgba(160,0,230,0.9)" stroke="rgba(160,0,230,0.9)" stroke-width="1"/>
<circle cx="1161.94" cy="334.63" r="3.3" fill="rgba(160,0,230,0.9)" stroke="rgba(160,0,230,0.9)" stroke-width="1"/>
<circle cx="1155.31" cy="334.25" r="3.3" fill="rgba(160,0,230,0.9)" stroke="rgba(160,0,230,0.9)" stroke-width="1"/>
<circle cx="1150.3" cy="334.1" r="3.3" fill="rgba(160,0,230,0.9)" stroke="rgba(160,0,230,0.9)" stroke-width="1"/>
<circle cx="1150.66" cy="334.39" r="3.3" fill="rgba(160,0,230,0.9)" stroke="rgba(160,0,230,0.9)" stroke-width="1"/>
<circle cx="1153.21" cy="334.79" r="3.3" fill="rgba(160,0,230,0.9)" stroke="rgba(160,0,230,0.9)" stroke-width="1"/>
<circle cx="1158.81" cy="334.48" r="3.3" fill="rgba(160,0,230,0.9)" stroke="rgba(160,0,230,0.9)" stroke-width="1"/>
<circle cx="1155.71" cy="334.51" r="3.3" fill="rgba(160,0,230,0.9)" stroke="rgba(160,0,230,0.9)" stroke-width="1"/>
<circle cx="1158.79" cy="334.84" r="3.3" fill="rgba(160,0,230,0.9)" stroke="rgba(160,0,230,0.9)" stroke-width="1"/>
<circle cx="1152.29" cy="334.23" r="3.3" fill="rgba(160,0,230,0.9)" stroke="rgba(160,0,230,0.9)" stroke-width="1"/>
<circle cx="1160.97" cy="334.36" r="3.3" fill="rgba(160,0,230,0.9)" stroke="rgba(160,0,230,0.9)" stroke-width="1"/>
<circle cx="1165.23" cy="334.26" r="3.3" fill="rgba(160,0,230,0.9)" stroke="rgba(160,0,230,0.9)" stroke-width="1"/>
<circle cx="1165.34" cy="334.74" r="3.3" fill="rgba(160,0,230,0.9)" stroke="rgba(160,0,230,0.9)" stroke-width="1"/>
<circle cx="1163.02" cy="334" r="3.3" fill="rgba(160,0,230,0.9)" stroke="rgba(160,0,230,0.9)" stroke-width="1"/>
<circle cx="1166.25" cy="334.64" r="3.3" fill="rgba(160,0,230,0.9)" stroke="rgba(160,0,230,0.9)" stroke-width="1"/>
<circle cx="1154.5" cy="333.86" r="3.3" fill="rgba(160,0,230,0.9)" stroke="rgba(160,0,230,0.9)" stroke-width="1"/>
<circle cx="1152.56" cy="333.76" r="3.3" fill="rgba(160,0,230,0.9)" stroke="rgba(160,0,230,0.9)" stroke-width="1"/>
<circle cx="1165.95" cy="334.87" r="3.3" fill="rgba(160,0,230,0.9)" stroke="rgba(160,0,230,0.9)" stroke-width="1"/>
<circle cx="1152.99" cy="334.11" r="3.3" fill="rgba(160,0,230,0.9)" stroke="rgba(160,0,230,0.9)" stroke-width="1"/>
<circle cx="1153.39" cy="334.92" r="3.3" fill="rgba(160,0,230,0.9)" stroke="rgba(160,0,230,0.9)" stroke-width="1"/>
<circle cx="1164.84" cy="334.5" r="3.3" fill="rgba(160,0,230,0.9)" stroke="rgba(160,0,230,0.9)" stroke-width="1"/>
<circle cx="1164" cy="334.88" r="3.3" fill="rgba(160,0,230,0.9)" stroke="rgba(160,0,230,0.9)" stroke-width="1"/>
<circle cx="1156.26" cy="334.16" r="3.3" fill="rgba(160,0,230,0.9)" stroke="rgba(160,0,230,0.9)" stroke-width="1"/>
<circle cx="1148.56" cy="334.78" r="3.3" fill="rgba(160,0,230,0.9)" stroke="rgba(160,0,230,0.9)" stroke-width="1"/>
<circle cx="1161.85" cy="333.87" r="3.3" fill="rgba(160,0,230,0.9)" stroke="rgba(160,0,230,0.9)" stroke-width="1"/>
<circle cx="1167.57" cy="334.89" r="3.3" fill="rgba(160,0,230,0.9)" stroke="rgba(160,0,230,0.9)" stroke-width="1"/>
<circle cx="1158.31" cy="334.07" r="3.3" fill="rgba(160,0,230,0.9)" stroke="rgba(160,0,230,0.9)" stroke-width="1"/>
<circle cx="1158.26" cy="334.16" r="3.3" fill="rgba(160,0,230,0.9)" stroke="rgba(160,0,230,0.9)" stroke-width="1"/>
<circle cx="1151.98" cy="334.95" r="3.3" fill="rgba(160,0,230,0.9)" stroke="rgba(160,0,230,0.9)" stroke-width="1"/>
<circle cx="1150.32" cy="334.99" r="3.3" fill="rgba(160,0,230,0.9)" stroke="rgba(160,0,230,0.9)" stroke-width="1"/>
<circle cx="1159.23" cy="334.38" r="3.3" fill="rgba(160,0,230,0.9)" stroke="rgba(160,0,230,0.9)" stroke-width="1"/>
<circle cx="1159.57" cy="334.85" r="3.3" fill="rgba(160,0,230,0.9)" stroke="rgba(160,0,230,0.9)" stroke-width="1"/>
<circle cx="1151.89" cy="334.78" r="3.3" fill="rgba(160,0,230,0.9)" stroke="rgba(160,0,230,0.9)" stroke-width="1"/>
<circle cx="1165" cy="333.77" r="3.3" fill="rgba(160,0,230,0.9)" stroke="rgba(160,0,230,0.9)" stroke-width="1"/>
<circle cx="1166.74" cy="334.92" r="3.3" fill="rgba(160,0,230,0.9)" stroke="rgba(160,0,230,0.9)" stroke-width="1"/>
<circle cx="1149.44" cy="333.82" r="3.3" fill="rgba(160,0,230,0.9)" stroke="rgba(160,0,230,0.9)" stroke-width="1"/>
<circle cx="1157.44" cy="334.06" r="3.3" fill="rgba(160,0,230,0.9)" stroke="rgba(160,0,230,0.9)" stroke-width="1"/>
<circle cx="1154.74" cy="334.44" r="3.3" fill="rgba(160,0,230,0.9)" stroke="rgba(160,0,230,0.9)" stroke-width="1"/>
<circle cx="1158.51" cy="334.49" r="3.3" fill="rgba(160,0,230,0.9)" stroke="rgba(160,0,230,0.9)" stroke-width="1"/>
<circle cx="1160.22" cy="335.02" r="3.3" fill="rgba(160,0,230,0.9)" stroke="rgba(160,0,230,0.9)" stroke-width="1"/>
<circle cx="1162.22" cy="333.96" r="3.3" fill="rgba(160,0,230,0.9)" stroke="rgba(160,0,230,0.9)" stroke-width="1"/>
<circle cx="1151.83" cy="334.46" r="3.3" fill="rgba(160,0,230,0.9)" stroke="rgba(160,0,230,0.9)" stroke-width="1"/>
<circle cx="1162.99" cy="334.52" r="3.3" fill="rgba(160,0,230,0.9)" stroke="rgba(160,0,230,0.9)" stroke-width="1"/>
<circle cx="1152.1" cy="334.83" r="3.3" fill="rgba(160,0,230,0.9)" stroke="rgba(160,0,230,0.9)" stroke-width="1"/>
<circle cx="1158.45" cy="335.02" r="3.3" fill="rgba(160,0,230,0.9)" stroke="rgba(160,0,230,0.9)" stroke-width="1"/>
<circle cx="1158.2" cy="332.76" r="3.3" fill="rgba(160,0,230,0.28)" stroke="rgba(160,0,230,0.55)" stroke-width="1"/>
<circle cx="1148.5" cy="332.05" r="3.3" fill="rgba(160,0,230,0.28)" stroke="rgba(160,0,230,0.55)" stroke-width="1"/>
<circle cx="1167.9" cy="331.34" r="3.3" fill="rgba(160,0,230,0.28)" stroke="rgba(160,0,230,0.55)" stroke-width="1"/>
<circle cx="1151.75" cy="330.62" r="3.3" fill="rgba(160,0,230,0.28)" stroke="rgba(160,0,230,0.55)" stroke-width="1"/>
<circle cx="1164.65" cy="329.91" r="3.3" fill="rgba(160,0,230,0.28)" stroke="rgba(160,0,230,0.55)" stroke-width="1"/>
<circle cx="1155" cy="329.2" r="3.3" fill="rgba(160,0,230,0.28)" stroke="rgba(160,0,230,0.55)" stroke-width="1"/>
<circle cx="1161.4" cy="328.48" r="3.3" fill="rgba(160,0,230,0.28)" stroke="rgba(160,0,230,0.55)" stroke-width="1"/>
<circle cx="1158.2" cy="327.77" r="3.3" fill="rgba(160,0,230,0.28)" stroke="rgba(160,0,230,0.55)" stroke-width="1"/>
<circle cx="1148.5" cy="327.06" r="3.3" fill="rgba(160,0,230,0.28)" stroke="rgba(160,0,230,0.55)" stroke-width="1"/>
<circle cx="1158.2" cy="326.24" r="3.3" fill="rgba(160,0,230,0.28)" stroke="rgba(160,0,230,0.55)" stroke-width="1"/>
<circle cx="1148.5" cy="325.33" r="3.3" fill="rgba(160,0,230,0.28)" stroke="rgba(160,0,230,0.55)" stroke-width="1"/>
<circle cx="1167.9" cy="324.41" r="3.3" fill="rgba(160,0,230,0.28)" stroke="rgba(160,0,230,0.55)" stroke-width="1"/>
<circle cx="1151.75" cy="323.49" r="3.3" fill="rgba(160,0,230,0.28)" stroke="rgba(160,0,230,0.55)" stroke-width="1"/>
<circle cx="1164.65" cy="322.58" r="3.3" fill="rgba(160,0,230,0.28)" stroke="rgba(160,0,230,0.55)" stroke-width="1"/>
<circle cx="1155" cy="321.66" r="3.3" fill="rgba(160,0,230,0.28)" stroke="rgba(160,0,230,0.55)" stroke-width="1"/>
<circle cx="1161.4" cy="320.75" r="3.3" fill="rgba(160,0,230,0.28)" stroke="rgba(160,0,230,0.55)" stroke-width="1"/>
<circle cx="1158.2" cy="319.83" r="3.3" fill="rgba(160,0,230,0.28)" stroke="rgba(160,0,230,0.55)" stroke-width="1"/>
<circle cx="1148.5" cy="318.91" r="3.3" fill="rgba(160,0,230,0.28)" stroke="rgba(160,0,230,0.55)" stroke-width="1"/>
<circle cx="1167.9" cy="318" r="3.3" fill="rgba(160,0,230,0.28)" stroke="rgba(160,0,230,0.55)" stroke-width="1"/>
<circle cx="1151.75" cy="317.08" r="3.3" fill="rgba(160,0,230,0.28)" stroke="rgba(160,0,230,0.55)" stroke-width="1"/>
<circle cx="1164.65" cy="316.16" r="3.3" fill="rgba(160,0,230,0.28)" stroke="rgba(160,0,230,0.55)" stroke-width="1"/>
<circle cx="1155" cy="315.25" r="3.3" fill="rgba(160,0,230,0.28)" stroke="rgba(160,0,230,0.55)" stroke-width="1"/>
<circle cx="1161.4" cy="314.33" r="3.3" fill="rgba(160,0,230,0.28)" stroke="rgba(160,0,230,0.55)" stroke-width="1"/>
<circle cx="1158.2" cy="313.34" r="3.3" fill="rgba(160,0,230,0.28)" stroke="rgba(160,0,230,0.55)" stroke-width="1"/>
<circle cx="1148.5" cy="312.27" r="3.3" fill="rgba(160,0,230,0.28)" stroke="rgba(160,0,230,0.55)" stroke-width="1"/>
<circle cx="1167.9" cy="311.2" r="3.3" fill="rgba(160,0,230,0.28)" stroke="rgba(160,0,230,0.55)" stroke-width="1"/>
<circle cx="1151.75" cy="310.13" r="3.3" fill="rgba(160,0,230,0.28)" stroke="rgba(160,0,230,0.55)" stroke-width="1"/>
<circle cx="1164.65" cy="309.06" r="3.3" fill="rgba(160,0,230,0.28)" stroke="rgba(160,0,230,0.55)" stroke-width="1"/>
<circle cx="1155" cy="307.99" r="3.3" fill="rgba(160,0,230,0.28)" stroke="rgba(160,0,230,0.55)" stroke-width="1"/>
<circle cx="1158.2" cy="306.82" r="3.3" fill="rgba(160,0,230,0.28)" stroke="rgba(160,0,230,0.55)" stroke-width="1"/>
<circle cx="1148.5" cy="305.53" r="3.3" fill="rgba(160,0,230,0.28)" stroke="rgba(160,0,230,0.55)" stroke-width="1"/>
<circle cx="1167.9" cy="304.25" r="3.3" fill="rgba(160,0,230,0.28)" stroke="rgba(160,0,230,0.55)" stroke-width="1"/>
<circle cx="1151.75" cy="302.97" r="3.3" fill="rgba(160,0,230,0.28)" stroke="rgba(160,0,230,0.55)" stroke-width="1"/>
<circle cx="1164.65" cy="301.68" r="3.3" fill="rgba(160,0,230,0.28)" stroke="rgba(160,0,230,0.55)" stroke-width="1"/>
<circle cx="1158.2" cy="300.4" r="3.3" fill="rgba(160,0,230,0.28)" stroke="rgba(160,0,230,0.55)" stroke-width="1"/>
<circle cx="1148.5" cy="299.12" r="3.3" fill="rgba(160,0,230,0.28)" stroke="rgba(160,0,230,0.55)" stroke-width="1"/>
<circle cx="1167.9" cy="297.83" r="3.3" fill="rgba(160,0,230,0.28)" stroke="rgba(160,0,230,0.55)" stroke-width="1"/>
<circle cx="1151.75" cy="296.55" r="3.3" fill="rgba(160,0,230,0.28)" stroke="rgba(160,0,230,0.55)" stroke-width="1"/>
<circle cx="1164.65" cy="295.27" r="3.3" fill="rgba(160,0,230,0.28)" stroke="rgba(160,0,230,0.55)" stroke-width="1"/>
<circle cx="1158.2" cy="293.99" r="3.3" fill="rgba(160,0,230,0.28)" stroke="rgba(160,0,230,0.55)" stroke-width="1"/>
<circle cx="1148.5" cy="292.7" r="3.3" fill="rgba(160,0,230,0.28)" stroke="rgba(160,0,230,0.55)" stroke-width="1"/>
<circle cx="1167.9" cy="291.42" r="3.3" fill="rgba(160,0,230,0.28)" stroke="rgba(160,0,230,0.55)" stroke-width="1"/>
<circle cx="1151.75" cy="290.14" r="3.3" fill="rgba(160,0,230,0.28)" stroke="rgba(160,0,230,0.55)" stroke-width="1"/>
<circle cx="1164.65" cy="288.85" r="3.3" fill="rgba(160,0,230,0.28)" stroke="rgba(160,0,230,0.55)" stroke-width="1"/>
<circle cx="1158.2" cy="287.57" r="3.3" fill="rgba(160,0,230,0.28)" stroke="rgba(160,0,230,0.55)" stroke-width="1"/>
<circle cx="1148.5" cy="286.29" r="3.3" fill="rgba(160,0,230,0.28)" stroke="rgba(160,0,230,0.55)" stroke-width="1"/>
<circle cx="1167.9" cy="285" r="3.3" fill="rgba(160,0,230,0.28)" stroke="rgba(160,0,230,0.55)" stroke-width="1"/>
<circle cx="1151.75" cy="283.72" r="3.3" fill="rgba(160,0,230,0.28)" stroke="rgba(160,0,230,0.55)" stroke-width="1"/>
<circle cx="1164.65" cy="282.44" r="3.3" fill="rgba(160,0,230,0.28)" stroke="rgba(160,0,230,0.55)" stroke-width="1"/>
<circle cx="1158.2" cy="281" r="3.3" fill="rgba(160,0,230,0.28)" stroke="rgba(160,0,230,0.55)" stroke-width="1"/>
<circle cx="1148.5" cy="279.39" r="3.3" fill="rgba(160,0,230,0.28)" stroke="rgba(160,0,230,0.55)" stroke-width="1"/>
<circle cx="1167.9" cy="277.79" r="3.3" fill="rgba(160,0,230,0.28)" stroke="rgba(160,0,230,0.55)" stroke-width="1"/>
<circle cx="1151.75" cy="276.18" r="3.3" fill="rgba(160,0,230,0.28)" stroke="rgba(160,0,230,0.55)" stroke-width="1"/>
<circle cx="1158.2" cy="274.58" r="3.3" fill="rgba(160,0,230,0.28)" stroke="rgba(160,0,230,0.55)" stroke-width="1"/>
<circle cx="1148.5" cy="272.98" r="3.3" fill="rgba(160,0,230,0.28)" stroke="rgba(160,0,230,0.55)" stroke-width="1"/>
<circle cx="1167.9" cy="271.37" r="3.3" fill="rgba(160,0,230,0.28)" stroke="rgba(160,0,230,0.55)" stroke-width="1"/>
<circle cx="1151.75" cy="269.77" r="3.3" fill="rgba(160,0,230,0.28)" stroke="rgba(160,0,230,0.55)" stroke-width="1"/>
<circle cx="1158.2" cy="268.17" r="3.3" fill="rgba(160,0,230,0.28)" stroke="rgba(160,0,230,0.55)" stroke-width="1"/>
<circle cx="1148.5" cy="266.56" r="3.3" fill="rgba(160,0,230,0.28)" stroke="rgba(160,0,230,0.55)" stroke-width="1"/>
<circle cx="1167.9" cy="264.96" r="3.3" fill="rgba(160,0,230,0.28)" stroke="rgba(160,0,230,0.55)" stroke-width="1"/>
<circle cx="1151.75" cy="263.35" r="3.3" fill="rgba(160,0,230,0.28)" stroke="rgba(160,0,230,0.55)" stroke-width="1"/>
<circle cx="1158.2" cy="261.75" r="3.3" fill="rgba(160,0,230,0.28)" stroke="rgba(160,0,230,0.55)" stroke-width="1"/>
<circle cx="1148.5" cy="260.15" r="3.3" fill="rgba(160,0,230,0.28)" stroke="rgba(160,0,230,0.55)" stroke-width="1"/>
<circle cx="1167.9" cy="258.54" r="3.3" fill="rgba(160,0,230,0.28)" stroke="rgba(160,0,230,0.55)" stroke-width="1"/>
<circle cx="1151.75" cy="256.94" r="3.3" fill="rgba(160,0,230,0.28)" stroke="rgba(160,0,230,0.55)" stroke-width="1"/>
<circle cx="1158.2" cy="255.34" r="3.3" fill="rgba(160,0,230,0.28)" stroke="rgba(160,0,230,0.55)" stroke-width="1"/>
<circle cx="1148.5" cy="253.73" r="3.3" fill="rgba(160,0,230,0.28)" stroke="rgba(160,0,230,0.55)" stroke-width="1"/>
<circle cx="1167.9" cy="252.13" r="3.3" fill="rgba(160,0,230,0.28)" stroke="rgba(160,0,230,0.55)" stroke-width="1"/>
<circle cx="1151.75" cy="250.52" r="3.3" fill="rgba(160,0,230,0.28)" stroke="rgba(160,0,230,0.55)" stroke-width="1"/>
<circle cx="1158.2" cy="248.65" r="3.3" fill="rgba(160,0,230,0.28)" stroke="rgba(160,0,230,0.55)" stroke-width="1"/>
<circle cx="1148.5" cy="246.51" r="3.3" fill="rgba(160,0,230,0.28)" stroke="rgba(160,0,230,0.55)" stroke-width="1"/>
<circle cx="1167.9" cy="244.38" r="3.3" fill="rgba(160,0,230,0.28)" stroke="rgba(160,0,230,0.55)" stroke-width="1"/>
<circle cx="1164.6" cy="193.91" r="3.3" fill="rgba(160,0,230,0.3)" stroke="rgba(160,0,230,0.6)" stroke-width="1"/>
<circle cx="1151.9" cy="199.68" r="3.3" fill="rgba(160,0,230,0.3)" stroke="rgba(160,0,230,0.6)" stroke-width="1"/>
<circle cx="1164.6" cy="225.99" r="3.3" fill="rgba(160,0,230,0.3)" stroke="rgba(160,0,230,0.6)" stroke-width="1"/>
<circle cx="1151.9" cy="230.48" r="3.3" fill="rgba(160,0,230,0.3)" stroke="rgba(160,0,230,0.6)" stroke-width="1"/>
<circle cx="1158.2" cy="239.46" r="3.3" fill="rgba(160,0,230,0.3)" stroke="rgba(160,0,230,0.6)" stroke-width="1"/>
<circle cx="1158.2" cy="247.8" r="3.3" fill="rgba(160,0,230,0.3)" stroke="rgba(160,0,230,0.6)" stroke-width="1"/>
<circle cx="1148.5" cy="249.72" r="3.3" fill="rgba(160,0,230,0.3)" stroke="rgba(160,0,230,0.6)" stroke-width="1"/>
<circle cx="1167.9" cy="249.72" r="3.3" fill="rgba(160,0,230,0.3)" stroke="rgba(160,0,230,0.6)" stroke-width="1"/>
<line x1="1041.2" y1="331.51" x2="1041.2" y2="333.44" stroke="#000" stroke-width="2.2"/>
<line x1="1034.7" y1="331.51" x2="1047.7" y2="331.51" stroke="#000" stroke-width="2.2"/>
<line x1="1034.7" y1="333.44" x2="1047.7" y2="333.44" stroke="#000" stroke-width="2.2"/>
<line x1="1028.2" y1="332.48" x2="1054.2" y2="332.48" stroke="#000" stroke-width="2.6"/>
<line x1="1158.2" y1="283.72" x2="1158.2" y2="345.31" stroke="#000" stroke-width="2.2"/>
<line x1="1151.7" y1="283.72" x2="1164.7" y2="283.72" stroke="#000" stroke-width="2.2"/>
<line x1="1151.7" y1="345.31" x2="1164.7" y2="345.31" stroke="#000" stroke-width="2.2"/>
<line x1="1145.2" y1="314.13" x2="1171.2" y2="314.13" stroke="#000" stroke-width="3.2"/>
<circle cx="1197.2" cy="265.31" r="3.3" fill="rgba(0,0,255,0.25)" stroke="rgba(0,0,255,0.55)" stroke-width="1"/>
<circle cx="1197.2" cy="275.64" r="3.3" fill="rgba(0,0,255,0.25)" stroke="rgba(0,0,255,0.55)" stroke-width="1"/>
<circle cx="1197.2" cy="295.46" r="3.3" fill="rgba(0,0,255,0.25)" stroke="rgba(0,0,255,0.55)" stroke-width="1"/>
<circle cx="1190.6" cy="305.02" r="3.3" fill="rgba(0,0,255,0.25)" stroke="rgba(0,0,255,0.55)" stroke-width="1"/>
<circle cx="1203.5" cy="305.02" r="3.3" fill="rgba(0,0,255,0.25)" stroke="rgba(0,0,255,0.55)" stroke-width="1"/>
<circle cx="1190.6" cy="319" r="3.3" fill="rgba(0,0,255,0.25)" stroke="rgba(0,0,255,0.55)" stroke-width="1"/>
<circle cx="1203.5" cy="320.93" r="3.3" fill="rgba(0,0,255,0.25)" stroke="rgba(0,0,255,0.55)" stroke-width="1"/>
<circle cx="1190.6" cy="326.06" r="3.3" fill="rgba(0,0,255,0.25)" stroke="rgba(0,0,255,0.55)" stroke-width="1"/>
<circle cx="1229.7" cy="126.55" r="3.3" fill="rgba(0,0,255,0.25)" stroke="rgba(0,0,255,0.55)" stroke-width="1"/>
<circle cx="1229.7" cy="130.4" r="3.3" fill="rgba(0,0,255,0.25)" stroke="rgba(0,0,255,0.55)" stroke-width="1"/>
<circle cx="1242.6" cy="120.14" r="3.3" fill="rgba(0,0,255,0.25)" stroke="rgba(0,0,255,0.55)" stroke-width="1"/>
<circle cx="1242.6" cy="130.4" r="3.3" fill="rgba(0,0,255,0.25)" stroke="rgba(0,0,255,0.55)" stroke-width="1"/>
<circle cx="1242.6" cy="135.53" r="3.3" fill="rgba(0,0,255,0.25)" stroke="rgba(0,0,255,0.55)" stroke-width="1"/>
<circle cx="1229.7" cy="140.03" r="3.3" fill="rgba(0,0,255,0.25)" stroke="rgba(0,0,255,0.55)" stroke-width="1"/>
<circle cx="1236.2" cy="174.67" r="3.3" fill="rgba(0,0,255,0.25)" stroke="rgba(0,0,255,0.55)" stroke-width="1"/>
<circle cx="1245.9" cy="174.67" r="3.3" fill="rgba(0,0,255,0.25)" stroke="rgba(0,0,255,0.55)" stroke-width="1"/>
<circle cx="1226.5" cy="179.16" r="3.3" fill="rgba(0,0,255,0.25)" stroke="rgba(0,0,255,0.55)" stroke-width="1"/>
<circle cx="1236.2" cy="233.04" r="3.3" fill="rgba(0,0,255,0.25)" stroke="rgba(0,0,255,0.55)" stroke-width="1"/>
<circle cx="1281.6" cy="109.87" r="3.3" fill="rgba(0,0,255,0.25)" stroke="rgba(0,0,255,0.55)" stroke-width="1"/>
<circle cx="1268.6" cy="113.08" r="3.3" fill="rgba(0,0,255,0.25)" stroke="rgba(0,0,255,0.55)" stroke-width="1"/>
<circle cx="1275.2" cy="120.78" r="3.3" fill="rgba(0,0,255,0.25)" stroke="rgba(0,0,255,0.55)" stroke-width="1"/>
<circle cx="1275.2" cy="131.69" r="3.3" fill="rgba(0,0,255,0.25)" stroke="rgba(0,0,255,0.55)" stroke-width="1"/>
<circle cx="1275.2" cy="142.59" r="3.3" fill="rgba(0,0,255,0.25)" stroke="rgba(0,0,255,0.55)" stroke-width="1"/>
<circle cx="1275.2" cy="152.21" r="3.3" fill="rgba(0,0,255,0.25)" stroke="rgba(0,0,255,0.55)" stroke-width="1"/>
<circle cx="1275.2" cy="162.48" r="3.3" fill="rgba(0,0,255,0.25)" stroke="rgba(0,0,255,0.55)" stroke-width="1"/>
<circle cx="1275.2" cy="214.44" r="3.3" fill="rgba(0,0,255,0.25)" stroke="rgba(0,0,255,0.55)" stroke-width="1"/>
<circle cx="1275.2" cy="239.46" r="3.3" fill="rgba(0,0,255,0.25)" stroke="rgba(0,0,255,0.55)" stroke-width="1"/>
<circle cx="1314.2" cy="136.82" r="3.3" fill="rgba(0,0,255,0.25)" stroke="rgba(0,0,255,0.55)" stroke-width="1"/>
<circle cx="1314.2" cy="145.16" r="3.3" fill="rgba(0,0,255,0.25)" stroke="rgba(0,0,255,0.55)" stroke-width="1"/>
<circle cx="1314.2" cy="190.38" r="3.3" fill="rgba(0,0,255,0.25)" stroke="rgba(0,0,255,0.55)" stroke-width="1"/>
<circle cx="1314.2" cy="209.31" r="3.3" fill="rgba(0,0,255,0.25)" stroke="rgba(0,0,255,0.55)" stroke-width="1"/>
<circle cx="1307.8" cy="232.4" r="3.3" fill="rgba(0,0,255,0.25)" stroke="rgba(0,0,255,0.55)" stroke-width="1"/>
<circle cx="1320.6" cy="231.12" r="3.3" fill="rgba(0,0,255,0.25)" stroke="rgba(0,0,255,0.55)" stroke-width="1"/>
<circle cx="1314.2" cy="275.38" r="3.3" fill="rgba(0,0,255,0.25)" stroke="rgba(0,0,255,0.55)" stroke-width="1"/>
<circle cx="1314.2" cy="290.78" r="3.3" fill="rgba(0,0,255,0.25)" stroke="rgba(0,0,255,0.55)" stroke-width="1"/>
<circle cx="1314.2" cy="298.48" r="3.3" fill="rgba(0,0,255,0.25)" stroke="rgba(0,0,255,0.55)" stroke-width="1"/>
<circle cx="1353.2" cy="172.1" r="3.3" fill="rgba(0,0,255,0.25)" stroke="rgba(0,0,255,0.55)" stroke-width="1"/>
<circle cx="1353.2" cy="182.36" r="3.3" fill="rgba(0,0,255,0.25)" stroke="rgba(0,0,255,0.55)" stroke-width="1"/>
<circle cx="1353.2" cy="191.99" r="3.3" fill="rgba(0,0,255,0.25)" stroke="rgba(0,0,255,0.55)" stroke-width="1"/>
<circle cx="1353.2" cy="259.34" r="3.3" fill="rgba(0,0,255,0.25)" stroke="rgba(0,0,255,0.55)" stroke-width="1"/>
<circle cx="1353.2" cy="304.89" r="3.3" fill="rgba(0,0,255,0.25)" stroke="rgba(0,0,255,0.55)" stroke-width="1"/>
<circle cx="1392.2" cy="192.63" r="3.3" fill="rgba(0,220,0,0.25)" stroke="rgba(0,220,0,0.6)" stroke-width="1"/>
<circle cx="1398.6" cy="202.89" r="3.3" fill="rgba(0,220,0,0.25)" stroke="rgba(0,220,0,0.6)" stroke-width="1"/>
<circle cx="1385.7" cy="208.67" r="3.3" fill="rgba(0,220,0,0.25)" stroke="rgba(0,220,0,0.6)" stroke-width="1"/>
<circle cx="1392.2" cy="225.99" r="3.3" fill="rgba(0,220,0,0.25)" stroke="rgba(0,220,0,0.6)" stroke-width="1"/>
<circle cx="1398.6" cy="239.46" r="3.3" fill="rgba(0,220,0,0.25)" stroke="rgba(0,220,0,0.6)" stroke-width="1"/>
<circle cx="1385.7" cy="245.23" r="3.3" fill="rgba(0,220,0,0.25)" stroke="rgba(0,220,0,0.6)" stroke-width="1"/>
<circle cx="1392.2" cy="307.46" r="3.3" fill="rgba(0,220,0,0.25)" stroke="rgba(0,220,0,0.6)" stroke-width="1"/>
<circle cx="1431.2" cy="144.52" r="3.3" fill="rgba(255,0,0,0.25)" stroke="rgba(255,0,0,0.55)" stroke-width="1"/>
<circle cx="1431.2" cy="151.89" r="3.3" fill="rgba(255,0,0,0.25)" stroke="rgba(255,0,0,0.55)" stroke-width="1"/>
<circle cx="1421.5" cy="156.06" r="3.3" fill="rgba(255,0,0,0.25)" stroke="rgba(255,0,0,0.55)" stroke-width="1"/>
<circle cx="1440.9" cy="158.63" r="3.3" fill="rgba(255,0,0,0.25)" stroke="rgba(255,0,0,0.55)" stroke-width="1"/>
<circle cx="1436" cy="161.19" r="3.3" fill="rgba(255,0,0,0.25)" stroke="rgba(255,0,0,0.55)" stroke-width="1"/>
<circle cx="1421.5" cy="163.76" r="3.3" fill="rgba(255,0,0,0.25)" stroke="rgba(255,0,0,0.55)" stroke-width="1"/>
<circle cx="1426.4" cy="166.97" r="3.3" fill="rgba(255,0,0,0.25)" stroke="rgba(255,0,0,0.55)" stroke-width="1"/>
<circle cx="1431.2" cy="167.61" r="3.3" fill="rgba(255,0,0,0.25)" stroke="rgba(255,0,0,0.55)" stroke-width="1"/>
<circle cx="1440.9" cy="166.97" r="3.3" fill="rgba(255,0,0,0.25)" stroke="rgba(255,0,0,0.55)" stroke-width="1"/>
<circle cx="1421.5" cy="172.1" r="3.3" fill="rgba(255,0,0,0.25)" stroke="rgba(255,0,0,0.55)" stroke-width="1"/>
<circle cx="1431.2" cy="173.38" r="3.3" fill="rgba(255,0,0,0.25)" stroke="rgba(255,0,0,0.55)" stroke-width="1"/>
<circle cx="1436" cy="173.38" r="3.3" fill="rgba(255,0,0,0.25)" stroke="rgba(255,0,0,0.55)" stroke-width="1"/>
<circle cx="1421.5" cy="175.95" r="3.3" fill="rgba(255,0,0,0.25)" stroke="rgba(255,0,0,0.55)" stroke-width="1"/>
<circle cx="1426.4" cy="179.16" r="3.3" fill="rgba(255,0,0,0.25)" stroke="rgba(255,0,0,0.55)" stroke-width="1"/>
<circle cx="1440.9" cy="176.59" r="3.3" fill="rgba(255,0,0,0.25)" stroke="rgba(255,0,0,0.55)" stroke-width="1"/>
<circle cx="1437.6" cy="183.65" r="3.3" fill="rgba(255,0,0,0.25)" stroke="rgba(255,0,0,0.55)" stroke-width="1"/>
<circle cx="1431.2" cy="190.06" r="3.3" fill="rgba(255,0,0,0.25)" stroke="rgba(255,0,0,0.55)" stroke-width="1"/>
<circle cx="1426.4" cy="193.91" r="3.3" fill="rgba(255,0,0,0.25)" stroke="rgba(255,0,0,0.55)" stroke-width="1"/>
<circle cx="1436" cy="194.55" r="3.3" fill="rgba(255,0,0,0.25)" stroke="rgba(255,0,0,0.55)" stroke-width="1"/>
<circle cx="1421.5" cy="198.4" r="3.3" fill="rgba(255,0,0,0.25)" stroke="rgba(255,0,0,0.55)" stroke-width="1"/>
<circle cx="1431.2" cy="198.4" r="3.3" fill="rgba(255,0,0,0.25)" stroke="rgba(255,0,0,0.55)" stroke-width="1"/>
<circle cx="1440.9" cy="199.04" r="3.3" fill="rgba(255,0,0,0.25)" stroke="rgba(255,0,0,0.55)" stroke-width="1"/>
<circle cx="1431.2" cy="207.38" r="3.3" fill="rgba(255,0,0,0.25)" stroke="rgba(255,0,0,0.55)" stroke-width="1"/>
<circle cx="1424.8" cy="226.63" r="3.3" fill="rgba(255,0,0,0.25)" stroke="rgba(255,0,0,0.55)" stroke-width="1"/>
<circle cx="1437.6" cy="226.63" r="3.3" fill="rgba(255,0,0,0.25)" stroke="rgba(255,0,0,0.55)" stroke-width="1"/>
<circle cx="1427.9" cy="238.82" r="3.3" fill="rgba(255,0,0,0.25)" stroke="rgba(255,0,0,0.55)" stroke-width="1"/>
<circle cx="1434.5" cy="238.82" r="3.3" fill="rgba(255,0,0,0.25)" stroke="rgba(255,0,0,0.55)" stroke-width="1"/>
<circle cx="1440.9" cy="239.14" r="3.3" fill="rgba(255,0,0,0.25)" stroke="rgba(255,0,0,0.55)" stroke-width="1"/>
<circle cx="1421.5" cy="243.63" r="3.3" fill="rgba(255,0,0,0.25)" stroke="rgba(255,0,0,0.55)" stroke-width="1"/>
<circle cx="1431.2" cy="250.68" r="3.3" fill="rgba(255,0,0,0.25)" stroke="rgba(255,0,0,0.55)" stroke-width="1"/>
<circle cx="1424.8" cy="268.97" r="3.3" fill="rgba(255,0,0,0.25)" stroke="rgba(255,0,0,0.55)" stroke-width="1"/>
<circle cx="1437.6" cy="269.61" r="3.3" fill="rgba(255,0,0,0.25)" stroke="rgba(255,0,0,0.55)" stroke-width="1"/>
<circle cx="1424.8" cy="276.02" r="3.3" fill="rgba(255,0,0,0.25)" stroke="rgba(255,0,0,0.55)" stroke-width="1"/>
<circle cx="1424.8" cy="283.08" r="3.3" fill="rgba(255,0,0,0.25)" stroke="rgba(255,0,0,0.55)" stroke-width="1"/>
<circle cx="1437.6" cy="281.16" r="3.3" fill="rgba(255,0,0,0.25)" stroke="rgba(255,0,0,0.55)" stroke-width="1"/>
<circle cx="1424.8" cy="334.4" r="3.3" fill="rgba(255,0,0,0.25)" stroke="rgba(255,0,0,0.55)" stroke-width="1"/>
<circle cx="1437.6" cy="334.4" r="3.3" fill="rgba(255,0,0,0.25)" stroke="rgba(255,0,0,0.55)" stroke-width="1"/>
<circle cx="1440.9" cy="170.82" r="3.3" fill="rgba(255,0,0,0.25)" stroke="rgba(255,0,0,0.55)" stroke-width="1"/>
<circle cx="1431.2" cy="180.44" r="3.3" fill="rgba(255,0,0,0.25)" stroke="rgba(255,0,0,0.55)" stroke-width="1"/>
<circle cx="1463.8" cy="187.5" r="3.3" fill="rgba(255,0,0,0.25)" stroke="rgba(255,0,0,0.55)" stroke-width="1"/>
<circle cx="1476.4" cy="186.85" r="3.3" fill="rgba(255,0,0,0.25)" stroke="rgba(255,0,0,0.55)" stroke-width="1"/>
<circle cx="1470.2" cy="217.65" r="3.3" fill="rgba(255,0,0,0.25)" stroke="rgba(255,0,0,0.55)" stroke-width="1"/>
<g transform="translate(1049.2,433.8) rotate(-45)">
<text x="0" y="0" font-size="24.2" font-weight="bold" text-anchor="end" fill="#000">Pre-Vaccine</text>
</g>
<g transform="translate(1088.2,433.8) rotate(-45)">
<text x="0" y="0" font-size="24.2" font-weight="bold" text-anchor="end" fill="#000">Paediatric Negatives</text>
</g>
<g transform="translate(1127.2,433.8) rotate(-45)">
<text x="0" y="0" font-size="24.2" font-weight="bold" text-anchor="end" fill="#000">Confounder ≤50</text>
</g>
<g transform="translate(1166.2,433.8) rotate(-45)">
<text x="0" y="0" font-size="24.2" font-weight="bold" text-anchor="end" fill="#000">Confounder ≥51</text>
</g>
<g transform="translate(1205.2,433.8) rotate(-45)">
<text x="0" y="0" font-size="24.2" font-weight="bold" text-anchor="end" fill="#000">MVA PD1 D24</text>
</g>
<g transform="translate(1244.2,433.8) rotate(-45)">
<text x="0" y="0" font-size="24.2" font-weight="bold" text-anchor="end" fill="#000">MVA PD2 D14</text>
</g>
<g transform="translate(1283.2,433.8) rotate(-45)">
<text x="0" y="0" font-size="24.2" font-weight="bold" text-anchor="end" fill="#000">MVA PD2 D43</text>
</g>
<g transform="translate(1322.2,433.8) rotate(-45)">
<text x="0" y="0" font-size="24.2" font-weight="bold" text-anchor="end" fill="#000">MVA PD2 D63</text>
</g>
<g transform="translate(1361.2,433.8) rotate(-45)">
<text x="0" y="0" font-size="24.2" font-weight="bold" text-anchor="end" fill="#000">Post-MVA Pool</text>
</g>
<g transform="translate(1400.2,433.8) rotate(-45)">
<text x="0" y="0" font-size="24.2" font-weight="bold" text-anchor="end" fill="#000">Post-ACAM Pool</text>
</g>
<g transform="translate(1439.2,433.8) rotate(-45)">
<text x="0" y="0" font-size="24.2" font-weight="bold" text-anchor="end" fill="#000">MPXV ≥2022</text>
</g>
<g transform="translate(1478.2,433.8) rotate(-45)">
<text x="0" y="0" font-size="24.2" font-weight="bold" text-anchor="end" fill="#000">MPXV ≤2021</text>
</g>
<text x="918" y="239" font-size="30.6" font-weight="bold" text-anchor="middle" fill="#000" transform="rotate(-90 918 239)">OD ±SD</text>
<text x="956" y="237.7" font-size="30.6" font-weight="bold" text-anchor="middle" fill="#000" transform="rotate(-90 956 237.7)">(minus blank OD)</text>
<text x="95" y="667" font-size="53" font-weight="bold" text-anchor="start" fill="#000">c)</text>
<line x1="190" y1="707.5" x2="190" y2="1031.82" stroke="#000" stroke-width="3"/>
<line x1="176.7" y1="1030.52" x2="190" y2="1030.52" stroke="#000" stroke-width="3"/>
<text x="173.6" y="1039.52" font-size="24.2" font-weight="bold" text-anchor="end" fill="#000">100</text>
<line x1="182.9" y1="1006.31" x2="190" y2="1006.31" stroke="#000" stroke-width="2.4"/>
<line x1="182.9" y1="992.15" x2="190" y2="992.15" stroke="#000" stroke-width="2.4"/>
<line x1="182.9" y1="982.1" x2="190" y2="982.1" stroke="#000" stroke-width="2.4"/>
<line x1="182.9" y1="974.3" x2="190" y2="974.3" stroke="#000" stroke-width="2.4"/>
<line x1="182.9" y1="967.93" x2="190" y2="967.93" stroke="#000" stroke-width="2.4"/>
<line x1="182.9" y1="962.55" x2="190" y2="962.55" stroke="#000" stroke-width="2.4"/>
<line x1="182.9" y1="957.88" x2="190" y2="957.88" stroke="#000" stroke-width="2.4"/>
<line x1="182.9" y1="953.77" x2="190" y2="953.77" stroke="#000" stroke-width="2.4"/>
<line x1="176.7" y1="950.09" x2="190" y2="950.09" stroke="#000" stroke-width="3"/>
<text x="173.6" y="959.09" font-size="24.2" font-weight="bold" text-anchor="end" fill="#000">1000</text>
<line x1="182.9" y1="925.88" x2="190" y2="925.88" stroke="#000" stroke-width="2.4"/>
<line x1="182.9" y1="911.72" x2="190" y2="911.72" stroke="#000" stroke-width="2.4"/>
<line x1="182.9" y1="901.67" x2="190" y2="901.67" stroke="#000" stroke-width="2.4"/>
<line x1="182.9" y1="893.87" x2="190" y2="893.87" stroke="#000" stroke-width="2.4"/>
<line x1="182.9" y1="887.5" x2="190" y2="887.5" stroke="#000" stroke-width="2.4"/>
<line x1="182.9" y1="882.12" x2="190" y2="882.12" stroke="#000" stroke-width="2.4"/>
<line x1="182.9" y1="877.45" x2="190" y2="877.45" stroke="#000" stroke-width="2.4"/>
<line x1="182.9" y1="873.34" x2="190" y2="873.34" stroke="#000" stroke-width="2.4"/>
<line x1="176.7" y1="869.66" x2="190" y2="869.66" stroke="#000" stroke-width="3"/>
<text x="173.6" y="878.66" font-size="24.2" font-weight="bold" text-anchor="end" fill="#000">10000</text>
<line x1="182.9" y1="845.45" x2="190" y2="845.45" stroke="#000" stroke-width="2.4"/>
<line x1="182.9" y1="831.29" x2="190" y2="831.29" stroke="#000" stroke-width="2.4"/>
<line x1="182.9" y1="821.24" x2="190" y2="821.24" stroke="#000" stroke-width="2.4"/>
<line x1="182.9" y1="813.44" x2="190" y2="813.44" stroke="#000" stroke-width="2.4"/>
<line x1="182.9" y1="807.07" x2="190" y2="807.07" stroke="#000" stroke-width="2.4"/>
<line x1="182.9" y1="801.69" x2="190" y2="801.69" stroke="#000" stroke-width="2.4"/>
<line x1="182.9" y1="797.02" x2="190" y2="797.02" stroke="#000" stroke-width="2.4"/>
<line x1="182.9" y1="792.91" x2="190" y2="792.91" stroke="#000" stroke-width="2.4"/>
<line x1="176.7" y1="789.23" x2="190" y2="789.23" stroke="#000" stroke-width="3"/>
<text x="173.6" y="798.23" font-size="24.2" font-weight="bold" text-anchor="end" fill="#000">100000</text>
<line x1="182.9" y1="765.02" x2="190" y2="765.02" stroke="#000" stroke-width="2.4"/>
<line x1="182.9" y1="750.86" x2="190" y2="750.86" stroke="#000" stroke-width="2.4"/>
<line x1="182.9" y1="740.81" x2="190" y2="740.81" stroke="#000" stroke-width="2.4"/>
<line x1="182.9" y1="733.01" x2="190" y2="733.01" stroke="#000" stroke-width="2.4"/>
<line x1="182.9" y1="726.64" x2="190" y2="726.64" stroke="#000" stroke-width="2.4"/>
<line x1="182.9" y1="721.26" x2="190" y2="721.26" stroke="#000" stroke-width="2.4"/>
<line x1="182.9" y1="716.59" x2="190" y2="716.59" stroke="#000" stroke-width="2.4"/>
<line x1="182.9" y1="712.48" x2="190" y2="712.48" stroke="#000" stroke-width="2.4"/>
<line x1="176.7" y1="708.8" x2="190" y2="708.8" stroke="#000" stroke-width="3"/>
<text x="173.6" y="717.8" font-size="24.2" font-weight="bold" text-anchor="end" fill="#000">1000000</text>
<line x1="175" y1="1030.52" x2="674.3" y2="1030.52" stroke="#000" stroke-width="3"/>
<line x1="215.6" y1="1030.52" x2="215.6" y2="1045" stroke="#000" stroke-width="3"/>
<line x1="254.77" y1="1030.52" x2="254.77" y2="1045" stroke="#000" stroke-width="3"/>
<line x1="293.94" y1="1030.52" x2="293.94" y2="1045" stroke="#000" stroke-width="3"/>
<line x1="333.11" y1="1030.52" x2="333.11" y2="1045" stroke="#000" stroke-width="3"/>
<line x1="372.28" y1="1030.52" x2="372.28" y2="1045" stroke="#000" stroke-width="3"/>
<line x1="411.45" y1="1030.52" x2="411.45" y2="1045" stroke="#000" stroke-width="3"/>
<line x1="450.62" y1="1030.52" x2="450.62" y2="1045" stroke="#000" stroke-width="3"/>
<line x1="489.79" y1="1030.52" x2="489.79" y2="1045" stroke="#000" stroke-width="3"/>
<line x1="528.96" y1="1030.52" x2="528.96" y2="1045" stroke="#000" stroke-width="3"/>
<line x1="568.13" y1="1030.52" x2="568.13" y2="1045" stroke="#000" stroke-width="3"/>
<line x1="607.3" y1="1030.52" x2="607.3" y2="1045" stroke="#000" stroke-width="3"/>
<line x1="646.47" y1="1030.52" x2="646.47" y2="1045" stroke="#000" stroke-width="3"/>
<rect x="242.02" y="925" width="25.5" height="105.52" fill="#c0c0ff" stroke="#8a8af6" stroke-width="1.2"/>
<circle cx="254.77" cy="883.01" r="3.8" fill="rgba(0,0,255,0.24)" stroke="rgba(0,0,255,0.5)" stroke-width="1.1"/>
<circle cx="254.77" cy="902.23" r="3.8" fill="rgba(0,0,255,0.24)" stroke="rgba(0,0,255,0.5)" stroke-width="1.1"/>
<circle cx="254.77" cy="922.74" r="3.8" fill="rgba(0,0,255,0.24)" stroke="rgba(0,0,255,0.5)" stroke-width="1.1"/>
<circle cx="261.37" cy="942.21" r="3.8" fill="rgba(0,0,255,0.24)" stroke="rgba(0,0,255,0.5)" stroke-width="1.1"/>
<circle cx="248.47" cy="947.76" r="3.8" fill="rgba(0,0,255,0.24)" stroke="rgba(0,0,255,0.5)" stroke-width="1.1"/>
<circle cx="254.77" cy="970.2" r="3.8" fill="rgba(0,0,255,0.24)" stroke="rgba(0,0,255,0.5)" stroke-width="1.1"/>
<circle cx="254.77" cy="981.14" r="3.8" fill="rgba(0,0,255,0.24)" stroke="rgba(0,0,255,0.5)" stroke-width="1.1"/>
<circle cx="254.77" cy="987.33" r="3.8" fill="rgba(0,0,255,0.24)" stroke="rgba(0,0,255,0.5)" stroke-width="1.1"/>
<line x1="254.77" y1="913.33" x2="254.77" y2="941.89" stroke="#2a2a2a" stroke-width="1.4"/>
<line x1="248.27" y1="913.33" x2="261.27" y2="913.33" stroke="#2a2a2a" stroke-width="1.4"/>
<line x1="248.27" y1="941.89" x2="261.27" y2="941.89" stroke="#2a2a2a" stroke-width="1.4"/>
<rect x="281.19" y="814.81" width="25.5" height="215.71" fill="#c0c0ff" stroke="#8a8af6" stroke-width="1.2"/>
<circle cx="293.94" cy="770.57" r="3.8" fill="rgba(0,0,255,0.24)" stroke="rgba(0,0,255,0.5)" stroke-width="1.1"/>
<circle cx="293.94" cy="802.58" r="3.8" fill="rgba(0,0,255,0.24)" stroke="rgba(0,0,255,0.5)" stroke-width="1.1"/>
<circle cx="293.94" cy="806.92" r="3.8" fill="rgba(0,0,255,0.24)" stroke="rgba(0,0,255,0.5)" stroke-width="1.1"/>
<circle cx="284.34" cy="813.36" r="3.8" fill="rgba(0,0,255,0.24)" stroke="rgba(0,0,255,0.5)" stroke-width="1.1"/>
<circle cx="303.94" cy="810.95" r="3.8" fill="rgba(0,0,255,0.24)" stroke="rgba(0,0,255,0.5)" stroke-width="1.1"/>
<circle cx="293.94" cy="839.9" r="3.8" fill="rgba(0,0,255,0.24)" stroke="rgba(0,0,255,0.5)" stroke-width="1.1"/>
<circle cx="287.64" cy="850.12" r="3.8" fill="rgba(0,0,255,0.24)" stroke="rgba(0,0,255,0.5)" stroke-width="1.1"/>
<circle cx="300.54" cy="847.46" r="3.8" fill="rgba(0,0,255,0.24)" stroke="rgba(0,0,255,0.5)" stroke-width="1.1"/>
<circle cx="293.94" cy="861.62" r="3.8" fill="rgba(0,0,255,0.24)" stroke="rgba(0,0,255,0.5)" stroke-width="1.1"/>
<circle cx="293.94" cy="886.71" r="3.8" fill="rgba(0,0,255,0.24)" stroke="rgba(0,0,255,0.5)" stroke-width="1.1"/>
<line x1="293.94" y1="805.32" x2="293.94" y2="828.16" stroke="#2a2a2a" stroke-width="1.4"/>
<line x1="287.44" y1="805.32" x2="300.44" y2="805.32" stroke="#2a2a2a" stroke-width="1.4"/>
<line x1="287.44" y1="828.16" x2="300.44" y2="828.16" stroke="#2a2a2a" stroke-width="1.4"/>
<rect x="320.36" y="855.99" width="25.5" height="174.53" fill="#c0c0ff" stroke="#8a8af6" stroke-width="1.2"/>
<circle cx="333.11" cy="833.63" r="3.8" fill="rgba(0,0,255,0.24)" stroke="rgba(0,0,255,0.5)" stroke-width="1.1"/>
<circle cx="333.11" cy="836.44" r="3.8" fill="rgba(0,0,255,0.24)" stroke="rgba(0,0,255,0.5)" stroke-width="1.1"/>
<circle cx="323.51" cy="842.56" r="3.8" fill="rgba(0,0,255,0.24)" stroke="rgba(0,0,255,0.5)" stroke-width="1.1"/>
<circle cx="343.11" cy="842.23" r="3.8" fill="rgba(0,0,255,0.24)" stroke="rgba(0,0,255,0.5)" stroke-width="1.1"/>
<circle cx="326.71" cy="872.88" r="3.8" fill="rgba(0,0,255,0.24)" stroke="rgba(0,0,255,0.5)" stroke-width="1.1"/>
<circle cx="339.41" cy="870.06" r="3.8" fill="rgba(0,0,255,0.24)" stroke="rgba(0,0,255,0.5)" stroke-width="1.1"/>
<circle cx="326.71" cy="883.01" r="3.8" fill="rgba(0,0,255,0.24)" stroke="rgba(0,0,255,0.5)" stroke-width="1.1"/>
<circle cx="339.41" cy="878.83" r="3.8" fill="rgba(0,0,255,0.24)" stroke="rgba(0,0,255,0.5)" stroke-width="1.1"/>
<circle cx="333.11" cy="909.88" r="3.8" fill="rgba(0,0,255,0.24)" stroke="rgba(0,0,255,0.5)" stroke-width="1.1"/>
<line x1="333.11" y1="849.31" x2="333.11" y2="864.03" stroke="#2a2a2a" stroke-width="1.4"/>
<line x1="326.61" y1="849.31" x2="339.61" y2="849.31" stroke="#2a2a2a" stroke-width="1.4"/>
<line x1="326.61" y1="864.03" x2="339.61" y2="864.03" stroke="#2a2a2a" stroke-width="1.4"/>
<rect x="359.53" y="876.34" width="25.5" height="154.18" fill="#c0c0ff" stroke="#8a8af6" stroke-width="1.2"/>
<circle cx="365.88" cy="847.7" r="3.8" fill="rgba(0,0,255,0.24)" stroke="rgba(0,0,255,0.5)" stroke-width="1.1"/>
<circle cx="378.68" cy="844.16" r="3.8" fill="rgba(0,0,255,0.24)" stroke="rgba(0,0,255,0.5)" stroke-width="1.1"/>
<circle cx="372.28" cy="868.13" r="3.8" fill="rgba(0,0,255,0.24)" stroke="rgba(0,0,255,0.5)" stroke-width="1.1"/>
<circle cx="365.88" cy="881.08" r="3.8" fill="rgba(0,0,255,0.24)" stroke="rgba(0,0,255,0.5)" stroke-width="1.1"/>
<circle cx="378.68" cy="880.12" r="3.8" fill="rgba(0,0,255,0.24)" stroke="rgba(0,0,255,0.5)" stroke-width="1.1"/>
<circle cx="372.28" cy="899.18" r="3.8" fill="rgba(0,0,255,0.24)" stroke="rgba(0,0,255,0.5)" stroke-width="1.1"/>
<circle cx="365.88" cy="922.26" r="3.8" fill="rgba(0,0,255,0.24)" stroke="rgba(0,0,255,0.5)" stroke-width="1.1"/>
<circle cx="378.68" cy="922.26" r="3.8" fill="rgba(0,0,255,0.24)" stroke="rgba(0,0,255,0.5)" stroke-width="1.1"/>
<circle cx="372.28" cy="947.68" r="3.8" fill="rgba(0,0,255,0.24)" stroke="rgba(0,0,255,0.5)" stroke-width="1.1"/>
<line x1="372.28" y1="867.25" x2="372.28" y2="888.16" stroke="#2a2a2a" stroke-width="1.4"/>
<line x1="365.78" y1="867.25" x2="378.78" y2="867.25" stroke="#2a2a2a" stroke-width="1.4"/>
<line x1="365.78" y1="888.16" x2="378.78" y2="888.16" stroke="#2a2a2a" stroke-width="1.4"/>
<rect x="398.7" y="871.83" width="25.5" height="158.69" fill="#c0c0ff" stroke="#8a8af6" stroke-width="1.2"/>
<circle cx="405.05" cy="847.22" r="3.8" fill="rgba(0,0,255,0.24)" stroke="rgba(0,0,255,0.5)" stroke-width="1.1"/>
<circle cx="417.85" cy="842.72" r="3.8" fill="rgba(0,0,255,0.24)" stroke="rgba(0,0,255,0.5)" stroke-width="1.1"/>
<circle cx="411.45" cy="863.47" r="3.8" fill="rgba(0,0,255,0.24)" stroke="rgba(0,0,255,0.5)" stroke-width="1.1"/>
<circle cx="411.45" cy="879.15" r="3.8" fill="rgba(0,0,255,0.24)" stroke="rgba(0,0,255,0.5)" stroke-width="1.1"/>
<circle cx="417.85" cy="892.5" r="3.8" fill="rgba(0,0,255,0.24)" stroke="rgba(0,0,255,0.5)" stroke-width="1.1"/>
<circle cx="405.05" cy="896.12" r="3.8" fill="rgba(0,0,255,0.24)" stroke="rgba(0,0,255,0.5)" stroke-width="1.1"/>
<circle cx="411.45" cy="904.24" r="3.8" fill="rgba(0,0,255,0.24)" stroke="rgba(0,0,255,0.5)" stroke-width="1.1"/>
<circle cx="411.45" cy="926.52" r="3.8" fill="rgba(0,0,255,0.24)" stroke="rgba(0,0,255,0.5)" stroke-width="1.1"/>
<line x1="411.45" y1="863.23" x2="411.45" y2="883.01" stroke="#2a2a2a" stroke-width="1.4"/>
<line x1="404.95" y1="863.23" x2="417.95" y2="863.23" stroke="#2a2a2a" stroke-width="1.4"/>
<line x1="404.95" y1="883.01" x2="417.95" y2="883.01" stroke="#2a2a2a" stroke-width="1.4"/>
<rect x="437.87" y="893.07" width="25.5" height="137.45" fill="#c0c0ff" stroke="#8a8af6" stroke-width="1.2"/>
<circle cx="450.62" cy="868.05" r="3.8" fill="rgba(0,0,255,0.24)" stroke="rgba(0,0,255,0.5)" stroke-width="1.1"/>
<circle cx="444.42" cy="878.19" r="3.8" fill="rgba(0,0,255,0.24)" stroke="rgba(0,0,255,0.5)" stroke-width="1.1"/>
<circle cx="457.32" cy="877.38" r="3.8" fill="rgba(0,0,255,0.24)" stroke="rgba(0,0,255,0.5)" stroke-width="1.1"/>
<circle cx="450.62" cy="895.4" r="3.8" fill="rgba(0,0,255,0.24)" stroke="rgba(0,0,255,0.5)" stroke-width="1.1"/>
<circle cx="444.42" cy="922.26" r="3.8" fill="rgba(0,0,255,0.24)" stroke="rgba(0,0,255,0.5)" stroke-width="1.1"/>
<circle cx="457.32" cy="921.46" r="3.8" fill="rgba(0,0,255,0.24)" stroke="rgba(0,0,255,0.5)" stroke-width="1.1"/>
<circle cx="450.62" cy="954.11" r="3.8" fill="rgba(0,0,255,0.24)" stroke="rgba(0,0,255,0.5)" stroke-width="1.1"/>
<line x1="450.62" y1="884.46" x2="450.62" y2="903.04" stroke="#2a2a2a" stroke-width="1.4"/>
<line x1="444.12" y1="884.46" x2="457.12" y2="884.46" stroke="#2a2a2a" stroke-width="1.4"/>
<line x1="444.12" y1="903.04" x2="457.12" y2="903.04" stroke="#2a2a2a" stroke-width="1.4"/>
<rect x="477.04" y="899.18" width="25.5" height="131.34" fill="#c0c0ff" stroke="#8a8af6" stroke-width="1.2"/>
<circle cx="489.79" cy="876.09" r="3.8" fill="rgba(0,0,255,0.24)" stroke="rgba(0,0,255,0.5)" stroke-width="1.1"/>
<circle cx="496.49" cy="888" r="3.8" fill="rgba(0,0,255,0.24)" stroke="rgba(0,0,255,0.5)" stroke-width="1.1"/>
<circle cx="483.39" cy="892.18" r="3.8" fill="rgba(0,0,255,0.24)" stroke="rgba(0,0,255,0.5)" stroke-width="1.1"/>
<circle cx="489.79" cy="908.03" r="3.8" fill="rgba(0,0,255,0.24)" stroke="rgba(0,0,255,0.5)" stroke-width="1.1"/>
<circle cx="489.79" cy="923.15" r="3.8" fill="rgba(0,0,255,0.24)" stroke="rgba(0,0,255,0.5)" stroke-width="1.1"/>
<circle cx="489.79" cy="947.92" r="3.8" fill="rgba(0,0,255,0.24)" stroke="rgba(0,0,255,0.5)" stroke-width="1.1"/>
<line x1="489.79" y1="891.22" x2="489.79" y2="908.91" stroke="#2a2a2a" stroke-width="1.4"/>
<line x1="483.29" y1="891.22" x2="496.29" y2="891.22" stroke="#2a2a2a" stroke-width="1.4"/>
<line x1="483.29" y1="908.91" x2="496.29" y2="908.91" stroke="#2a2a2a" stroke-width="1.4"/>
<rect x="516.21" y="896.36" width="25.5" height="134.16" fill="#c0c0ff" stroke="#8a8af6" stroke-width="1.2"/>
<circle cx="528.96" cy="865.64" r="3.8" fill="rgba(0,0,255,0.24)" stroke="rgba(0,0,255,0.5)" stroke-width="1.1"/>
<circle cx="528.96" cy="889.2" r="3.8" fill="rgba(0,0,255,0.24)" stroke="rgba(0,0,255,0.5)" stroke-width="1.1"/>
<circle cx="528.96" cy="898.29" r="3.8" fill="rgba(0,0,255,0.24)" stroke="rgba(0,0,255,0.5)" stroke-width="1.1"/>
<circle cx="528.96" cy="910.12" r="3.8" fill="rgba(0,0,255,0.24)" stroke="rgba(0,0,255,0.5)" stroke-width="1.1"/>
<circle cx="528.96" cy="918.16" r="3.8" fill="rgba(0,0,255,0.24)" stroke="rgba(0,0,255,0.5)" stroke-width="1.1"/>
<circle cx="528.96" cy="945.02" r="3.8" fill="rgba(0,0,255,0.24)" stroke="rgba(0,0,255,0.5)" stroke-width="1.1"/>
<line x1="528.96" y1="886.71" x2="528.96" y2="908.91" stroke="#2a2a2a" stroke-width="1.4"/>
<line x1="522.46" y1="886.71" x2="535.46" y2="886.71" stroke="#2a2a2a" stroke-width="1.4"/>
<line x1="522.46" y1="908.91" x2="535.46" y2="908.91" stroke="#2a2a2a" stroke-width="1.4"/>
<rect x="555.38" y="857.92" width="25.5" height="172.6" fill="#8080ff" stroke="#2a2aff" stroke-width="1.2"/>
<circle cx="568.13" cy="834.27" r="3.8" fill="rgba(0,0,255,0.55)" stroke="rgba(0,0,255,0.8)" stroke-width="1.1"/>
<circle cx="574.53" cy="841.51" r="3.8" fill="rgba(0,0,255,0.55)" stroke="rgba(0,0,255,0.8)" stroke-width="1.1"/>
<circle cx="561.53" cy="846.98" r="3.8" fill="rgba(0,0,255,0.55)" stroke="rgba(0,0,255,0.8)" stroke-width="1.1"/>
<circle cx="568.13" cy="944.22" r="3.8" fill="rgba(0,0,255,0.55)" stroke="rgba(0,0,255,0.8)" stroke-width="1.1"/>
<circle cx="568.13" cy="983.71" r="3.8" fill="rgba(0,0,255,0.55)" stroke="rgba(0,0,255,0.8)" stroke-width="1.1"/>
<line x1="568.13" y1="846.09" x2="568.13" y2="875.21" stroke="#2a2a2a" stroke-width="1.4"/>
<line x1="561.63" y1="846.09" x2="574.63" y2="846.09" stroke="#2a2a2a" stroke-width="1.4"/>
<line x1="561.63" y1="875.21" x2="574.63" y2="875.21" stroke="#2a2a2a" stroke-width="1.4"/>
<rect x="594.55" y="889.77" width="25.5" height="140.75" fill="#c0ffc0" stroke="#80f880" stroke-width="1.2"/>
<circle cx="607.3" cy="868.53" r="3.8" fill="rgba(0,220,0,0.22)" stroke="rgba(0,220,0,0.5)" stroke-width="1.1"/>
<circle cx="597.5" cy="873.52" r="3.8" fill="rgba(0,220,0,0.22)" stroke="rgba(0,220,0,0.5)" stroke-width="1.1"/>
<circle cx="617" cy="869.66" r="3.8" fill="rgba(0,220,0,0.22)" stroke="rgba(0,220,0,0.5)" stroke-width="1.1"/>
<circle cx="607.3" cy="893.23" r="3.8" fill="rgba(0,220,0,0.22)" stroke="rgba(0,220,0,0.5)" stroke-width="1.1"/>
<circle cx="607.3" cy="913.9" r="3.8" fill="rgba(0,220,0,0.22)" stroke="rgba(0,220,0,0.5)" stroke-width="1.1"/>
<circle cx="607.3" cy="926.2" r="3.8" fill="rgba(0,220,0,0.22)" stroke="rgba(0,220,0,0.5)" stroke-width="1.1"/>
<circle cx="607.3" cy="968.27" r="3.8" fill="rgba(0,220,0,0.22)" stroke="rgba(0,220,0,0.5)" stroke-width="1.1"/>
<line x1="607.3" y1="881.4" x2="607.3" y2="900.79" stroke="#2a2a2a" stroke-width="1.4"/>
<line x1="600.8" y1="881.4" x2="613.8" y2="881.4" stroke="#2a2a2a" stroke-width="1.4"/>
<line x1="600.8" y1="900.79" x2="613.8" y2="900.79" stroke="#2a2a2a" stroke-width="1.4"/>
<rect x="633.72" y="841.51" width="25.5" height="189.01" fill="#ffc0c0" stroke="#ff9a9a" stroke-width="1.2"/>
<circle cx="646.52" cy="768.6" r="3.8" fill="rgba(255,0,0,0.2)" stroke="rgba(255,0,0,0.5)" stroke-width="1.1"/>
<circle cx="646.52" cy="786.77" r="3.8" fill="rgba(255,0,0,0.2)" stroke="rgba(255,0,0,0.5)" stroke-width="1.1"/>
<circle cx="652.91" cy="794.17" r="3.8" fill="rgba(255,0,0,0.2)" stroke="rgba(255,0,0,0.5)" stroke-width="1.1"/>
<circle cx="639.96" cy="799.22" r="3.8" fill="rgba(255,0,0,0.2)" stroke="rgba(255,0,0,0.5)" stroke-width="1.1"/>
<circle cx="652.91" cy="808.47" r="3.8" fill="rgba(255,0,0,0.2)" stroke="rgba(255,0,0,0.5)" stroke-width="1.1"/>
<circle cx="639.96" cy="812.01" r="3.8" fill="rgba(255,0,0,0.2)" stroke="rgba(255,0,0,0.5)" stroke-width="1.1"/>
<circle cx="639.96" cy="829.5" r="3.8" fill="rgba(255,0,0,0.2)" stroke="rgba(255,0,0,0.5)" stroke-width="1.1"/>
<circle cx="652.91" cy="828.66" r="3.8" fill="rgba(255,0,0,0.2)" stroke="rgba(255,0,0,0.5)" stroke-width="1.1"/>
<circle cx="646.52" cy="844.31" r="3.8" fill="rgba(255,0,0,0.2)" stroke="rgba(255,0,0,0.5)" stroke-width="1.1"/>
<circle cx="636.59" cy="848.51" r="3.8" fill="rgba(255,0,0,0.2)" stroke="rgba(255,0,0,0.5)" stroke-width="1.1"/>
<circle cx="643.32" cy="848.51" r="3.8" fill="rgba(255,0,0,0.2)" stroke="rgba(255,0,0,0.5)" stroke-width="1.1"/>
<circle cx="656.62" cy="848.85" r="3.8" fill="rgba(255,0,0,0.2)" stroke="rgba(255,0,0,0.5)" stroke-width="1.1"/>
<circle cx="649.55" cy="852.38" r="3.8" fill="rgba(255,0,0,0.2)" stroke="rgba(255,0,0,0.5)" stroke-width="1.1"/>
<circle cx="656.62" cy="856.08" r="3.8" fill="rgba(255,0,0,0.2)" stroke="rgba(255,0,0,0.5)" stroke-width="1.1"/>
<circle cx="646.52" cy="858.61" r="3.8" fill="rgba(255,0,0,0.2)" stroke="rgba(255,0,0,0.5)" stroke-width="1.1"/>
<circle cx="636.59" cy="860.63" r="3.8" fill="rgba(255,0,0,0.2)" stroke="rgba(255,0,0,0.5)" stroke-width="1.1"/>
<circle cx="656.62" cy="861.13" r="3.8" fill="rgba(255,0,0,0.2)" stroke="rgba(255,0,0,0.5)" stroke-width="1.1"/>
<circle cx="651.23" cy="862.81" r="3.8" fill="rgba(255,0,0,0.2)" stroke="rgba(255,0,0,0.5)" stroke-width="1.1"/>
<circle cx="636.59" cy="867.52" r="3.8" fill="rgba(255,0,0,0.2)" stroke="rgba(255,0,0,0.5)" stroke-width="1.1"/>
<circle cx="641.64" cy="866.18" r="3.8" fill="rgba(255,0,0,0.2)" stroke="rgba(255,0,0,0.5)" stroke-width="1.1"/>
<circle cx="639.96" cy="869.54" r="3.8" fill="rgba(255,0,0,0.2)" stroke="rgba(255,0,0,0.5)" stroke-width="1.1"/>
<circle cx="646.52" cy="867.52" r="3.8" fill="rgba(255,0,0,0.2)" stroke="rgba(255,0,0,0.5)" stroke-width="1.1"/>
<circle cx="649.55" cy="869.88" r="3.8" fill="rgba(255,0,0,0.2)" stroke="rgba(255,0,0,0.5)" stroke-width="1.1"/>
<circle cx="636.59" cy="873.24" r="3.8" fill="rgba(255,0,0,0.2)" stroke="rgba(255,0,0,0.5)" stroke-width="1.1"/>
<circle cx="644.5" cy="872.91" r="3.8" fill="rgba(255,0,0,0.2)" stroke="rgba(255,0,0,0.5)" stroke-width="1.1"/>
<circle cx="652.41" cy="874.59" r="3.8" fill="rgba(255,0,0,0.2)" stroke="rgba(255,0,0,0.5)" stroke-width="1.1"/>
<circle cx="656.62" cy="872.4" r="3.8" fill="rgba(255,0,0,0.2)" stroke="rgba(255,0,0,0.5)" stroke-width="1.1"/>
<circle cx="646.52" cy="885.52" r="3.8" fill="rgba(255,0,0,0.2)" stroke="rgba(255,0,0,0.5)" stroke-width="1.1"/>
<circle cx="646.52" cy="888.89" r="3.8" fill="rgba(255,0,0,0.2)" stroke="rgba(255,0,0,0.5)" stroke-width="1.1"/>
<circle cx="636.59" cy="893.1" r="3.8" fill="rgba(255,0,0,0.2)" stroke="rgba(255,0,0,0.5)" stroke-width="1.1"/>
<circle cx="656.62" cy="892.25" r="3.8" fill="rgba(255,0,0,0.2)" stroke="rgba(255,0,0,0.5)" stroke-width="1.1"/>
<circle cx="639.96" cy="902.35" r="3.8" fill="rgba(255,0,0,0.2)" stroke="rgba(255,0,0,0.5)" stroke-width="1.1"/>
<circle cx="652.91" cy="900.67" r="3.8" fill="rgba(255,0,0,0.2)" stroke="rgba(255,0,0,0.5)" stroke-width="1.1"/>
<circle cx="636.59" cy="918.33" r="3.8" fill="rgba(255,0,0,0.2)" stroke="rgba(255,0,0,0.5)" stroke-width="1.1"/>
<circle cx="643.32" cy="914.97" r="3.8" fill="rgba(255,0,0,0.2)" stroke="rgba(255,0,0,0.5)" stroke-width="1.1"/>
<circle cx="649.55" cy="918.33" r="3.8" fill="rgba(255,0,0,0.2)" stroke="rgba(255,0,0,0.5)" stroke-width="1.1"/>
<circle cx="656.62" cy="915.81" r="3.8" fill="rgba(255,0,0,0.2)" stroke="rgba(255,0,0,0.5)" stroke-width="1.1"/>
<circle cx="652.91" cy="925.57" r="3.8" fill="rgba(255,0,0,0.2)" stroke="rgba(255,0,0,0.5)" stroke-width="1.1"/>
<circle cx="639.96" cy="930.11" r="3.8" fill="rgba(255,0,0,0.2)" stroke="rgba(255,0,0,0.5)" stroke-width="1.1"/>
<line x1="646.47" y1="834.03" x2="646.47" y2="851.16" stroke="#333" stroke-width="1.6"/>
<line x1="639.97" y1="834.03" x2="652.97" y2="834.03" stroke="#333" stroke-width="1.6"/>
<line x1="639.97" y1="851.16" x2="652.97" y2="851.16" stroke="#333" stroke-width="1.6"/>
<g transform="translate(224.4,1067) rotate(-45)">
<text x="0" y="0" font-size="24" font-weight="bold" text-anchor="end" fill="#000">MVA PD0</text>
</g>
<g transform="translate(263.57,1067) rotate(-45)">
<text x="0" y="0" font-size="24" font-weight="bold" text-anchor="end" fill="#000">MVA PD1 D24</text>
</g>
<g transform="translate(302.74,1067) rotate(-45)">
<text x="0" y="0" font-size="24" font-weight="bold" text-anchor="end" fill="#000">MVA PD2 D14</text>
</g>
<g transform="translate(341.91,1067) rotate(-45)">
<text x="0" y="0" font-size="24" font-weight="bold" text-anchor="end" fill="#000">MVA PD2 D43</text>
</g>
<g transform="translate(381.08,1067) rotate(-45)">
<text x="0" y="0" font-size="24" font-weight="bold" text-anchor="end" fill="#000">MVA PD2 D63</text>
</g>
<g transform="translate(420.25,1067) rotate(-45)">
<text x="0" y="0" font-size="24" font-weight="bold" text-anchor="end" fill="#000">MVA PD2 D84</text>
</g>
<g transform="translate(459.42,1067) rotate(-45)">
<text x="0" y="0" font-size="24" font-weight="bold" text-anchor="end" fill="#000">MVA PD2 D122</text>
</g>
<g transform="translate(498.59,1067) rotate(-45)">
<text x="0" y="0" font-size="24" font-weight="bold" text-anchor="end" fill="#000">MVA PD2 D157</text>
</g>
<g transform="translate(537.76,1067) rotate(-45)">
<text x="0" y="0" font-size="24" font-weight="bold" text-anchor="end" fill="#000">MVA PD2 D185</text>
</g>
<g transform="translate(576.93,1067) rotate(-45)">
<text x="0" y="0" font-size="24" font-weight="bold" text-anchor="end" fill="#000">Post-MVA Pool</text>
</g>
<g transform="translate(616.1,1067) rotate(-45)">
<text x="0" y="0" font-size="24" font-weight="bold" text-anchor="end" fill="#000">Post-ACAM Pool</text>
</g>
<g transform="translate(655.27,1067) rotate(-45)">
<text x="0" y="0" font-size="24" font-weight="bold" text-anchor="end" fill="#000">MPVX ≥2022</text>
</g>
<text x="24.8" y="869" font-size="31.5" font-weight="bold" text-anchor="middle" fill="#000" transform="rotate(-90 24.8 869)">Mean Endpoint</text>
<text x="61.9" y="870.8" font-size="31.5" font-weight="bold" text-anchor="middle" fill="#000" transform="rotate(-90 61.9 870.8)">Titre ± SEM</text>
<text x="924" y="667" font-size="53" font-weight="bold" text-anchor="start" fill="#000">d)</text>
<line x1="1016.5" y1="707.2" x2="1016.5" y2="1029.6" stroke="#000" stroke-width="3"/>
<line x1="1002.5" y1="1028.3" x2="1016.5" y2="1028.3" stroke="#000" stroke-width="3"/>
<text x="1000.3" y="1037.1" font-size="24.2" font-weight="bold" text-anchor="end" fill="#000">0.001</text>
<line x1="1009" y1="1004.23" x2="1016.5" y2="1004.23" stroke="#000" stroke-width="2.4"/>
<line x1="1009" y1="990.15" x2="1016.5" y2="990.15" stroke="#000" stroke-width="2.4"/>
<line x1="1009" y1="980.17" x2="1016.5" y2="980.17" stroke="#000" stroke-width="2.4"/>
<line x1="1009" y1="972.42" x2="1016.5" y2="972.42" stroke="#000" stroke-width="2.4"/>
<line x1="1009" y1="966.09" x2="1016.5" y2="966.09" stroke="#000" stroke-width="2.4"/>
<line x1="1009" y1="960.73" x2="1016.5" y2="960.73" stroke="#000" stroke-width="2.4"/>
<line x1="1009" y1="956.1" x2="1016.5" y2="956.1" stroke="#000" stroke-width="2.4"/>
<line x1="1009" y1="952.01" x2="1016.5" y2="952.01" stroke="#000" stroke-width="2.4"/>
<line x1="1002.5" y1="948.35" x2="1016.5" y2="948.35" stroke="#000" stroke-width="3"/>
<text x="1000.3" y="957.15" font-size="24.2" font-weight="bold" text-anchor="end" fill="#000">0.01</text>
<line x1="1009" y1="924.28" x2="1016.5" y2="924.28" stroke="#000" stroke-width="2.4"/>
<line x1="1009" y1="910.2" x2="1016.5" y2="910.2" stroke="#000" stroke-width="2.4"/>
<line x1="1009" y1="900.22" x2="1016.5" y2="900.22" stroke="#000" stroke-width="2.4"/>
<line x1="1009" y1="892.47" x2="1016.5" y2="892.47" stroke="#000" stroke-width="2.4"/>
<line x1="1009" y1="886.14" x2="1016.5" y2="886.14" stroke="#000" stroke-width="2.4"/>
<line x1="1009" y1="880.78" x2="1016.5" y2="880.78" stroke="#000" stroke-width="2.4"/>
<line x1="1009" y1="876.15" x2="1016.5" y2="876.15" stroke="#000" stroke-width="2.4"/>
<line x1="1009" y1="872.06" x2="1016.5" y2="872.06" stroke="#000" stroke-width="2.4"/>
<line x1="1002.5" y1="868.4" x2="1016.5" y2="868.4" stroke="#000" stroke-width="3"/>
<text x="1000.3" y="877.2" font-size="24.2" font-weight="bold" text-anchor="end" fill="#000">0.1</text>
<line x1="1009" y1="844.33" x2="1016.5" y2="844.33" stroke="#000" stroke-width="2.4"/>
<line x1="1009" y1="830.25" x2="1016.5" y2="830.25" stroke="#000" stroke-width="2.4"/>
<line x1="1009" y1="820.27" x2="1016.5" y2="820.27" stroke="#000" stroke-width="2.4"/>
<line x1="1009" y1="812.52" x2="1016.5" y2="812.52" stroke="#000" stroke-width="2.4"/>
<line x1="1009" y1="806.19" x2="1016.5" y2="806.19" stroke="#000" stroke-width="2.4"/>
<line x1="1009" y1="800.83" x2="1016.5" y2="800.83" stroke="#000" stroke-width="2.4"/>
<line x1="1009" y1="796.2" x2="1016.5" y2="796.2" stroke="#000" stroke-width="2.4"/>
<line x1="1009" y1="792.11" x2="1016.5" y2="792.11" stroke="#000" stroke-width="2.4"/>
<line x1="1002.5" y1="788.45" x2="1016.5" y2="788.45" stroke="#000" stroke-width="3"/>
<text x="1000.3" y="797.25" font-size="24.2" font-weight="bold" text-anchor="end" fill="#000">1</text>
<line x1="1009" y1="764.38" x2="1016.5" y2="764.38" stroke="#000" stroke-width="2.4"/>
<line x1="1009" y1="750.3" x2="1016.5" y2="750.3" stroke="#000" stroke-width="2.4"/>
<line x1="1009" y1="740.32" x2="1016.5" y2="740.32" stroke="#000" stroke-width="2.4"/>
<line x1="1009" y1="732.57" x2="1016.5" y2="732.57" stroke="#000" stroke-width="2.4"/>
<line x1="1009" y1="726.24" x2="1016.5" y2="726.24" stroke="#000" stroke-width="2.4"/>
<line x1="1009" y1="720.88" x2="1016.5" y2="720.88" stroke="#000" stroke-width="2.4"/>
<line x1="1009" y1="716.25" x2="1016.5" y2="716.25" stroke="#000" stroke-width="2.4"/>
<line x1="1009" y1="712.16" x2="1016.5" y2="712.16" stroke="#000" stroke-width="2.4"/>
<line x1="1002.5" y1="708.5" x2="1016.5" y2="708.5" stroke="#000" stroke-width="3"/>
<text x="1000.3" y="717.3" font-size="24.2" font-weight="bold" text-anchor="end" fill="#000">10</text>
<line x1="1002.5" y1="1028.3" x2="1498" y2="1028.3" stroke="#000" stroke-width="3"/>
<line x1="1047.3" y1="1028.3" x2="1047.3" y2="1043" stroke="#000" stroke-width="3"/>
<line x1="1093.67" y1="1028.3" x2="1093.67" y2="1043" stroke="#000" stroke-width="3"/>
<line x1="1140.04" y1="1028.3" x2="1140.04" y2="1043" stroke="#000" stroke-width="3"/>
<line x1="1186.41" y1="1028.3" x2="1186.41" y2="1043" stroke="#000" stroke-width="3"/>
<line x1="1232.78" y1="1028.3" x2="1232.78" y2="1043" stroke="#000" stroke-width="3"/>
<line x1="1279.15" y1="1028.3" x2="1279.15" y2="1043" stroke="#000" stroke-width="3"/>
<line x1="1325.52" y1="1028.3" x2="1325.52" y2="1043" stroke="#000" stroke-width="3"/>
<line x1="1371.89" y1="1028.3" x2="1371.89" y2="1043" stroke="#000" stroke-width="3"/>
<line x1="1418.26" y1="1028.3" x2="1418.26" y2="1043" stroke="#000" stroke-width="3"/>
<line x1="1464.63" y1="1028.3" x2="1464.63" y2="1043" stroke="#000" stroke-width="3"/>
<g stroke="#a000f0" stroke-opacity="0.5" stroke-width="1">
<line x1="1047.3" y1="743.77" x2="1093.67" y2="744.09"/>
<line x1="1047.3" y1="745.15" x2="1093.67" y2="748.47"/>
<line x1="1047.3" y1="748.81" x2="1093.67" y2="747.93"/>
<line x1="1047.3" y1="749.95" x2="1093.67" y2="748.15"/>
<line x1="1047.3" y1="751.5" x2="1093.67" y2="744.42"/>
<line x1="1047.3" y1="752.54" x2="1093.67" y2="758.15"/>
<line x1="1047.3" y1="752.72" x2="1093.67" y2="744.22"/>
<line x1="1047.3" y1="753.81" x2="1093.67" y2="746.21"/>
<line x1="1047.3" y1="754.18" x2="1093.67" y2="752.06"/>
<line x1="1047.3" y1="759.3" x2="1093.67" y2="744.15"/>
<line x1="1047.3" y1="760.71" x2="1093.67" y2="756.11"/>
<line x1="1047.3" y1="761.26" x2="1093.67" y2="745.9"/>
<line x1="1047.3" y1="761.92" x2="1093.67" y2="749.29"/>
<line x1="1047.3" y1="762.11" x2="1093.67" y2="766.21"/>
<line x1="1047.3" y1="762.17" x2="1093.67" y2="744.05"/>
<line x1="1047.3" y1="765" x2="1093.67" y2="764.24"/>
<line x1="1047.3" y1="765.62" x2="1093.67" y2="758.83"/>
<line x1="1047.3" y1="765.76" x2="1093.67" y2="750.51"/>
<line x1="1047.3" y1="766.49" x2="1093.67" y2="767.15"/>
<line x1="1047.3" y1="766.63" x2="1093.67" y2="744.3"/>
<line x1="1047.3" y1="767.51" x2="1093.67" y2="760.97"/>
<line x1="1047.3" y1="769.25" x2="1093.67" y2="743.98"/>
<line x1="1047.3" y1="771.24" x2="1093.67" y2="750.87"/>
<line x1="1047.3" y1="772.45" x2="1093.67" y2="759.91"/>
<line x1="1047.3" y1="772.48" x2="1093.67" y2="768.02"/>
<line x1="1047.3" y1="773.09" x2="1093.67" y2="750.79"/>
<line x1="1047.3" y1="774.02" x2="1093.67" y2="758.67"/>
<line x1="1047.3" y1="774.13" x2="1093.67" y2="746.65"/>
<line x1="1047.3" y1="774.57" x2="1093.67" y2="770.92"/>
<line x1="1047.3" y1="774.73" x2="1093.67" y2="744.77"/>
<line x1="1047.3" y1="775.08" x2="1093.67" y2="743.99"/>
<line x1="1047.3" y1="775.45" x2="1093.67" y2="761.7"/>
<line x1="1047.3" y1="776.67" x2="1093.67" y2="752.86"/>
<line x1="1047.3" y1="777.4" x2="1093.67" y2="747.15"/>
<line x1="1047.3" y1="778.55" x2="1093.67" y2="745.43"/>
<line x1="1047.3" y1="780.73" x2="1093.67" y2="751.3"/>
<line x1="1047.3" y1="783.74" x2="1093.67" y2="750.23"/>
<line x1="1047.3" y1="783.96" x2="1093.67" y2="746.99"/>
<line x1="1047.3" y1="784.85" x2="1093.67" y2="756.65"/>
<line x1="1047.3" y1="785.07" x2="1093.67" y2="763.76"/>
<line x1="1047.3" y1="785.22" x2="1093.67" y2="744.58"/>
<line x1="1047.3" y1="786.15" x2="1093.67" y2="768.32"/>
<line x1="1047.3" y1="786.64" x2="1093.67" y2="745.79"/>
<line x1="1047.3" y1="787.73" x2="1093.67" y2="751.98"/>
<line x1="1047.3" y1="787.89" x2="1093.67" y2="748.27"/>
<line x1="1047.3" y1="787.93" x2="1093.67" y2="761.25"/>
<line x1="1047.3" y1="788.13" x2="1093.67" y2="747.53"/>
<line x1="1047.3" y1="788.77" x2="1093.67" y2="766.53"/>
<line x1="1047.3" y1="789.76" x2="1093.67" y2="770.31"/>
<line x1="1047.3" y1="790.4" x2="1093.67" y2="775.71"/>
<line x1="1047.3" y1="790.46" x2="1093.67" y2="766.47"/>
<line x1="1047.3" y1="790.54" x2="1093.67" y2="762.67"/>
<line x1="1047.3" y1="790.94" x2="1093.67" y2="774.37"/>
<line x1="1047.3" y1="792.36" x2="1093.67" y2="774.27"/>
<line x1="1047.3" y1="793.01" x2="1093.67" y2="760.07"/>
<line x1="1047.3" y1="793.35" x2="1093.67" y2="756.23"/>
<line x1="1047.3" y1="793.7" x2="1093.67" y2="756.63"/>
<line x1="1047.3" y1="793.81" x2="1093.67" y2="752.18"/>
<line x1="1047.3" y1="794.07" x2="1093.67" y2="767.54"/>
<line x1="1047.3" y1="794.2" x2="1093.67" y2="752.7"/>
<line x1="1047.3" y1="794.82" x2="1093.67" y2="774.32"/>
<line x1="1047.3" y1="796.06" x2="1093.67" y2="768.4"/>
<line x1="1047.3" y1="796.81" x2="1093.67" y2="751.13"/>
<line x1="1047.3" y1="797.36" x2="1093.67" y2="746.49"/>
<line x1="1047.3" y1="797.47" x2="1093.67" y2="784.96"/>
<line x1="1047.3" y1="797.76" x2="1093.67" y2="782.49"/>
<line x1="1047.3" y1="797.88" x2="1093.67" y2="764.78"/>
<line x1="1047.3" y1="798.37" x2="1093.67" y2="769.25"/>
<line x1="1047.3" y1="799.36" x2="1093.67" y2="772.61"/>
<line x1="1047.3" y1="799.52" x2="1093.67" y2="768.4"/>
<line x1="1047.3" y1="803.9" x2="1093.67" y2="763.75"/>
<line x1="1047.3" y1="804.43" x2="1093.67" y2="744.92"/>
<line x1="1047.3" y1="804.71" x2="1093.67" y2="772.31"/>
<line x1="1047.3" y1="805.14" x2="1093.67" y2="784.88"/>
<line x1="1047.3" y1="805.36" x2="1093.67" y2="766.14"/>
<line x1="1047.3" y1="806.41" x2="1093.67" y2="783.55"/>
<line x1="1047.3" y1="806.42" x2="1093.67" y2="774.34"/>
<line x1="1047.3" y1="807.21" x2="1093.67" y2="774.48"/>
<line x1="1047.3" y1="807.92" x2="1093.67" y2="773.49"/>
<line x1="1047.3" y1="813.07" x2="1093.67" y2="776.02"/>
<line x1="1047.3" y1="815.74" x2="1093.67" y2="781.98"/>
<line x1="1047.3" y1="816.93" x2="1093.67" y2="752.5"/>
<line x1="1047.3" y1="820.99" x2="1093.67" y2="761.5"/>
<line x1="1047.3" y1="821.4" x2="1093.67" y2="801.84"/>
<line x1="1047.3" y1="824.21" x2="1093.67" y2="782.21"/>
<line x1="1047.3" y1="825.07" x2="1093.67" y2="785.37"/>
<line x1="1047.3" y1="825.22" x2="1093.67" y2="773.32"/>
<line x1="1047.3" y1="825.34" x2="1093.67" y2="748.43"/>
<line x1="1047.3" y1="825.61" x2="1093.67" y2="774.87"/>
<line x1="1047.3" y1="825.92" x2="1093.67" y2="808.58"/>
<line x1="1047.3" y1="826.33" x2="1093.67" y2="771.39"/>
<line x1="1047.3" y1="827.02" x2="1093.67" y2="766.76"/>
<line x1="1047.3" y1="828.11" x2="1093.67" y2="780.2"/>
<line x1="1047.3" y1="840.01" x2="1093.67" y2="788.8"/>
<line x1="1047.3" y1="840.1" x2="1093.67" y2="775.35"/>
<line x1="1047.3" y1="840.28" x2="1093.67" y2="795.73"/>
<line x1="1047.3" y1="841.46" x2="1093.67" y2="775.13"/>
<line x1="1047.3" y1="842.17" x2="1093.67" y2="816.18"/>
<line x1="1047.3" y1="842.35" x2="1093.67" y2="795.59"/>
<line x1="1047.3" y1="842.84" x2="1093.67" y2="837.29"/>
<line x1="1047.3" y1="844.19" x2="1093.67" y2="773.8"/>
<line x1="1047.3" y1="846.39" x2="1093.67" y2="787.42"/>
<line x1="1047.3" y1="846.48" x2="1093.67" y2="842.64"/>
<line x1="1047.3" y1="859.31" x2="1093.67" y2="773.25"/>
<line x1="1047.3" y1="860.16" x2="1093.67" y2="789.01"/>
<line x1="1047.3" y1="862.06" x2="1093.67" y2="771.44"/>
<line x1="1047.3" y1="865.01" x2="1093.67" y2="794"/>
<line x1="1047.3" y1="865.99" x2="1093.67" y2="780.33"/>
<line x1="1047.3" y1="868.29" x2="1093.67" y2="780.73"/>
<line x1="1047.3" y1="868.44" x2="1093.67" y2="791.56"/>
<line x1="1047.3" y1="869.05" x2="1093.67" y2="814.67"/>
<line x1="1047.3" y1="869.16" x2="1093.67" y2="818.57"/>
<line x1="1047.3" y1="873.49" x2="1093.67" y2="789.88"/>
<line x1="1047.3" y1="874.01" x2="1093.67" y2="786.54"/>
<line x1="1047.3" y1="874.06" x2="1093.67" y2="859.83"/>
<line x1="1047.3" y1="879.3" x2="1093.67" y2="803.95"/>
<line x1="1047.3" y1="881.03" x2="1093.67" y2="797.02"/>
<line x1="1047.3" y1="902.92" x2="1093.67" y2="786.82"/>
<line x1="1047.3" y1="960.24" x2="1093.67" y2="796.84"/>
</g>
<g fill="none" stroke="#a000f0" stroke-opacity="0.75" stroke-width="1">
<circle cx="1047.3" cy="743.77" r="2"/>
<circle cx="1093.67" cy="743.98" r="2"/>
<circle cx="1047.3" cy="745.15" r="2"/>
<circle cx="1093.67" cy="743.99" r="2"/>
<circle cx="1047.3" cy="748.81" r="2"/>
<circle cx="1093.67" cy="744.05" r="2"/>
<circle cx="1047.3" cy="749.95" r="2"/>
<circle cx="1093.67" cy="744.09" r="2"/>
<circle cx="1047.3" cy="751.5" r="2"/>
<circle cx="1093.67" cy="744.15" r="2"/>
<circle cx="1047.3" cy="752.54" r="2"/>
<circle cx="1093.67" cy="744.22" r="2"/>
<circle cx="1047.3" cy="752.72" r="2"/>
<circle cx="1093.67" cy="744.3" r="2"/>
<circle cx="1047.3" cy="753.81" r="2"/>
<circle cx="1093.67" cy="744.42" r="2"/>
<circle cx="1047.3" cy="754.18" r="2"/>
<circle cx="1093.67" cy="744.58" r="2"/>
<circle cx="1047.3" cy="759.3" r="2"/>
<circle cx="1093.67" cy="744.77" r="2"/>
<circle cx="1047.3" cy="760.71" r="2"/>
<circle cx="1093.67" cy="744.92" r="2"/>
<circle cx="1047.3" cy="761.26" r="2"/>
<circle cx="1093.67" cy="745.43" r="2"/>
<circle cx="1047.3" cy="761.92" r="2"/>
<circle cx="1093.67" cy="745.79" r="2"/>
<circle cx="1047.3" cy="762.11" r="2"/>
<circle cx="1093.67" cy="745.9" r="2"/>
<circle cx="1047.3" cy="762.17" r="2"/>
<circle cx="1093.67" cy="746.21" r="2"/>
<circle cx="1047.3" cy="765" r="2"/>
<circle cx="1093.67" cy="746.49" r="2"/>
<circle cx="1047.3" cy="765.62" r="2"/>
<circle cx="1093.67" cy="746.65" r="2"/>
<circle cx="1047.3" cy="765.76" r="2"/>
<circle cx="1093.67" cy="746.99" r="2"/>
<circle cx="1047.3" cy="766.49" r="2"/>
<circle cx="1093.67" cy="747.15" r="2"/>
<circle cx="1047.3" cy="766.63" r="2"/>
<circle cx="1093.67" cy="747.53" r="2"/>
<circle cx="1047.3" cy="767.51" r="2"/>
<circle cx="1093.67" cy="747.93" r="2"/>
<circle cx="1047.3" cy="769.25" r="2"/>
<circle cx="1093.67" cy="748.15" r="2"/>
<circle cx="1047.3" cy="771.24" r="2"/>
<circle cx="1093.67" cy="748.27" r="2"/>
<circle cx="1047.3" cy="772.45" r="2"/>
<circle cx="1093.67" cy="748.43" r="2"/>
<circle cx="1047.3" cy="772.48" r="2"/>
<circle cx="1093.67" cy="748.47" r="2"/>
<circle cx="1047.3" cy="773.09" r="2"/>
<circle cx="1093.67" cy="749.29" r="2"/>
<circle cx="1047.3" cy="774.02" r="2"/>
<circle cx="1093.67" cy="750.23" r="2"/>
<circle cx="1047.3" cy="774.13" r="2"/>
<circle cx="1093.67" cy="750.51" r="2"/>
<circle cx="1047.3" cy="774.57" r="2"/>
<circle cx="1093.67" cy="750.79" r="2"/>
<circle cx="1047.3" cy="774.73" r="2"/>
<circle cx="1093.67" cy="750.87" r="2"/>
<circle cx="1047.3" cy="775.08" r="2"/>
<circle cx="1093.67" cy="751.13" r="2"/>
<circle cx="1047.3" cy="775.45" r="2"/>
<circle cx="1093.67" cy="751.3" r="2"/>
<circle cx="1047.3" cy="776.67" r="2"/>
<circle cx="1093.67" cy="751.98" r="2"/>
<circle cx="1047.3" cy="777.4" r="2"/>
<circle cx="1093.67" cy="752.06" r="2"/>
<circle cx="1047.3" cy="778.55" r="2"/>
<circle cx="1093.67" cy="752.18" r="2"/>
<circle cx="1047.3" cy="780.73" r="2"/>
<circle cx="1093.67" cy="752.5" r="2"/>
<circle cx="1047.3" cy="783.74" r="2"/>
<circle cx="1093.67" cy="752.7" r="2"/>
<circle cx="1047.3" cy="783.96" r="2"/>
<circle cx="1093.67" cy="752.86" r="2"/>
<circle cx="1047.3" cy="784.85" r="2"/>
<circle cx="1093.67" cy="756.11" r="2"/>
<circle cx="1047.3" cy="785.07" r="2"/>
<circle cx="1093.67" cy="756.23" r="2"/>
<circle cx="1047.3" cy="785.22" r="2"/>
<circle cx="1093.67" cy="756.63" r="2"/>
<circle cx="1047.3" cy="786.15" r="2"/>
<circle cx="1093.67" cy="756.65" r="2"/>
<circle cx="1047.3" cy="786.64" r="2"/>
<circle cx="1093.67" cy="758.15" r="2"/>
<circle cx="1047.3" cy="787.73" r="2"/>
<circle cx="1093.67" cy="758.67" r="2"/>
<circle cx="1047.3" cy="787.89" r="2"/>
<circle cx="1093.67" cy="758.83" r="2"/>
<circle cx="1047.3" cy="787.93" r="2"/>
<circle cx="1093.67" cy="759.91" r="2"/>
<circle cx="1047.3" cy="788.13" r="2"/>
<circle cx="1093.67" cy="760.07" r="2"/>
<circle cx="1047.3" cy="788.77" r="2"/>
<circle cx="1093.67" cy="760.97" r="2"/>
<circle cx="1047.3" cy="789.76" r="2"/>
<circle cx="1093.67" cy="761.25" r="2"/>
<circle cx="1047.3" cy="790.4" r="2"/>
<circle cx="1093.67" cy="761.5" r="2"/>
<circle cx="1047.3" cy="790.46" r="2"/>
<circle cx="1093.67" cy="761.7" r="2"/>
<circle cx="1047.3" cy="790.54" r="2"/>
<circle cx="1093.67" cy="762.67" r="2"/>
<circle cx="1047.3" cy="790.94" r="2"/>
<circle cx="1093.67" cy="763.75" r="2"/>
<circle cx="1047.3" cy="792.36" r="2"/>
<circle cx="1093.67" cy="763.76" r="2"/>
<circle cx="1047.3" cy="793.01" r="2"/>
<circle cx="1093.67" cy="764.24" r="2"/>
<circle cx="1047.3" cy="793.35" r="2"/>
<circle cx="1093.67" cy="764.78" r="2"/>
<circle cx="1047.3" cy="793.7" r="2"/>
<circle cx="1093.67" cy="766.14" r="2"/>
<circle cx="1047.3" cy="793.81" r="2"/>
<circle cx="1093.67" cy="766.21" r="2"/>
<circle cx="1047.3" cy="794.07" r="2"/>
<circle cx="1093.67" cy="766.47" r="2"/>
<circle cx="1047.3" cy="794.2" r="2"/>
<circle cx="1093.67" cy="766.53" r="2"/>
<circle cx="1047.3" cy="794.82" r="2"/>
<circle cx="1093.67" cy="766.76" r="2"/>
<circle cx="1047.3" cy="796.06" r="2"/>
<circle cx="1093.67" cy="767.15" r="2"/>
<circle cx="1047.3" cy="796.81" r="2"/>
<circle cx="1093.67" cy="767.54" r="2"/>
<circle cx="1047.3" cy="797.36" r="2"/>
<circle cx="1093.67" cy="768.02" r="2"/>
<circle cx="1047.3" cy="797.47" r="2"/>
<circle cx="1093.67" cy="768.32" r="2"/>
<circle cx="1047.3" cy="797.76" r="2"/>
<circle cx="1093.67" cy="768.4" r="2"/>
<circle cx="1047.3" cy="797.88" r="2"/>
<circle cx="1093.67" cy="768.4" r="2"/>
<circle cx="1047.3" cy="798.37" r="2"/>
<circle cx="1093.67" cy="769.25" r="2"/>
<circle cx="1047.3" cy="799.36" r="2"/>
<circle cx="1093.67" cy="770.31" r="2"/>
<circle cx="1047.3" cy="799.52" r="2"/>
<circle cx="1093.67" cy="770.92" r="2"/>
<circle cx="1047.3" cy="803.9" r="2"/>
<circle cx="1093.67" cy="771.39" r="2"/>
<circle cx="1047.3" cy="804.43" r="2"/>
<circle cx="1093.67" cy="771.44" r="2"/>
<circle cx="1047.3" cy="804.71" r="2"/>
<circle cx="1093.67" cy="772.31" r="2"/>
<circle cx="1047.3" cy="805.14" r="2"/>
<circle cx="1093.67" cy="772.61" r="2"/>
<circle cx="1047.3" cy="805.36" r="2"/>
<circle cx="1093.67" cy="773.25" r="2"/>
<circle cx="1047.3" cy="806.41" r="2"/>
<circle cx="1093.67" cy="773.32" r="2"/>
<circle cx="1047.3" cy="806.42" r="2"/>
<circle cx="1093.67" cy="773.49" r="2"/>
<circle cx="1047.3" cy="807.21" r="2"/>
<circle cx="1093.67" cy="773.8" r="2"/>
<circle cx="1047.3" cy="807.92" r="2"/>
<circle cx="1093.67" cy="774.27" r="2"/>
<circle cx="1047.3" cy="813.07" r="2"/>
<circle cx="1093.67" cy="774.32" r="2"/>
<circle cx="1047.3" cy="815.74" r="2"/>
<circle cx="1093.67" cy="774.34" r="2"/>
<circle cx="1047.3" cy="816.93" r="2"/>
<circle cx="1093.67" cy="774.37" r="2"/>
<circle cx="1047.3" cy="820.99" r="2"/>
<circle cx="1093.67" cy="774.48" r="2"/>
<circle cx="1047.3" cy="821.4" r="2"/>
<circle cx="1093.67" cy="774.87" r="2"/>
<circle cx="1047.3" cy="824.21" r="2"/>
<circle cx="1093.67" cy="775.13" r="2"/>
<circle cx="1047.3" cy="825.07" r="2"/>
<circle cx="1093.67" cy="775.35" r="2"/>
<circle cx="1047.3" cy="825.22" r="2"/>
<circle cx="1093.67" cy="775.71" r="2"/>
<circle cx="1047.3" cy="825.34" r="2"/>
<circle cx="1093.67" cy="776.02" r="2"/>
<circle cx="1047.3" cy="825.61" r="2"/>
<circle cx="1093.67" cy="780.2" r="2"/>
<circle cx="1047.3" cy="825.92" r="2"/>
<circle cx="1093.67" cy="780.33" r="2"/>
<circle cx="1047.3" cy="826.33" r="2"/>
<circle cx="1093.67" cy="780.73" r="2"/>
<circle cx="1047.3" cy="827.02" r="2"/>
<circle cx="1093.67" cy="781.98" r="2"/>
<circle cx="1047.3" cy="828.11" r="2"/>
<circle cx="1093.67" cy="782.21" r="2"/>
<circle cx="1047.3" cy="840.01" r="2"/>
<circle cx="1093.67" cy="782.49" r="2"/>
<circle cx="1047.3" cy="840.1" r="2"/>
<circle cx="1093.67" cy="783.55" r="2"/>
<circle cx="1047.3" cy="840.28" r="2"/>
<circle cx="1093.67" cy="784.88" r="2"/>
<circle cx="1047.3" cy="841.46" r="2"/>
<circle cx="1093.67" cy="784.96" r="2"/>
<circle cx="1047.3" cy="842.17" r="2"/>
<circle cx="1093.67" cy="785.37" r="2"/>
<circle cx="1047.3" cy="842.35" r="2"/>
<circle cx="1093.67" cy="786.54" r="2"/>
<circle cx="1047.3" cy="842.84" r="2"/>
<circle cx="1093.67" cy="786.82" r="2"/>
<circle cx="1047.3" cy="844.19" r="2"/>
<circle cx="1093.67" cy="787.42" r="2"/>
<circle cx="1047.3" cy="846.39" r="2"/>
<circle cx="1093.67" cy="788.8" r="2"/>
<circle cx="1047.3" cy="846.48" r="2"/>
<circle cx="1093.67" cy="789.01" r="2"/>
<circle cx="1047.3" cy="859.31" r="2"/>
<circle cx="1093.67" cy="789.88" r="2"/>
<circle cx="1047.3" cy="860.16" r="2"/>
<circle cx="1093.67" cy="791.56" r="2"/>
<circle cx="1047.3" cy="862.06" r="2"/>
<circle cx="1093.67" cy="794" r="2"/>
<circle cx="1047.3" cy="865.01" r="2"/>
<circle cx="1093.67" cy="795.59" r="2"/>
<circle cx="1047.3" cy="865.99" r="2"/>
<circle cx="1093.67" cy="795.73" r="2"/>
<circle cx="1047.3" cy="868.29" r="2"/>
<circle cx="1093.67" cy="796.84" r="2"/>
<circle cx="1047.3" cy="868.44" r="2"/>
<circle cx="1093.67" cy="797.02" r="2"/>
<circle cx="1047.3" cy="869.05" r="2"/>
<circle cx="1093.67" cy="801.84" r="2"/>
<circle cx="1047.3" cy="869.16" r="2"/>
<circle cx="1093.67" cy="803.95" r="2"/>
<circle cx="1047.3" cy="873.49" r="2"/>
<circle cx="1093.67" cy="808.58" r="2"/>
<circle cx="1047.3" cy="874.01" r="2"/>
<circle cx="1093.67" cy="814.67" r="2"/>
<circle cx="1047.3" cy="874.06" r="2"/>
<circle cx="1093.67" cy="816.18" r="2"/>
<circle cx="1047.3" cy="879.3" r="2"/>
<circle cx="1093.67" cy="818.57" r="2"/>
<circle cx="1047.3" cy="881.03" r="2"/>
<circle cx="1093.67" cy="837.29" r="2"/>
<circle cx="1047.3" cy="902.92" r="2"/>
<circle cx="1093.67" cy="842.64" r="2"/>
<circle cx="1047.3" cy="960.24" r="2"/>
<circle cx="1093.67" cy="859.83" r="2"/>
</g>
<polyline points="1047.3,729.7 1047.3,716.7 1093.67,716.7 1093.67,729.7" fill="none" stroke="#000" stroke-width="3" stroke-linejoin="miter"/>
<text x="1070.48" y="712" font-size="13" text-anchor="middle" fill="#000" textLength="41.5" lengthAdjust="spacingAndGlyphs">&lt;0.0001</text>
<g stroke="#ff0000" stroke-opacity="0.5" stroke-width="1">
<line x1="1140.04" y1="747.08" x2="1186.41" y2="744.15"/>
<line x1="1140.04" y1="748.24" x2="1186.41" y2="743.98"/>
<line x1="1140.04" y1="748.36" x2="1186.41" y2="744.09"/>
<line x1="1140.04" y1="750.42" x2="1186.41" y2="750.51"/>
<line x1="1140.04" y1="755.91" x2="1186.41" y2="743.99"/>
<line x1="1140.04" y1="757.14" x2="1186.41" y2="746.65"/>
<line x1="1140.04" y1="758.11" x2="1186.41" y2="744.58"/>
<line x1="1140.04" y1="758.46" x2="1186.41" y2="763.75"/>
<line x1="1140.04" y1="760.22" x2="1186.41" y2="751.98"/>
<line x1="1140.04" y1="760.36" x2="1186.41" y2="747.15"/>
<line x1="1140.04" y1="761.55" x2="1186.41" y2="748.27"/>
<line x1="1140.04" y1="765.47" x2="1186.41" y2="747.93"/>
<line x1="1140.04" y1="768.28" x2="1186.41" y2="750.23"/>
<line x1="1140.04" y1="770.09" x2="1186.41" y2="751.13"/>
<line x1="1140.04" y1="770.73" x2="1186.41" y2="744.3"/>
<line x1="1140.04" y1="771.43" x2="1186.41" y2="750.87"/>
<line x1="1140.04" y1="772.17" x2="1186.41" y2="752.7"/>
<line x1="1140.04" y1="772.74" x2="1186.41" y2="744.22"/>
<line x1="1140.04" y1="773.92" x2="1186.41" y2="766.21"/>
<line x1="1140.04" y1="774.4" x2="1186.41" y2="745.9"/>
<line x1="1140.04" y1="774.55" x2="1186.41" y2="769.25"/>
<line x1="1140.04" y1="774.56" x2="1186.41" y2="761.5"/>
<line x1="1140.04" y1="774.87" x2="1186.41" y2="744.42"/>
<line x1="1140.04" y1="774.9" x2="1186.41" y2="770.92"/>
<line x1="1140.04" y1="775.27" x2="1186.41" y2="744.92"/>
<line x1="1140.04" y1="777" x2="1186.41" y2="762.67"/>
<line x1="1140.04" y1="778.6" x2="1186.41" y2="745.79"/>
<line x1="1140.04" y1="778.91" x2="1186.41" y2="748.15"/>
<line x1="1140.04" y1="780.01" x2="1186.41" y2="772.61"/>
<line x1="1140.04" y1="780.94" x2="1186.41" y2="752.86"/>
<line x1="1140.04" y1="781.73" x2="1186.41" y2="748.43"/>
<line x1="1140.04" y1="782.34" x2="1186.41" y2="761.7"/>
<line x1="1140.04" y1="782.71" x2="1186.41" y2="764.24"/>
<line x1="1140.04" y1="783.24" x2="1186.41" y2="752.5"/>
<line x1="1140.04" y1="783.84" x2="1186.41" y2="746.49"/>
<line x1="1140.04" y1="786.06" x2="1186.41" y2="746.99"/>
<line x1="1140.04" y1="786.4" x2="1186.41" y2="766.14"/>
<line x1="1140.04" y1="787.21" x2="1186.41" y2="756.65"/>
<line x1="1140.04" y1="787.59" x2="1186.41" y2="774.48"/>
<line x1="1140.04" y1="788.69" x2="1186.41" y2="756.23"/>
<line x1="1140.04" y1="789.84" x2="1186.41" y2="761.25"/>
<line x1="1140.04" y1="790.66" x2="1186.41" y2="768.02"/>
<line x1="1140.04" y1="791.62" x2="1186.41" y2="758.15"/>
<line x1="1140.04" y1="791.84" x2="1186.41" y2="750.79"/>
<line x1="1140.04" y1="792.31" x2="1186.41" y2="744.77"/>
<line x1="1140.04" y1="793.23" x2="1186.41" y2="758.83"/>
<line x1="1140.04" y1="793.66" x2="1186.41" y2="758.67"/>
<line x1="1140.04" y1="796.82" x2="1186.41" y2="751.3"/>
<line x1="1140.04" y1="797.07" x2="1186.41" y2="746.21"/>
<line x1="1140.04" y1="797.16" x2="1186.41" y2="747.53"/>
<line x1="1140.04" y1="798.26" x2="1186.41" y2="763.76"/>
<line x1="1140.04" y1="798.3" x2="1186.41" y2="768.4"/>
<line x1="1140.04" y1="800.01" x2="1186.41" y2="759.91"/>
<line x1="1140.04" y1="800.2" x2="1186.41" y2="768.4"/>
<line x1="1140.04" y1="801.12" x2="1186.41" y2="752.06"/>
<line x1="1140.04" y1="801.62" x2="1186.41" y2="749.29"/>
<line x1="1140.04" y1="802.55" x2="1186.41" y2="773.32"/>
<line x1="1140.04" y1="803.02" x2="1186.41" y2="766.53"/>
<line x1="1140.04" y1="803.03" x2="1186.41" y2="744.05"/>
<line x1="1140.04" y1="803.77" x2="1186.41" y2="748.47"/>
<line x1="1140.04" y1="804.17" x2="1186.41" y2="788.8"/>
<line x1="1140.04" y1="804.22" x2="1186.41" y2="752.18"/>
<line x1="1140.04" y1="804.84" x2="1186.41" y2="774.32"/>
<line x1="1140.04" y1="805.45" x2="1186.41" y2="787.42"/>
<line x1="1140.04" y1="806.18" x2="1186.41" y2="767.15"/>
<line x1="1140.04" y1="806.44" x2="1186.41" y2="773.8"/>
<line x1="1140.04" y1="807.39" x2="1186.41" y2="766.47"/>
<line x1="1140.04" y1="807.63" x2="1186.41" y2="789.01"/>
<line x1="1140.04" y1="813.58" x2="1186.41" y2="760.07"/>
<line x1="1140.04" y1="816.9" x2="1186.41" y2="768.32"/>
<line x1="1140.04" y1="817.05" x2="1186.41" y2="774.87"/>
<line x1="1140.04" y1="818.49" x2="1186.41" y2="756.63"/>
<line x1="1140.04" y1="820.18" x2="1186.41" y2="774.34"/>
<line x1="1140.04" y1="820.5" x2="1186.41" y2="775.71"/>
<line x1="1140.04" y1="820.52" x2="1186.41" y2="796.84"/>
<line x1="1140.04" y1="823.44" x2="1186.41" y2="756.11"/>
<line x1="1140.04" y1="823.96" x2="1186.41" y2="775.13"/>
<line x1="1140.04" y1="824.74" x2="1186.41" y2="745.43"/>
<line x1="1140.04" y1="825.04" x2="1186.41" y2="801.84"/>
<line x1="1140.04" y1="827.1" x2="1186.41" y2="760.97"/>
<line x1="1140.04" y1="830.49" x2="1186.41" y2="771.39"/>
<line x1="1140.04" y1="830.8" x2="1186.41" y2="784.88"/>
<line x1="1140.04" y1="831.01" x2="1186.41" y2="772.31"/>
<line x1="1140.04" y1="832.72" x2="1186.41" y2="766.76"/>
<line x1="1140.04" y1="832.91" x2="1186.41" y2="771.44"/>
<line x1="1140.04" y1="833.18" x2="1186.41" y2="770.31"/>
<line x1="1140.04" y1="834.94" x2="1186.41" y2="794"/>
<line x1="1140.04" y1="837" x2="1186.41" y2="773.49"/>
<line x1="1140.04" y1="837.1" x2="1186.41" y2="774.37"/>
<line x1="1140.04" y1="837.37" x2="1186.41" y2="780.73"/>
<line x1="1140.04" y1="838.01" x2="1186.41" y2="775.35"/>
<line x1="1140.04" y1="838.43" x2="1186.41" y2="773.25"/>
<line x1="1140.04" y1="839.23" x2="1186.41" y2="786.82"/>
<line x1="1140.04" y1="839.54" x2="1186.41" y2="797.02"/>
<line x1="1140.04" y1="839.97" x2="1186.41" y2="818.57"/>
<line x1="1140.04" y1="852.1" x2="1186.41" y2="795.59"/>
<line x1="1140.04" y1="852.25" x2="1186.41" y2="786.54"/>
<line x1="1140.04" y1="856.87" x2="1186.41" y2="808.58"/>
<line x1="1140.04" y1="857.54" x2="1186.41" y2="764.78"/>
<line x1="1140.04" y1="862.3" x2="1186.41" y2="781.98"/>
<line x1="1140.04" y1="865.81" x2="1186.41" y2="791.56"/>
<line x1="1140.04" y1="868.57" x2="1186.41" y2="789.88"/>
<line x1="1140.04" y1="874.92" x2="1186.41" y2="767.54"/>
<line x1="1140.04" y1="877.75" x2="1186.41" y2="783.55"/>
<line x1="1140.04" y1="878.95" x2="1186.41" y2="785.37"/>
<line x1="1140.04" y1="882.15" x2="1186.41" y2="780.33"/>
<line x1="1140.04" y1="884.44" x2="1186.41" y2="842.64"/>
<line x1="1140.04" y1="891.21" x2="1186.41" y2="784.96"/>
<line x1="1140.04" y1="896.56" x2="1186.41" y2="774.27"/>
<line x1="1140.04" y1="897.25" x2="1186.41" y2="859.83"/>
<line x1="1140.04" y1="898.5" x2="1186.41" y2="837.29"/>
<line x1="1140.04" y1="898.98" x2="1186.41" y2="816.18"/>
<line x1="1140.04" y1="900.02" x2="1186.41" y2="776.02"/>
<line x1="1140.04" y1="904.65" x2="1186.41" y2="780.2"/>
<line x1="1140.04" y1="919.43" x2="1186.41" y2="782.49"/>
<line x1="1140.04" y1="936.67" x2="1186.41" y2="795.73"/>
<line x1="1140.04" y1="945.04" x2="1186.41" y2="782.21"/>
<line x1="1140.04" y1="990.15" x2="1186.41" y2="814.67"/>
<line x1="1140.04" y1="990.15" x2="1186.41" y2="803.95"/>
</g>
<g fill="none" stroke="#ff0000" stroke-opacity="0.75" stroke-width="1">
<circle cx="1140.04" cy="747.08" r="2"/>
<circle cx="1186.41" cy="743.98" r="2"/>
<circle cx="1140.04" cy="748.24" r="2"/>
<circle cx="1186.41" cy="743.99" r="2"/>
<circle cx="1140.04" cy="748.36" r="2"/>
<circle cx="1186.41" cy="744.05" r="2"/>
<circle cx="1140.04" cy="750.42" r="2"/>
<circle cx="1186.41" cy="744.09" r="2"/>
<circle cx="1140.04" cy="755.91" r="2"/>
<circle cx="1186.41" cy="744.15" r="2"/>
<circle cx="1140.04" cy="757.14" r="2"/>
<circle cx="1186.41" cy="744.22" r="2"/>
<circle cx="1140.04" cy="758.11" r="2"/>
<circle cx="1186.41" cy="744.3" r="2"/>
<circle cx="1140.04" cy="758.46" r="2"/>
<circle cx="1186.41" cy="744.42" r="2"/>
<circle cx="1140.04" cy="760.22" r="2"/>
<circle cx="1186.41" cy="744.58" r="2"/>
<circle cx="1140.04" cy="760.36" r="2"/>
<circle cx="1186.41" cy="744.77" r="2"/>
<circle cx="1140.04" cy="761.55" r="2"/>
<circle cx="1186.41" cy="744.92" r="2"/>
<circle cx="1140.04" cy="765.47" r="2"/>
<circle cx="1186.41" cy="745.43" r="2"/>
<circle cx="1140.04" cy="768.28" r="2"/>
<circle cx="1186.41" cy="745.79" r="2"/>
<circle cx="1140.04" cy="770.09" r="2"/>
<circle cx="1186.41" cy="745.9" r="2"/>
<circle cx="1140.04" cy="770.73" r="2"/>
<circle cx="1186.41" cy="746.21" r="2"/>
<circle cx="1140.04" cy="771.43" r="2"/>
<circle cx="1186.41" cy="746.49" r="2"/>
<circle cx="1140.04" cy="772.17" r="2"/>
<circle cx="1186.41" cy="746.65" r="2"/>
<circle cx="1140.04" cy="772.74" r="2"/>
<circle cx="1186.41" cy="746.99" r="2"/>
<circle cx="1140.04" cy="773.92" r="2"/>
<circle cx="1186.41" cy="747.15" r="2"/>
<circle cx="1140.04" cy="774.4" r="2"/>
<circle cx="1186.41" cy="747.53" r="2"/>
<circle cx="1140.04" cy="774.55" r="2"/>
<circle cx="1186.41" cy="747.93" r="2"/>
<circle cx="1140.04" cy="774.56" r="2"/>
<circle cx="1186.41" cy="748.15" r="2"/>
<circle cx="1140.04" cy="774.87" r="2"/>
<circle cx="1186.41" cy="748.27" r="2"/>
<circle cx="1140.04" cy="774.9" r="2"/>
<circle cx="1186.41" cy="748.43" r="2"/>
<circle cx="1140.04" cy="775.27" r="2"/>
<circle cx="1186.41" cy="748.47" r="2"/>
<circle cx="1140.04" cy="777" r="2"/>
<circle cx="1186.41" cy="749.29" r="2"/>
<circle cx="1140.04" cy="778.6" r="2"/>
<circle cx="1186.41" cy="750.23" r="2"/>
<circle cx="1140.04" cy="778.91" r="2"/>
<circle cx="1186.41" cy="750.51" r="2"/>
<circle cx="1140.04" cy="780.01" r="2"/>
<circle cx="1186.41" cy="750.79" r="2"/>
<circle cx="1140.04" cy="780.94" r="2"/>
<circle cx="1186.41" cy="750.87" r="2"/>
<circle cx="1140.04" cy="781.73" r="2"/>
<circle cx="1186.41" cy="751.13" r="2"/>
<circle cx="1140.04" cy="782.34" r="2"/>
<circle cx="1186.41" cy="751.3" r="2"/>
<circle cx="1140.04" cy="782.71" r="2"/>
<circle cx="1186.41" cy="751.98" r="2"/>
<circle cx="1140.04" cy="783.24" r="2"/>
<circle cx="1186.41" cy="752.06" r="2"/>
<circle cx="1140.04" cy="783.84" r="2"/>
<circle cx="1186.41" cy="752.18" r="2"/>
<circle cx="1140.04" cy="786.06" r="2"/>
<circle cx="1186.41" cy="752.5" r="2"/>
<circle cx="1140.04" cy="786.4" r="2"/>
<circle cx="1186.41" cy="752.7" r="2"/>
<circle cx="1140.04" cy="787.21" r="2"/>
<circle cx="1186.41" cy="752.86" r="2"/>
<circle cx="1140.04" cy="787.59" r="2"/>
<circle cx="1186.41" cy="756.11" r="2"/>
<circle cx="1140.04" cy="788.69" r="2"/>
<circle cx="1186.41" cy="756.23" r="2"/>
<circle cx="1140.04" cy="789.84" r="2"/>
<circle cx="1186.41" cy="756.63" r="2"/>
<circle cx="1140.04" cy="790.66" r="2"/>
<circle cx="1186.41" cy="756.65" r="2"/>
<circle cx="1140.04" cy="791.62" r="2"/>
<circle cx="1186.41" cy="758.15" r="2"/>
<circle cx="1140.04" cy="791.84" r="2"/>
<circle cx="1186.41" cy="758.67" r="2"/>
<circle cx="1140.04" cy="792.31" r="2"/>
<circle cx="1186.41" cy="758.83" r="2"/>
<circle cx="1140.04" cy="793.23" r="2"/>
<circle cx="1186.41" cy="759.91" r="2"/>
<circle cx="1140.04" cy="793.66" r="2"/>
<circle cx="1186.41" cy="760.07" r="2"/>
<circle cx="1140.04" cy="796.82" r="2"/>
<circle cx="1186.41" cy="760.97" r="2"/>
<circle cx="1140.04" cy="797.07" r="2"/>
<circle cx="1186.41" cy="761.25" r="2"/>
<circle cx="1140.04" cy="797.16" r="2"/>
<circle cx="1186.41" cy="761.5" r="2"/>
<circle cx="1140.04" cy="798.26" r="2"/>
<circle cx="1186.41" cy="761.7" r="2"/>
<circle cx="1140.04" cy="798.3" r="2"/>
<circle cx="1186.41" cy="762.67" r="2"/>
<circle cx="1140.04" cy="800.01" r="2"/>
<circle cx="1186.41" cy="763.75" r="2"/>
<circle cx="1140.04" cy="800.2" r="2"/>
<circle cx="1186.41" cy="763.76" r="2"/>
<circle cx="1140.04" cy="801.12" r="2"/>
<circle cx="1186.41" cy="764.24" r="2"/>
<circle cx="1140.04" cy="801.62" r="2"/>
<circle cx="1186.41" cy="764.78" r="2"/>
<circle cx="1140.04" cy="802.55" r="2"/>
<circle cx="1186.41" cy="766.14" r="2"/>
<circle cx="1140.04" cy="803.02" r="2"/>
<circle cx="1186.41" cy="766.21" r="2"/>
<circle cx="1140.04" cy="803.03" r="2"/>
<circle cx="1186.41" cy="766.47" r="2"/>
<circle cx="1140.04" cy="803.77" r="2"/>
<circle cx="1186.41" cy="766.53" r="2"/>
<circle cx="1140.04" cy="804.17" r="2"/>
<circle cx="1186.41" cy="766.76" r="2"/>
<circle cx="1140.04" cy="804.22" r="2"/>
<circle cx="1186.41" cy="767.15" r="2"/>
<circle cx="1140.04" cy="804.84" r="2"/>
<circle cx="1186.41" cy="767.54" r="2"/>
<circle cx="1140.04" cy="805.45" r="2"/>
<circle cx="1186.41" cy="768.02" r="2"/>
<circle cx="1140.04" cy="806.18" r="2"/>
<circle cx="1186.41" cy="768.32" r="2"/>
<circle cx="1140.04" cy="806.44" r="2"/>
<circle cx="1186.41" cy="768.4" r="2"/>
<circle cx="1140.04" cy="807.39" r="2"/>
<circle cx="1186.41" cy="768.4" r="2"/>
<circle cx="1140.04" cy="807.63" r="2"/>
<circle cx="1186.41" cy="769.25" r="2"/>
<circle cx="1140.04" cy="813.58" r="2"/>
<circle cx="1186.41" cy="770.31" r="2"/>
<circle cx="1140.04" cy="816.9" r="2"/>
<circle cx="1186.41" cy="770.92" r="2"/>
<circle cx="1140.04" cy="817.05" r="2"/>
<circle cx="1186.41" cy="771.39" r="2"/>
<circle cx="1140.04" cy="818.49" r="2"/>
<circle cx="1186.41" cy="771.44" r="2"/>
<circle cx="1140.04" cy="820.18" r="2"/>
<circle cx="1186.41" cy="772.31" r="2"/>
<circle cx="1140.04" cy="820.5" r="2"/>
<circle cx="1186.41" cy="772.61" r="2"/>
<circle cx="1140.04" cy="820.52" r="2"/>
<circle cx="1186.41" cy="773.25" r="2"/>
<circle cx="1140.04" cy="823.44" r="2"/>
<circle cx="1186.41" cy="773.32" r="2"/>
<circle cx="1140.04" cy="823.96" r="2"/>
<circle cx="1186.41" cy="773.49" r="2"/>
<circle cx="1140.04" cy="824.74" r="2"/>
<circle cx="1186.41" cy="773.8" r="2"/>
<circle cx="1140.04" cy="825.04" r="2"/>
<circle cx="1186.41" cy="774.27" r="2"/>
<circle cx="1140.04" cy="827.1" r="2"/>
<circle cx="1186.41" cy="774.32" r="2"/>
<circle cx="1140.04" cy="830.49" r="2"/>
<circle cx="1186.41" cy="774.34" r="2"/>
<circle cx="1140.04" cy="830.8" r="2"/>
<circle cx="1186.41" cy="774.37" r="2"/>
<circle cx="1140.04" cy="831.01" r="2"/>
<circle cx="1186.41" cy="774.48" r="2"/>
<circle cx="1140.04" cy="832.72" r="2"/>
<circle cx="1186.41" cy="774.87" r="2"/>
<circle cx="1140.04" cy="832.91" r="2"/>
<circle cx="1186.41" cy="775.13" r="2"/>
<circle cx="1140.04" cy="833.18" r="2"/>
<circle cx="1186.41" cy="775.35" r="2"/>
<circle cx="1140.04" cy="834.94" r="2"/>
<circle cx="1186.41" cy="775.71" r="2"/>
<circle cx="1140.04" cy="837" r="2"/>
<circle cx="1186.41" cy="776.02" r="2"/>
<circle cx="1140.04" cy="837.1" r="2"/>
<circle cx="1186.41" cy="780.2" r="2"/>
<circle cx="1140.04" cy="837.37" r="2"/>
<circle cx="1186.41" cy="780.33" r="2"/>
<circle cx="1140.04" cy="838.01" r="2"/>
<circle cx="1186.41" cy="780.73" r="2"/>
<circle cx="1140.04" cy="838.43" r="2"/>
<circle cx="1186.41" cy="781.98" r="2"/>
<circle cx="1140.04" cy="839.23" r="2"/>
<circle cx="1186.41" cy="782.21" r="2"/>
<circle cx="1140.04" cy="839.54" r="2"/>
<circle cx="1186.41" cy="782.49" r="2"/>
<circle cx="1140.04" cy="839.97" r="2"/>
<circle cx="1186.41" cy="783.55" r="2"/>
<circle cx="1140.04" cy="852.1" r="2"/>
<circle cx="1186.41" cy="784.88" r="2"/>
<circle cx="1140.04" cy="852.25" r="2"/>
<circle cx="1186.41" cy="784.96" r="2"/>
<circle cx="1140.04" cy="856.87" r="2"/>
<circle cx="1186.41" cy="785.37" r="2"/>
<circle cx="1140.04" cy="857.54" r="2"/>
<circle cx="1186.41" cy="786.54" r="2"/>
<circle cx="1140.04" cy="862.3" r="2"/>
<circle cx="1186.41" cy="786.82" r="2"/>
<circle cx="1140.04" cy="865.81" r="2"/>
<circle cx="1186.41" cy="787.42" r="2"/>
<circle cx="1140.04" cy="868.57" r="2"/>
<circle cx="1186.41" cy="788.8" r="2"/>
<circle cx="1140.04" cy="874.92" r="2"/>
<circle cx="1186.41" cy="789.01" r="2"/>
<circle cx="1140.04" cy="877.75" r="2"/>
<circle cx="1186.41" cy="789.88" r="2"/>
<circle cx="1140.04" cy="878.95" r="2"/>
<circle cx="1186.41" cy="791.56" r="2"/>
<circle cx="1140.04" cy="882.15" r="2"/>
<circle cx="1186.41" cy="794" r="2"/>
<circle cx="1140.04" cy="884.44" r="2"/>
<circle cx="1186.41" cy="795.59" r="2"/>
<circle cx="1140.04" cy="891.21" r="2"/>
<circle cx="1186.41" cy="795.73" r="2"/>
<circle cx="1140.04" cy="896.56" r="2"/>
<circle cx="1186.41" cy="796.84" r="2"/>
<circle cx="1140.04" cy="897.25" r="2"/>
<circle cx="1186.41" cy="797.02" r="2"/>
<circle cx="1140.04" cy="898.5" r="2"/>
<circle cx="1186.41" cy="801.84" r="2"/>
<circle cx="1140.04" cy="898.98" r="2"/>
<circle cx="1186.41" cy="803.95" r="2"/>
<circle cx="1140.04" cy="900.02" r="2"/>
<circle cx="1186.41" cy="808.58" r="2"/>
<circle cx="1140.04" cy="904.65" r="2"/>
<circle cx="1186.41" cy="814.67" r="2"/>
<circle cx="1140.04" cy="919.43" r="2"/>
<circle cx="1186.41" cy="816.18" r="2"/>
<circle cx="1140.04" cy="936.67" r="2"/>
<circle cx="1186.41" cy="818.57" r="2"/>
<circle cx="1140.04" cy="945.04" r="2"/>
<circle cx="1186.41" cy="837.29" r="2"/>
<circle cx="1140.04" cy="990.15" r="2"/>
<circle cx="1186.41" cy="842.64" r="2"/>
<circle cx="1140.04" cy="990.15" r="2"/>
<circle cx="1186.41" cy="859.83" r="2"/>
</g>
<polyline points="1140.04,729.7 1140.04,716.7 1186.41,716.7 1186.41,729.7" fill="none" stroke="#000" stroke-width="3" stroke-linejoin="miter"/>
<text x="1163.22" y="712" font-size="13" text-anchor="middle" fill="#000" textLength="41.5" lengthAdjust="spacingAndGlyphs">&lt;0.0001</text>
<g stroke="#00f8f8" stroke-opacity="0.5" stroke-width="1">
<line x1="1232.78" y1="747.1" x2="1279.15" y2="744.3"/>
<line x1="1232.78" y1="747.43" x2="1279.15" y2="745.9"/>
<line x1="1232.78" y1="748.62" x2="1279.15" y2="744.15"/>
<line x1="1232.78" y1="749.07" x2="1279.15" y2="744.42"/>
<line x1="1232.78" y1="749.47" x2="1279.15" y2="761.25"/>
<line x1="1232.78" y1="749.64" x2="1279.15" y2="747.53"/>
<line x1="1232.78" y1="749.8" x2="1279.15" y2="744.92"/>
<line x1="1232.78" y1="751.01" x2="1279.15" y2="751.98"/>
<line x1="1232.78" y1="752.13" x2="1279.15" y2="744.22"/>
<line x1="1232.78" y1="752.63" x2="1279.15" y2="745.43"/>
<line x1="1232.78" y1="754.06" x2="1279.15" y2="747.93"/>
<line x1="1232.78" y1="754.72" x2="1279.15" y2="759.91"/>
<line x1="1232.78" y1="755.45" x2="1279.15" y2="750.51"/>
<line x1="1232.78" y1="756.21" x2="1279.15" y2="750.23"/>
<line x1="1232.78" y1="756.26" x2="1279.15" y2="746.21"/>
<line x1="1232.78" y1="756.28" x2="1279.15" y2="747.15"/>
<line x1="1232.78" y1="756.43" x2="1279.15" y2="766.14"/>
<line x1="1232.78" y1="756.71" x2="1279.15" y2="752.18"/>
<line x1="1232.78" y1="757.55" x2="1279.15" y2="751.13"/>
<line x1="1232.78" y1="757.64" x2="1279.15" y2="767.54"/>
<line x1="1232.78" y1="757.67" x2="1279.15" y2="760.97"/>
<line x1="1232.78" y1="758.52" x2="1279.15" y2="761.7"/>
<line x1="1232.78" y1="760.04" x2="1279.15" y2="758.15"/>
<line x1="1232.78" y1="763.4" x2="1279.15" y2="758.83"/>
<line x1="1232.78" y1="763.73" x2="1279.15" y2="744.77"/>
<line x1="1232.78" y1="764.68" x2="1279.15" y2="756.65"/>
<line x1="1232.78" y1="764.73" x2="1279.15" y2="764.24"/>
<line x1="1232.78" y1="765.03" x2="1279.15" y2="756.63"/>
<line x1="1232.78" y1="766.35" x2="1279.15" y2="743.98"/>
<line x1="1232.78" y1="767.11" x2="1279.15" y2="744.05"/>
<line x1="1232.78" y1="769.57" x2="1279.15" y2="766.21"/>
<line x1="1232.78" y1="771.43" x2="1279.15" y2="763.76"/>
<line x1="1232.78" y1="772.16" x2="1279.15" y2="748.27"/>
<line x1="1232.78" y1="773" x2="1279.15" y2="746.49"/>
<line x1="1232.78" y1="774.3" x2="1279.15" y2="750.79"/>
<line x1="1232.78" y1="774.77" x2="1279.15" y2="752.86"/>
<line x1="1232.78" y1="776.19" x2="1279.15" y2="743.99"/>
<line x1="1232.78" y1="776.45" x2="1279.15" y2="752.06"/>
<line x1="1232.78" y1="776.87" x2="1279.15" y2="748.15"/>
<line x1="1232.78" y1="777.42" x2="1279.15" y2="758.67"/>
<line x1="1232.78" y1="778.24" x2="1279.15" y2="766.47"/>
<line x1="1232.78" y1="779.79" x2="1279.15" y2="766.53"/>
<line x1="1232.78" y1="781.28" x2="1279.15" y2="773.25"/>
<line x1="1232.78" y1="781.43" x2="1279.15" y2="744.58"/>
<line x1="1232.78" y1="785.39" x2="1279.15" y2="744.09"/>
<line x1="1232.78" y1="786.16" x2="1279.15" y2="750.87"/>
<line x1="1232.78" y1="787.53" x2="1279.15" y2="745.79"/>
<line x1="1232.78" y1="788.46" x2="1279.15" y2="752.5"/>
<line x1="1232.78" y1="788.51" x2="1279.15" y2="748.47"/>
<line x1="1232.78" y1="791.38" x2="1279.15" y2="756.11"/>
<line x1="1232.78" y1="791.65" x2="1279.15" y2="795.73"/>
<line x1="1232.78" y1="793.2" x2="1279.15" y2="786.54"/>
<line x1="1232.78" y1="793.37" x2="1279.15" y2="746.65"/>
<line x1="1232.78" y1="794.83" x2="1279.15" y2="752.7"/>
<line x1="1232.78" y1="794.94" x2="1279.15" y2="785.37"/>
<line x1="1232.78" y1="795.47" x2="1279.15" y2="746.99"/>
<line x1="1232.78" y1="796.34" x2="1279.15" y2="770.92"/>
<line x1="1232.78" y1="796.61" x2="1279.15" y2="842.64"/>
<line x1="1232.78" y1="797.21" x2="1279.15" y2="749.29"/>
<line x1="1232.78" y1="797.34" x2="1279.15" y2="748.43"/>
<line x1="1232.78" y1="797.54" x2="1279.15" y2="767.15"/>
<line x1="1232.78" y1="798.09" x2="1279.15" y2="818.57"/>
<line x1="1232.78" y1="799.3" x2="1279.15" y2="768.4"/>
<line x1="1232.78" y1="799.48" x2="1279.15" y2="761.5"/>
<line x1="1232.78" y1="800.08" x2="1279.15" y2="780.33"/>
<line x1="1232.78" y1="800.8" x2="1279.15" y2="762.67"/>
<line x1="1232.78" y1="800.93" x2="1279.15" y2="760.07"/>
<line x1="1232.78" y1="801.17" x2="1279.15" y2="751.3"/>
<line x1="1232.78" y1="802.28" x2="1279.15" y2="775.71"/>
<line x1="1232.78" y1="803.64" x2="1279.15" y2="772.61"/>
<line x1="1232.78" y1="803.97" x2="1279.15" y2="771.39"/>
<line x1="1232.78" y1="804.91" x2="1279.15" y2="774.48"/>
<line x1="1232.78" y1="804.99" x2="1279.15" y2="756.23"/>
<line x1="1232.78" y1="805.77" x2="1279.15" y2="763.75"/>
<line x1="1232.78" y1="805.97" x2="1279.15" y2="768.32"/>
<line x1="1232.78" y1="806.96" x2="1279.15" y2="782.21"/>
<line x1="1232.78" y1="807.25" x2="1279.15" y2="794"/>
<line x1="1232.78" y1="807.43" x2="1279.15" y2="773.49"/>
<line x1="1232.78" y1="808.12" x2="1279.15" y2="774.34"/>
<line x1="1232.78" y1="811.99" x2="1279.15" y2="764.78"/>
<line x1="1232.78" y1="812.66" x2="1279.15" y2="780.2"/>
<line x1="1232.78" y1="814.02" x2="1279.15" y2="788.8"/>
<line x1="1232.78" y1="814.9" x2="1279.15" y2="770.31"/>
<line x1="1232.78" y1="815.82" x2="1279.15" y2="773.32"/>
<line x1="1232.78" y1="816.62" x2="1279.15" y2="787.42"/>
<line x1="1232.78" y1="818.76" x2="1279.15" y2="772.31"/>
<line x1="1232.78" y1="818.89" x2="1279.15" y2="769.25"/>
<line x1="1232.78" y1="821.58" x2="1279.15" y2="780.73"/>
<line x1="1232.78" y1="822.21" x2="1279.15" y2="766.76"/>
<line x1="1232.78" y1="823.94" x2="1279.15" y2="774.37"/>
<line x1="1232.78" y1="825.08" x2="1279.15" y2="774.87"/>
<line x1="1232.78" y1="825.1" x2="1279.15" y2="797.02"/>
<line x1="1232.78" y1="826.82" x2="1279.15" y2="775.13"/>
<line x1="1232.78" y1="827.32" x2="1279.15" y2="775.35"/>
<line x1="1232.78" y1="828.98" x2="1279.15" y2="816.18"/>
<line x1="1232.78" y1="833.92" x2="1279.15" y2="774.27"/>
<line x1="1232.78" y1="834.45" x2="1279.15" y2="837.29"/>
<line x1="1232.78" y1="834.55" x2="1279.15" y2="776.02"/>
<line x1="1232.78" y1="835.47" x2="1279.15" y2="859.83"/>
<line x1="1232.78" y1="835.51" x2="1279.15" y2="768.02"/>
<line x1="1232.78" y1="836.4" x2="1279.15" y2="774.32"/>
<line x1="1232.78" y1="836.47" x2="1279.15" y2="783.55"/>
<line x1="1232.78" y1="837.16" x2="1279.15" y2="773.8"/>
<line x1="1232.78" y1="839.93" x2="1279.15" y2="781.98"/>
<line x1="1232.78" y1="840.8" x2="1279.15" y2="791.56"/>
<line x1="1232.78" y1="841.39" x2="1279.15" y2="771.44"/>
<line x1="1232.78" y1="841.47" x2="1279.15" y2="786.82"/>
<line x1="1232.78" y1="841.64" x2="1279.15" y2="789.88"/>
<line x1="1232.78" y1="843.86" x2="1279.15" y2="803.95"/>
<line x1="1232.78" y1="846.13" x2="1279.15" y2="768.4"/>
<line x1="1232.78" y1="848.2" x2="1279.15" y2="784.96"/>
<line x1="1232.78" y1="848.21" x2="1279.15" y2="789.01"/>
<line x1="1232.78" y1="863.55" x2="1279.15" y2="808.58"/>
<line x1="1232.78" y1="866.71" x2="1279.15" y2="784.88"/>
<line x1="1232.78" y1="869.1" x2="1279.15" y2="801.84"/>
<line x1="1232.78" y1="871.3" x2="1279.15" y2="796.84"/>
<line x1="1232.78" y1="941.45" x2="1279.15" y2="782.49"/>
<line x1="1232.78" y1="941.45" x2="1279.15" y2="795.59"/>
<line x1="1232.78" y1="941.45" x2="1279.15" y2="814.67"/>
</g>
<g fill="none" stroke="#00f8f8" stroke-opacity="0.75" stroke-width="1">
<circle cx="1232.78" cy="747.1" r="2"/>
<circle cx="1279.15" cy="743.98" r="2"/>
<circle cx="1232.78" cy="747.43" r="2"/>
<circle cx="1279.15" cy="743.99" r="2"/>
<circle cx="1232.78" cy="748.62" r="2"/>
<circle cx="1279.15" cy="744.05" r="2"/>
<circle cx="1232.78" cy="749.07" r="2"/>
<circle cx="1279.15" cy="744.09" r="2"/>
<circle cx="1232.78" cy="749.47" r="2"/>
<circle cx="1279.15" cy="744.15" r="2"/>
<circle cx="1232.78" cy="749.64" r="2"/>
<circle cx="1279.15" cy="744.22" r="2"/>
<circle cx="1232.78" cy="749.8" r="2"/>
<circle cx="1279.15" cy="744.3" r="2"/>
<circle cx="1232.78" cy="751.01" r="2"/>
<circle cx="1279.15" cy="744.42" r="2"/>
<circle cx="1232.78" cy="752.13" r="2"/>
<circle cx="1279.15" cy="744.58" r="2"/>
<circle cx="1232.78" cy="752.63" r="2"/>
<circle cx="1279.15" cy="744.77" r="2"/>
<circle cx="1232.78" cy="754.06" r="2"/>
<circle cx="1279.15" cy="744.92" r="2"/>
<circle cx="1232.78" cy="754.72" r="2"/>
<circle cx="1279.15" cy="745.43" r="2"/>
<circle cx="1232.78" cy="755.45" r="2"/>
<circle cx="1279.15" cy="745.79" r="2"/>
<circle cx="1232.78" cy="756.21" r="2"/>
<circle cx="1279.15" cy="745.9" r="2"/>
<circle cx="1232.78" cy="756.26" r="2"/>
<circle cx="1279.15" cy="746.21" r="2"/>
<circle cx="1232.78" cy="756.28" r="2"/>
<circle cx="1279.15" cy="746.49" r="2"/>
<circle cx="1232.78" cy="756.43" r="2"/>
<circle cx="1279.15" cy="746.65" r="2"/>
<circle cx="1232.78" cy="756.71" r="2"/>
<circle cx="1279.15" cy="746.99" r="2"/>
<circle cx="1232.78" cy="757.55" r="2"/>
<circle cx="1279.15" cy="747.15" r="2"/>
<circle cx="1232.78" cy="757.64" r="2"/>
<circle cx="1279.15" cy="747.53" r="2"/>
<circle cx="1232.78" cy="757.67" r="2"/>
<circle cx="1279.15" cy="747.93" r="2"/>
<circle cx="1232.78" cy="758.52" r="2"/>
<circle cx="1279.15" cy="748.15" r="2"/>
<circle cx="1232.78" cy="760.04" r="2"/>
<circle cx="1279.15" cy="748.27" r="2"/>
<circle cx="1232.78" cy="763.4" r="2"/>
<circle cx="1279.15" cy="748.43" r="2"/>
<circle cx="1232.78" cy="763.73" r="2"/>
<circle cx="1279.15" cy="748.47" r="2"/>
<circle cx="1232.78" cy="764.68" r="2"/>
<circle cx="1279.15" cy="749.29" r="2"/>
<circle cx="1232.78" cy="764.73" r="2"/>
<circle cx="1279.15" cy="750.23" r="2"/>
<circle cx="1232.78" cy="765.03" r="2"/>
<circle cx="1279.15" cy="750.51" r="2"/>
<circle cx="1232.78" cy="766.35" r="2"/>
<circle cx="1279.15" cy="750.79" r="2"/>
<circle cx="1232.78" cy="767.11" r="2"/>
<circle cx="1279.15" cy="750.87" r="2"/>
<circle cx="1232.78" cy="769.57" r="2"/>
<circle cx="1279.15" cy="751.13" r="2"/>
<circle cx="1232.78" cy="771.43" r="2"/>
<circle cx="1279.15" cy="751.3" r="2"/>
<circle cx="1232.78" cy="772.16" r="2"/>
<circle cx="1279.15" cy="751.98" r="2"/>
<circle cx="1232.78" cy="773" r="2"/>
<circle cx="1279.15" cy="752.06" r="2"/>
<circle cx="1232.78" cy="774.3" r="2"/>
<circle cx="1279.15" cy="752.18" r="2"/>
<circle cx="1232.78" cy="774.77" r="2"/>
<circle cx="1279.15" cy="752.5" r="2"/>
<circle cx="1232.78" cy="776.19" r="2"/>
<circle cx="1279.15" cy="752.7" r="2"/>
<circle cx="1232.78" cy="776.45" r="2"/>
<circle cx="1279.15" cy="752.86" r="2"/>
<circle cx="1232.78" cy="776.87" r="2"/>
<circle cx="1279.15" cy="756.11" r="2"/>
<circle cx="1232.78" cy="777.42" r="2"/>
<circle cx="1279.15" cy="756.23" r="2"/>
<circle cx="1232.78" cy="778.24" r="2"/>
<circle cx="1279.15" cy="756.63" r="2"/>
<circle cx="1232.78" cy="779.79" r="2"/>
<circle cx="1279.15" cy="756.65" r="2"/>
<circle cx="1232.78" cy="781.28" r="2"/>
<circle cx="1279.15" cy="758.15" r="2"/>
<circle cx="1232.78" cy="781.43" r="2"/>
<circle cx="1279.15" cy="758.67" r="2"/>
<circle cx="1232.78" cy="785.39" r="2"/>
<circle cx="1279.15" cy="758.83" r="2"/>
<circle cx="1232.78" cy="786.16" r="2"/>
<circle cx="1279.15" cy="759.91" r="2"/>
<circle cx="1232.78" cy="787.53" r="2"/>
<circle cx="1279.15" cy="760.07" r="2"/>
<circle cx="1232.78" cy="788.46" r="2"/>
<circle cx="1279.15" cy="760.97" r="2"/>
<circle cx="1232.78" cy="788.51" r="2"/>
<circle cx="1279.15" cy="761.25" r="2"/>
<circle cx="1232.78" cy="791.38" r="2"/>
<circle cx="1279.15" cy="761.5" r="2"/>
<circle cx="1232.78" cy="791.65" r="2"/>
<circle cx="1279.15" cy="761.7" r="2"/>
<circle cx="1232.78" cy="793.2" r="2"/>
<circle cx="1279.15" cy="762.67" r="2"/>
<circle cx="1232.78" cy="793.37" r="2"/>
<circle cx="1279.15" cy="763.75" r="2"/>
<circle cx="1232.78" cy="794.83" r="2"/>
<circle cx="1279.15" cy="763.76" r="2"/>
<circle cx="1232.78" cy="794.94" r="2"/>
<circle cx="1279.15" cy="764.24" r="2"/>
<circle cx="1232.78" cy="795.47" r="2"/>
<circle cx="1279.15" cy="764.78" r="2"/>
<circle cx="1232.78" cy="796.34" r="2"/>
<circle cx="1279.15" cy="766.14" r="2"/>
<circle cx="1232.78" cy="796.61" r="2"/>
<circle cx="1279.15" cy="766.21" r="2"/>
<circle cx="1232.78" cy="797.21" r="2"/>
<circle cx="1279.15" cy="766.47" r="2"/>
<circle cx="1232.78" cy="797.34" r="2"/>
<circle cx="1279.15" cy="766.53" r="2"/>
<circle cx="1232.78" cy="797.54" r="2"/>
<circle cx="1279.15" cy="766.76" r="2"/>
<circle cx="1232.78" cy="798.09" r="2"/>
<circle cx="1279.15" cy="767.15" r="2"/>
<circle cx="1232.78" cy="799.3" r="2"/>
<circle cx="1279.15" cy="767.54" r="2"/>
<circle cx="1232.78" cy="799.48" r="2"/>
<circle cx="1279.15" cy="768.02" r="2"/>
<circle cx="1232.78" cy="800.08" r="2"/>
<circle cx="1279.15" cy="768.32" r="2"/>
<circle cx="1232.78" cy="800.8" r="2"/>
<circle cx="1279.15" cy="768.4" r="2"/>
<circle cx="1232.78" cy="800.93" r="2"/>
<circle cx="1279.15" cy="768.4" r="2"/>
<circle cx="1232.78" cy="801.17" r="2"/>
<circle cx="1279.15" cy="769.25" r="2"/>
<circle cx="1232.78" cy="802.28" r="2"/>
<circle cx="1279.15" cy="770.31" r="2"/>
<circle cx="1232.78" cy="803.64" r="2"/>
<circle cx="1279.15" cy="770.92" r="2"/>
<circle cx="1232.78" cy="803.97" r="2"/>
<circle cx="1279.15" cy="771.39" r="2"/>
<circle cx="1232.78" cy="804.91" r="2"/>
<circle cx="1279.15" cy="771.44" r="2"/>
<circle cx="1232.78" cy="804.99" r="2"/>
<circle cx="1279.15" cy="772.31" r="2"/>
<circle cx="1232.78" cy="805.77" r="2"/>
<circle cx="1279.15" cy="772.61" r="2"/>
<circle cx="1232.78" cy="805.97" r="2"/>
<circle cx="1279.15" cy="773.25" r="2"/>
<circle cx="1232.78" cy="806.96" r="2"/>
<circle cx="1279.15" cy="773.32" r="2"/>
<circle cx="1232.78" cy="807.25" r="2"/>
<circle cx="1279.15" cy="773.49" r="2"/>
<circle cx="1232.78" cy="807.43" r="2"/>
<circle cx="1279.15" cy="773.8" r="2"/>
<circle cx="1232.78" cy="808.12" r="2"/>
<circle cx="1279.15" cy="774.27" r="2"/>
<circle cx="1232.78" cy="811.99" r="2"/>
<circle cx="1279.15" cy="774.32" r="2"/>
<circle cx="1232.78" cy="812.66" r="2"/>
<circle cx="1279.15" cy="774.34" r="2"/>
<circle cx="1232.78" cy="814.02" r="2"/>
<circle cx="1279.15" cy="774.37" r="2"/>
<circle cx="1232.78" cy="814.9" r="2"/>
<circle cx="1279.15" cy="774.48" r="2"/>
<circle cx="1232.78" cy="815.82" r="2"/>
<circle cx="1279.15" cy="774.87" r="2"/>
<circle cx="1232.78" cy="816.62" r="2"/>
<circle cx="1279.15" cy="775.13" r="2"/>
<circle cx="1232.78" cy="818.76" r="2"/>
<circle cx="1279.15" cy="775.35" r="2"/>
<circle cx="1232.78" cy="818.89" r="2"/>
<circle cx="1279.15" cy="775.71" r="2"/>
<circle cx="1232.78" cy="821.58" r="2"/>
<circle cx="1279.15" cy="776.02" r="2"/>
<circle cx="1232.78" cy="822.21" r="2"/>
<circle cx="1279.15" cy="780.2" r="2"/>
<circle cx="1232.78" cy="823.94" r="2"/>
<circle cx="1279.15" cy="780.33" r="2"/>
<circle cx="1232.78" cy="825.08" r="2"/>
<circle cx="1279.15" cy="780.73" r="2"/>
<circle cx="1232.78" cy="825.1" r="2"/>
<circle cx="1279.15" cy="781.98" r="2"/>
<circle cx="1232.78" cy="826.82" r="2"/>
<circle cx="1279.15" cy="782.21" r="2"/>
<circle cx="1232.78" cy="827.32" r="2"/>
<circle cx="1279.15" cy="782.49" r="2"/>
<circle cx="1232.78" cy="828.98" r="2"/>
<circle cx="1279.15" cy="783.55" r="2"/>
<circle cx="1232.78" cy="833.92" r="2"/>
<circle cx="1279.15" cy="784.88" r="2"/>
<circle cx="1232.78" cy="834.45" r="2"/>
<circle cx="1279.15" cy="784.96" r="2"/>
<circle cx="1232.78" cy="834.55" r="2"/>
<circle cx="1279.15" cy="785.37" r="2"/>
<circle cx="1232.78" cy="835.47" r="2"/>
<circle cx="1279.15" cy="786.54" r="2"/>
<circle cx="1232.78" cy="835.51" r="2"/>
<circle cx="1279.15" cy="786.82" r="2"/>
<circle cx="1232.78" cy="836.4" r="2"/>
<circle cx="1279.15" cy="787.42" r="2"/>
<circle cx="1232.78" cy="836.47" r="2"/>
<circle cx="1279.15" cy="788.8" r="2"/>
<circle cx="1232.78" cy="837.16" r="2"/>
<circle cx="1279.15" cy="789.01" r="2"/>
<circle cx="1232.78" cy="839.93" r="2"/>
<circle cx="1279.15" cy="789.88" r="2"/>
<circle cx="1232.78" cy="840.8" r="2"/>
<circle cx="1279.15" cy="791.56" r="2"/>
<circle cx="1232.78" cy="841.39" r="2"/>
<circle cx="1279.15" cy="794" r="2"/>
<circle cx="1232.78" cy="841.47" r="2"/>
<circle cx="1279.15" cy="795.59" r="2"/>
<circle cx="1232.78" cy="841.64" r="2"/>
<circle cx="1279.15" cy="795.73" r="2"/>
<circle cx="1232.78" cy="843.86" r="2"/>
<circle cx="1279.15" cy="796.84" r="2"/>
<circle cx="1232.78" cy="846.13" r="2"/>
<circle cx="1279.15" cy="797.02" r="2"/>
<circle cx="1232.78" cy="848.2" r="2"/>
<circle cx="1279.15" cy="801.84" r="2"/>
<circle cx="1232.78" cy="848.21" r="2"/>
<circle cx="1279.15" cy="803.95" r="2"/>
<circle cx="1232.78" cy="863.55" r="2"/>
<circle cx="1279.15" cy="808.58" r="2"/>
<circle cx="1232.78" cy="866.71" r="2"/>
<circle cx="1279.15" cy="814.67" r="2"/>
<circle cx="1232.78" cy="869.1" r="2"/>
<circle cx="1279.15" cy="816.18" r="2"/>
<circle cx="1232.78" cy="871.3" r="2"/>
<circle cx="1279.15" cy="818.57" r="2"/>
<circle cx="1232.78" cy="941.45" r="2"/>
<circle cx="1279.15" cy="837.29" r="2"/>
<circle cx="1232.78" cy="941.45" r="2"/>
<circle cx="1279.15" cy="842.64" r="2"/>
<circle cx="1232.78" cy="941.45" r="2"/>
<circle cx="1279.15" cy="859.83" r="2"/>
</g>
<polyline points="1232.78,729.7 1232.78,716.7 1279.15,716.7 1279.15,729.7" fill="none" stroke="#000" stroke-width="3" stroke-linejoin="miter"/>
<text x="1255.96" y="712" font-size="13" text-anchor="middle" fill="#000" textLength="41.5" lengthAdjust="spacingAndGlyphs">&lt;0.0001</text>
<g stroke="#1010ff" stroke-opacity="0.5" stroke-width="1">
<line x1="1325.52" y1="742.75" x2="1371.89" y2="744.09"/>
<line x1="1325.52" y1="743.91" x2="1371.89" y2="744.58"/>
<line x1="1325.52" y1="744.69" x2="1371.89" y2="751.13"/>
<line x1="1325.52" y1="745.43" x2="1371.89" y2="748.43"/>
<line x1="1325.52" y1="746.01" x2="1371.89" y2="750.23"/>
<line x1="1325.52" y1="746.77" x2="1371.89" y2="748.47"/>
<line x1="1325.52" y1="747.34" x2="1371.89" y2="744.05"/>
<line x1="1325.52" y1="747.44" x2="1371.89" y2="744.3"/>
<line x1="1325.52" y1="747.69" x2="1371.89" y2="743.99"/>
<line x1="1325.52" y1="748.35" x2="1371.89" y2="744.42"/>
<line x1="1325.52" y1="748.43" x2="1371.89" y2="756.63"/>
<line x1="1325.52" y1="749.5" x2="1371.89" y2="751.3"/>
<line x1="1325.52" y1="750.23" x2="1371.89" y2="745.43"/>
<line x1="1325.52" y1="750.62" x2="1371.89" y2="756.23"/>
<line x1="1325.52" y1="750.87" x2="1371.89" y2="750.51"/>
<line x1="1325.52" y1="750.87" x2="1371.89" y2="744.15"/>
<line x1="1325.52" y1="751.21" x2="1371.89" y2="746.49"/>
<line x1="1325.52" y1="751.85" x2="1371.89" y2="751.98"/>
<line x1="1325.52" y1="753.33" x2="1371.89" y2="752.06"/>
<line x1="1325.52" y1="754.13" x2="1371.89" y2="762.67"/>
<line x1="1325.52" y1="754.36" x2="1371.89" y2="766.14"/>
<line x1="1325.52" y1="755.6" x2="1371.89" y2="775.71"/>
<line x1="1325.52" y1="757.92" x2="1371.89" y2="744.22"/>
<line x1="1325.52" y1="758.9" x2="1371.89" y2="746.21"/>
<line x1="1325.52" y1="759.07" x2="1371.89" y2="748.27"/>
<line x1="1325.52" y1="759.09" x2="1371.89" y2="746.65"/>
<line x1="1325.52" y1="760.76" x2="1371.89" y2="744.92"/>
<line x1="1325.52" y1="763.01" x2="1371.89" y2="745.9"/>
<line x1="1325.52" y1="764.4" x2="1371.89" y2="768.32"/>
<line x1="1325.52" y1="765.39" x2="1371.89" y2="767.54"/>
<line x1="1325.52" y1="766.07" x2="1371.89" y2="766.76"/>
<line x1="1325.52" y1="766.56" x2="1371.89" y2="745.79"/>
<line x1="1325.52" y1="767.12" x2="1371.89" y2="750.79"/>
<line x1="1325.52" y1="767.42" x2="1371.89" y2="743.98"/>
<line x1="1325.52" y1="767.56" x2="1371.89" y2="746.99"/>
<line x1="1325.52" y1="768.52" x2="1371.89" y2="747.93"/>
<line x1="1325.52" y1="768.67" x2="1371.89" y2="758.15"/>
<line x1="1325.52" y1="770.95" x2="1371.89" y2="756.65"/>
<line x1="1325.52" y1="771.55" x2="1371.89" y2="752.18"/>
<line x1="1325.52" y1="771.95" x2="1371.89" y2="766.53"/>
<line x1="1325.52" y1="772.38" x2="1371.89" y2="775.35"/>
<line x1="1325.52" y1="773.92" x2="1371.89" y2="772.31"/>
<line x1="1325.52" y1="774.09" x2="1371.89" y2="766.21"/>
<line x1="1325.52" y1="774.52" x2="1371.89" y2="747.15"/>
<line x1="1325.52" y1="774.53" x2="1371.89" y2="747.53"/>
<line x1="1325.52" y1="774.64" x2="1371.89" y2="773.49"/>
<line x1="1325.52" y1="774.75" x2="1371.89" y2="761.5"/>
<line x1="1325.52" y1="778.5" x2="1371.89" y2="748.15"/>
<line x1="1325.52" y1="779.98" x2="1371.89" y2="760.07"/>
<line x1="1325.52" y1="780.48" x2="1371.89" y2="744.77"/>
<line x1="1325.52" y1="781.27" x2="1371.89" y2="771.44"/>
<line x1="1325.52" y1="782.21" x2="1371.89" y2="749.29"/>
<line x1="1325.52" y1="783.42" x2="1371.89" y2="767.15"/>
<line x1="1325.52" y1="783.81" x2="1371.89" y2="752.7"/>
<line x1="1325.52" y1="783.95" x2="1371.89" y2="766.47"/>
<line x1="1325.52" y1="784.48" x2="1371.89" y2="764.78"/>
<line x1="1325.52" y1="784.76" x2="1371.89" y2="783.55"/>
<line x1="1325.52" y1="786.68" x2="1371.89" y2="750.87"/>
<line x1="1325.52" y1="786.89" x2="1371.89" y2="774.27"/>
<line x1="1325.52" y1="788.8" x2="1371.89" y2="752.5"/>
<line x1="1325.52" y1="790.78" x2="1371.89" y2="761.25"/>
<line x1="1325.52" y1="791.16" x2="1371.89" y2="772.61"/>
<line x1="1325.52" y1="792.24" x2="1371.89" y2="760.97"/>
<line x1="1325.52" y1="792.7" x2="1371.89" y2="773.8"/>
<line x1="1325.52" y1="793.19" x2="1371.89" y2="784.88"/>
<line x1="1325.52" y1="795" x2="1371.89" y2="758.83"/>
<line x1="1325.52" y1="796.08" x2="1371.89" y2="774.87"/>
<line x1="1325.52" y1="797.36" x2="1371.89" y2="775.13"/>
<line x1="1325.52" y1="798.23" x2="1371.89" y2="774.34"/>
<line x1="1325.52" y1="798.47" x2="1371.89" y2="761.7"/>
<line x1="1325.52" y1="799.14" x2="1371.89" y2="780.2"/>
<line x1="1325.52" y1="801.53" x2="1371.89" y2="759.91"/>
<line x1="1325.52" y1="804.33" x2="1371.89" y2="803.95"/>
<line x1="1325.52" y1="807.12" x2="1371.89" y2="763.76"/>
<line x1="1325.52" y1="809.28" x2="1371.89" y2="776.02"/>
<line x1="1325.52" y1="811.64" x2="1371.89" y2="774.48"/>
<line x1="1325.52" y1="812.02" x2="1371.89" y2="758.67"/>
<line x1="1325.52" y1="812.18" x2="1371.89" y2="773.25"/>
<line x1="1325.52" y1="812.25" x2="1371.89" y2="763.75"/>
<line x1="1325.52" y1="813.63" x2="1371.89" y2="769.25"/>
<line x1="1325.52" y1="816.77" x2="1371.89" y2="770.92"/>
<line x1="1325.52" y1="817.58" x2="1371.89" y2="768.4"/>
<line x1="1325.52" y1="817.96" x2="1371.89" y2="756.11"/>
<line x1="1325.52" y1="818.27" x2="1371.89" y2="785.37"/>
<line x1="1325.52" y1="822.44" x2="1371.89" y2="786.54"/>
<line x1="1325.52" y1="823.15" x2="1371.89" y2="795.59"/>
<line x1="1325.52" y1="827.33" x2="1371.89" y2="782.49"/>
<line x1="1325.52" y1="828.06" x2="1371.89" y2="816.18"/>
<line x1="1325.52" y1="831.21" x2="1371.89" y2="768.4"/>
<line x1="1325.52" y1="833.67" x2="1371.89" y2="771.39"/>
<line x1="1325.52" y1="835.59" x2="1371.89" y2="768.02"/>
<line x1="1325.52" y1="837.06" x2="1371.89" y2="791.56"/>
<line x1="1325.52" y1="837.93" x2="1371.89" y2="797.02"/>
<line x1="1325.52" y1="838.26" x2="1371.89" y2="787.42"/>
<line x1="1325.52" y1="839.43" x2="1371.89" y2="794"/>
<line x1="1325.52" y1="839.66" x2="1371.89" y2="788.8"/>
<line x1="1325.52" y1="839.92" x2="1371.89" y2="782.21"/>
<line x1="1325.52" y1="840.43" x2="1371.89" y2="837.29"/>
<line x1="1325.52" y1="843.16" x2="1371.89" y2="774.32"/>
<line x1="1325.52" y1="843.37" x2="1371.89" y2="780.73"/>
<line x1="1325.52" y1="843.56" x2="1371.89" y2="773.32"/>
<line x1="1325.52" y1="845.03" x2="1371.89" y2="801.84"/>
<line x1="1325.52" y1="852.47" x2="1371.89" y2="808.58"/>
<line x1="1325.52" y1="852.57" x2="1371.89" y2="842.64"/>
<line x1="1325.52" y1="853.68" x2="1371.89" y2="770.31"/>
<line x1="1325.52" y1="854.05" x2="1371.89" y2="774.37"/>
<line x1="1325.52" y1="854.37" x2="1371.89" y2="818.57"/>
<line x1="1325.52" y1="856.71" x2="1371.89" y2="752.86"/>
<line x1="1325.52" y1="857.7" x2="1371.89" y2="789.88"/>
<line x1="1325.52" y1="866.71" x2="1371.89" y2="781.98"/>
<line x1="1325.52" y1="872.84" x2="1371.89" y2="795.73"/>
<line x1="1325.52" y1="886.14" x2="1371.89" y2="786.82"/>
<line x1="1325.52" y1="903.87" x2="1371.89" y2="796.84"/>
<line x1="1325.52" y1="905.86" x2="1371.89" y2="859.83"/>
<line x1="1325.52" y1="907.96" x2="1371.89" y2="764.24"/>
<line x1="1325.52" y1="926.06" x2="1371.89" y2="814.67"/>
<line x1="1325.52" y1="938.97" x2="1371.89" y2="784.96"/>
<line x1="1325.52" y1="987.91" x2="1371.89" y2="780.33"/>
<line x1="1325.52" y1="987.91" x2="1371.89" y2="789.01"/>
</g>
<g fill="none" stroke="#1010ff" stroke-opacity="0.75" stroke-width="1">
<circle cx="1325.52" cy="742.75" r="2"/>
<circle cx="1371.89" cy="743.98" r="2"/>
<circle cx="1325.52" cy="743.91" r="2"/>
<circle cx="1371.89" cy="743.99" r="2"/>
<circle cx="1325.52" cy="744.69" r="2"/>
<circle cx="1371.89" cy="744.05" r="2"/>
<circle cx="1325.52" cy="745.43" r="2"/>
<circle cx="1371.89" cy="744.09" r="2"/>
<circle cx="1325.52" cy="746.01" r="2"/>
<circle cx="1371.89" cy="744.15" r="2"/>
<circle cx="1325.52" cy="746.77" r="2"/>
<circle cx="1371.89" cy="744.22" r="2"/>
<circle cx="1325.52" cy="747.34" r="2"/>
<circle cx="1371.89" cy="744.3" r="2"/>
<circle cx="1325.52" cy="747.44" r="2"/>
<circle cx="1371.89" cy="744.42" r="2"/>
<circle cx="1325.52" cy="747.69" r="2"/>
<circle cx="1371.89" cy="744.58" r="2"/>
<circle cx="1325.52" cy="748.35" r="2"/>
<circle cx="1371.89" cy="744.77" r="2"/>
<circle cx="1325.52" cy="748.43" r="2"/>
<circle cx="1371.89" cy="744.92" r="2"/>
<circle cx="1325.52" cy="749.5" r="2"/>
<circle cx="1371.89" cy="745.43" r="2"/>
<circle cx="1325.52" cy="750.23" r="2"/>
<circle cx="1371.89" cy="745.79" r="2"/>
<circle cx="1325.52" cy="750.62" r="2"/>
<circle cx="1371.89" cy="745.9" r="2"/>
<circle cx="1325.52" cy="750.87" r="2"/>
<circle cx="1371.89" cy="746.21" r="2"/>
<circle cx="1325.52" cy="750.87" r="2"/>
<circle cx="1371.89" cy="746.49" r="2"/>
<circle cx="1325.52" cy="751.21" r="2"/>
<circle cx="1371.89" cy="746.65" r="2"/>
<circle cx="1325.52" cy="751.85" r="2"/>
<circle cx="1371.89" cy="746.99" r="2"/>
<circle cx="1325.52" cy="753.33" r="2"/>
<circle cx="1371.89" cy="747.15" r="2"/>
<circle cx="1325.52" cy="754.13" r="2"/>
<circle cx="1371.89" cy="747.53" r="2"/>
<circle cx="1325.52" cy="754.36" r="2"/>
<circle cx="1371.89" cy="747.93" r="2"/>
<circle cx="1325.52" cy="755.6" r="2"/>
<circle cx="1371.89" cy="748.15" r="2"/>
<circle cx="1325.52" cy="757.92" r="2"/>
<circle cx="1371.89" cy="748.27" r="2"/>
<circle cx="1325.52" cy="758.9" r="2"/>
<circle cx="1371.89" cy="748.43" r="2"/>
<circle cx="1325.52" cy="759.07" r="2"/>
<circle cx="1371.89" cy="748.47" r="2"/>
<circle cx="1325.52" cy="759.09" r="2"/>
<circle cx="1371.89" cy="749.29" r="2"/>
<circle cx="1325.52" cy="760.76" r="2"/>
<circle cx="1371.89" cy="750.23" r="2"/>
<circle cx="1325.52" cy="763.01" r="2"/>
<circle cx="1371.89" cy="750.51" r="2"/>
<circle cx="1325.52" cy="764.4" r="2"/>
<circle cx="1371.89" cy="750.79" r="2"/>
<circle cx="1325.52" cy="765.39" r="2"/>
<circle cx="1371.89" cy="750.87" r="2"/>
<circle cx="1325.52" cy="766.07" r="2"/>
<circle cx="1371.89" cy="751.13" r="2"/>
<circle cx="1325.52" cy="766.56" r="2"/>
<circle cx="1371.89" cy="751.3" r="2"/>
<circle cx="1325.52" cy="767.12" r="2"/>
<circle cx="1371.89" cy="751.98" r="2"/>
<circle cx="1325.52" cy="767.42" r="2"/>
<circle cx="1371.89" cy="752.06" r="2"/>
<circle cx="1325.52" cy="767.56" r="2"/>
<circle cx="1371.89" cy="752.18" r="2"/>
<circle cx="1325.52" cy="768.52" r="2"/>
<circle cx="1371.89" cy="752.5" r="2"/>
<circle cx="1325.52" cy="768.67" r="2"/>
<circle cx="1371.89" cy="752.7" r="2"/>
<circle cx="1325.52" cy="770.95" r="2"/>
<circle cx="1371.89" cy="752.86" r="2"/>
<circle cx="1325.52" cy="771.55" r="2"/>
<circle cx="1371.89" cy="756.11" r="2"/>
<circle cx="1325.52" cy="771.95" r="2"/>
<circle cx="1371.89" cy="756.23" r="2"/>
<circle cx="1325.52" cy="772.38" r="2"/>
<circle cx="1371.89" cy="756.63" r="2"/>
<circle cx="1325.52" cy="773.92" r="2"/>
<circle cx="1371.89" cy="756.65" r="2"/>
<circle cx="1325.52" cy="774.09" r="2"/>
<circle cx="1371.89" cy="758.15" r="2"/>
<circle cx="1325.52" cy="774.52" r="2"/>
<circle cx="1371.89" cy="758.67" r="2"/>
<circle cx="1325.52" cy="774.53" r="2"/>
<circle cx="1371.89" cy="758.83" r="2"/>
<circle cx="1325.52" cy="774.64" r="2"/>
<circle cx="1371.89" cy="759.91" r="2"/>
<circle cx="1325.52" cy="774.75" r="2"/>
<circle cx="1371.89" cy="760.07" r="2"/>
<circle cx="1325.52" cy="778.5" r="2"/>
<circle cx="1371.89" cy="760.97" r="2"/>
<circle cx="1325.52" cy="779.98" r="2"/>
<circle cx="1371.89" cy="761.25" r="2"/>
<circle cx="1325.52" cy="780.48" r="2"/>
<circle cx="1371.89" cy="761.5" r="2"/>
<circle cx="1325.52" cy="781.27" r="2"/>
<circle cx="1371.89" cy="761.7" r="2"/>
<circle cx="1325.52" cy="782.21" r="2"/>
<circle cx="1371.89" cy="762.67" r="2"/>
<circle cx="1325.52" cy="783.42" r="2"/>
<circle cx="1371.89" cy="763.75" r="2"/>
<circle cx="1325.52" cy="783.81" r="2"/>
<circle cx="1371.89" cy="763.76" r="2"/>
<circle cx="1325.52" cy="783.95" r="2"/>
<circle cx="1371.89" cy="764.24" r="2"/>
<circle cx="1325.52" cy="784.48" r="2"/>
<circle cx="1371.89" cy="764.78" r="2"/>
<circle cx="1325.52" cy="784.76" r="2"/>
<circle cx="1371.89" cy="766.14" r="2"/>
<circle cx="1325.52" cy="786.68" r="2"/>
<circle cx="1371.89" cy="766.21" r="2"/>
<circle cx="1325.52" cy="786.89" r="2"/>
<circle cx="1371.89" cy="766.47" r="2"/>
<circle cx="1325.52" cy="788.8" r="2"/>
<circle cx="1371.89" cy="766.53" r="2"/>
<circle cx="1325.52" cy="790.78" r="2"/>
<circle cx="1371.89" cy="766.76" r="2"/>
<circle cx="1325.52" cy="791.16" r="2"/>
<circle cx="1371.89" cy="767.15" r="2"/>
<circle cx="1325.52" cy="792.24" r="2"/>
<circle cx="1371.89" cy="767.54" r="2"/>
<circle cx="1325.52" cy="792.7" r="2"/>
<circle cx="1371.89" cy="768.02" r="2"/>
<circle cx="1325.52" cy="793.19" r="2"/>
<circle cx="1371.89" cy="768.32" r="2"/>
<circle cx="1325.52" cy="795" r="2"/>
<circle cx="1371.89" cy="768.4" r="2"/>
<circle cx="1325.52" cy="796.08" r="2"/>
<circle cx="1371.89" cy="768.4" r="2"/>
<circle cx="1325.52" cy="797.36" r="2"/>
<circle cx="1371.89" cy="769.25" r="2"/>
<circle cx="1325.52" cy="798.23" r="2"/>
<circle cx="1371.89" cy="770.31" r="2"/>
<circle cx="1325.52" cy="798.47" r="2"/>
<circle cx="1371.89" cy="770.92" r="2"/>
<circle cx="1325.52" cy="799.14" r="2"/>
<circle cx="1371.89" cy="771.39" r="2"/>
<circle cx="1325.52" cy="801.53" r="2"/>
<circle cx="1371.89" cy="771.44" r="2"/>
<circle cx="1325.52" cy="804.33" r="2"/>
<circle cx="1371.89" cy="772.31" r="2"/>
<circle cx="1325.52" cy="807.12" r="2"/>
<circle cx="1371.89" cy="772.61" r="2"/>
<circle cx="1325.52" cy="809.28" r="2"/>
<circle cx="1371.89" cy="773.25" r="2"/>
<circle cx="1325.52" cy="811.64" r="2"/>
<circle cx="1371.89" cy="773.32" r="2"/>
<circle cx="1325.52" cy="812.02" r="2"/>
<circle cx="1371.89" cy="773.49" r="2"/>
<circle cx="1325.52" cy="812.18" r="2"/>
<circle cx="1371.89" cy="773.8" r="2"/>
<circle cx="1325.52" cy="812.25" r="2"/>
<circle cx="1371.89" cy="774.27" r="2"/>
<circle cx="1325.52" cy="813.63" r="2"/>
<circle cx="1371.89" cy="774.32" r="2"/>
<circle cx="1325.52" cy="816.77" r="2"/>
<circle cx="1371.89" cy="774.34" r="2"/>
<circle cx="1325.52" cy="817.58" r="2"/>
<circle cx="1371.89" cy="774.37" r="2"/>
<circle cx="1325.52" cy="817.96" r="2"/>
<circle cx="1371.89" cy="774.48" r="2"/>
<circle cx="1325.52" cy="818.27" r="2"/>
<circle cx="1371.89" cy="774.87" r="2"/>
<circle cx="1325.52" cy="822.44" r="2"/>
<circle cx="1371.89" cy="775.13" r="2"/>
<circle cx="1325.52" cy="823.15" r="2"/>
<circle cx="1371.89" cy="775.35" r="2"/>
<circle cx="1325.52" cy="827.33" r="2"/>
<circle cx="1371.89" cy="775.71" r="2"/>
<circle cx="1325.52" cy="828.06" r="2"/>
<circle cx="1371.89" cy="776.02" r="2"/>
<circle cx="1325.52" cy="831.21" r="2"/>
<circle cx="1371.89" cy="780.2" r="2"/>
<circle cx="1325.52" cy="833.67" r="2"/>
<circle cx="1371.89" cy="780.33" r="2"/>
<circle cx="1325.52" cy="835.59" r="2"/>
<circle cx="1371.89" cy="780.73" r="2"/>
<circle cx="1325.52" cy="837.06" r="2"/>
<circle cx="1371.89" cy="781.98" r="2"/>
<circle cx="1325.52" cy="837.93" r="2"/>
<circle cx="1371.89" cy="782.21" r="2"/>
<circle cx="1325.52" cy="838.26" r="2"/>
<circle cx="1371.89" cy="782.49" r="2"/>
<circle cx="1325.52" cy="839.43" r="2"/>
<circle cx="1371.89" cy="783.55" r="2"/>
<circle cx="1325.52" cy="839.66" r="2"/>
<circle cx="1371.89" cy="784.88" r="2"/>
<circle cx="1325.52" cy="839.92" r="2"/>
<circle cx="1371.89" cy="784.96" r="2"/>
<circle cx="1325.52" cy="840.43" r="2"/>
<circle cx="1371.89" cy="785.37" r="2"/>
<circle cx="1325.52" cy="843.16" r="2"/>
<circle cx="1371.89" cy="786.54" r="2"/>
<circle cx="1325.52" cy="843.37" r="2"/>
<circle cx="1371.89" cy="786.82" r="2"/>
<circle cx="1325.52" cy="843.56" r="2"/>
<circle cx="1371.89" cy="787.42" r="2"/>
<circle cx="1325.52" cy="845.03" r="2"/>
<circle cx="1371.89" cy="788.8" r="2"/>
<circle cx="1325.52" cy="852.47" r="2"/>
<circle cx="1371.89" cy="789.01" r="2"/>
<circle cx="1325.52" cy="852.57" r="2"/>
<circle cx="1371.89" cy="789.88" r="2"/>
<circle cx="1325.52" cy="853.68" r="2"/>
<circle cx="1371.89" cy="791.56" r="2"/>
<circle cx="1325.52" cy="854.05" r="2"/>
<circle cx="1371.89" cy="794" r="2"/>
<circle cx="1325.52" cy="854.37" r="2"/>
<circle cx="1371.89" cy="795.59" r="2"/>
<circle cx="1325.52" cy="856.71" r="2"/>
<circle cx="1371.89" cy="795.73" r="2"/>
<circle cx="1325.52" cy="857.7" r="2"/>
<circle cx="1371.89" cy="796.84" r="2"/>
<circle cx="1325.52" cy="866.71" r="2"/>
<circle cx="1371.89" cy="797.02" r="2"/>
<circle cx="1325.52" cy="872.84" r="2"/>
<circle cx="1371.89" cy="801.84" r="2"/>
<circle cx="1325.52" cy="886.14" r="2"/>
<circle cx="1371.89" cy="803.95" r="2"/>
<circle cx="1325.52" cy="903.87" r="2"/>
<circle cx="1371.89" cy="808.58" r="2"/>
<circle cx="1325.52" cy="905.86" r="2"/>
<circle cx="1371.89" cy="814.67" r="2"/>
<circle cx="1325.52" cy="907.96" r="2"/>
<circle cx="1371.89" cy="816.18" r="2"/>
<circle cx="1325.52" cy="926.06" r="2"/>
<circle cx="1371.89" cy="818.57" r="2"/>
<circle cx="1325.52" cy="938.97" r="2"/>
<circle cx="1371.89" cy="837.29" r="2"/>
<circle cx="1325.52" cy="987.91" r="2"/>
<circle cx="1371.89" cy="842.64" r="2"/>
<circle cx="1325.52" cy="987.91" r="2"/>
<circle cx="1371.89" cy="859.83" r="2"/>
</g>
<polyline points="1325.52,729.7 1325.52,716.7 1371.89,716.7 1371.89,729.7" fill="none" stroke="#000" stroke-width="3" stroke-linejoin="miter"/>
<text x="1348.7" y="712" font-size="13" text-anchor="middle" fill="#000" textLength="41.5" lengthAdjust="spacingAndGlyphs">&lt;0.0001</text>
<g stroke="#fcb47c" stroke-opacity="0.55" stroke-width="1">
<line x1="1418.26" y1="763.93" x2="1464.63" y2="750.87"/>
<line x1="1418.26" y1="764.22" x2="1464.63" y2="744.15"/>
<line x1="1418.26" y1="766.06" x2="1464.63" y2="744.09"/>
<line x1="1418.26" y1="766.73" x2="1464.63" y2="743.99"/>
<line x1="1418.26" y1="767.33" x2="1464.63" y2="746.49"/>
<line x1="1418.26" y1="768.91" x2="1464.63" y2="747.15"/>
<line x1="1418.26" y1="769.12" x2="1464.63" y2="747.53"/>
<line x1="1418.26" y1="770.49" x2="1464.63" y2="745.79"/>
<line x1="1418.26" y1="770.79" x2="1464.63" y2="747.93"/>
<line x1="1418.26" y1="774.4" x2="1464.63" y2="758.67"/>
<line x1="1418.26" y1="774.8" x2="1464.63" y2="756.23"/>
<line x1="1418.26" y1="774.82" x2="1464.63" y2="746.65"/>
<line x1="1418.26" y1="775.41" x2="1464.63" y2="744.05"/>
<line x1="1418.26" y1="777.21" x2="1464.63" y2="748.27"/>
<line x1="1418.26" y1="778.68" x2="1464.63" y2="744.42"/>
<line x1="1418.26" y1="778.69" x2="1464.63" y2="756.63"/>
<line x1="1418.26" y1="780.27" x2="1464.63" y2="744.3"/>
<line x1="1418.26" y1="783.5" x2="1464.63" y2="756.11"/>
<line x1="1418.26" y1="783.52" x2="1464.63" y2="748.43"/>
<line x1="1418.26" y1="783.72" x2="1464.63" y2="752.06"/>
<line x1="1418.26" y1="785.39" x2="1464.63" y2="766.53"/>
<line x1="1418.26" y1="787.18" x2="1464.63" y2="775.13"/>
<line x1="1418.26" y1="787.41" x2="1464.63" y2="769.25"/>
<line x1="1418.26" y1="789.18" x2="1464.63" y2="771.39"/>
<line x1="1418.26" y1="791.08" x2="1464.63" y2="766.76"/>
<line x1="1418.26" y1="792.37" x2="1464.63" y2="751.13"/>
<line x1="1418.26" y1="793.19" x2="1464.63" y2="756.65"/>
<line x1="1418.26" y1="794.95" x2="1464.63" y2="752.86"/>
<line x1="1418.26" y1="795.58" x2="1464.63" y2="768.4"/>
<line x1="1418.26" y1="796.73" x2="1464.63" y2="746.99"/>
<line x1="1418.26" y1="797.77" x2="1464.63" y2="752.5"/>
<line x1="1418.26" y1="801.26" x2="1464.63" y2="744.58"/>
<line x1="1418.26" y1="801.65" x2="1464.63" y2="746.21"/>
<line x1="1418.26" y1="802.51" x2="1464.63" y2="748.15"/>
<line x1="1418.26" y1="803.28" x2="1464.63" y2="745.43"/>
<line x1="1418.26" y1="805.91" x2="1464.63" y2="764.78"/>
<line x1="1418.26" y1="806.55" x2="1464.63" y2="744.92"/>
<line x1="1418.26" y1="806.57" x2="1464.63" y2="748.47"/>
<line x1="1418.26" y1="807.22" x2="1464.63" y2="774.34"/>
<line x1="1418.26" y1="808.61" x2="1464.63" y2="752.7"/>
<line x1="1418.26" y1="808.94" x2="1464.63" y2="768.02"/>
<line x1="1418.26" y1="809.68" x2="1464.63" y2="744.22"/>
<line x1="1418.26" y1="810.94" x2="1464.63" y2="770.92"/>
<line x1="1418.26" y1="811.94" x2="1464.63" y2="761.7"/>
<line x1="1418.26" y1="814.23" x2="1464.63" y2="762.67"/>
<line x1="1418.26" y1="814.37" x2="1464.63" y2="750.79"/>
<line x1="1418.26" y1="815.39" x2="1464.63" y2="745.9"/>
<line x1="1418.26" y1="816.04" x2="1464.63" y2="773.49"/>
<line x1="1418.26" y1="816.93" x2="1464.63" y2="750.51"/>
<line x1="1418.26" y1="817.02" x2="1464.63" y2="776.02"/>
<line x1="1418.26" y1="817.52" x2="1464.63" y2="766.47"/>
<line x1="1418.26" y1="819.33" x2="1464.63" y2="743.98"/>
<line x1="1418.26" y1="821.91" x2="1464.63" y2="752.18"/>
<line x1="1418.26" y1="822.91" x2="1464.63" y2="767.15"/>
<line x1="1418.26" y1="825.57" x2="1464.63" y2="808.58"/>
<line x1="1418.26" y1="827.85" x2="1464.63" y2="775.71"/>
<line x1="1418.26" y1="828.13" x2="1464.63" y2="760.97"/>
<line x1="1418.26" y1="831.02" x2="1464.63" y2="751.98"/>
<line x1="1418.26" y1="831.16" x2="1464.63" y2="763.75"/>
<line x1="1418.26" y1="831.8" x2="1464.63" y2="750.23"/>
<line x1="1418.26" y1="833.31" x2="1464.63" y2="774.37"/>
<line x1="1418.26" y1="833.59" x2="1464.63" y2="749.29"/>
<line x1="1418.26" y1="834.5" x2="1464.63" y2="763.76"/>
<line x1="1418.26" y1="834.78" x2="1464.63" y2="744.77"/>
<line x1="1418.26" y1="835.92" x2="1464.63" y2="761.25"/>
<line x1="1418.26" y1="837.89" x2="1464.63" y2="758.83"/>
<line x1="1418.26" y1="838.64" x2="1464.63" y2="767.54"/>
<line x1="1418.26" y1="839.25" x2="1464.63" y2="751.3"/>
<line x1="1418.26" y1="843.06" x2="1464.63" y2="775.35"/>
<line x1="1418.26" y1="843.23" x2="1464.63" y2="761.5"/>
<line x1="1418.26" y1="845.74" x2="1464.63" y2="764.24"/>
<line x1="1418.26" y1="846.6" x2="1464.63" y2="774.48"/>
<line x1="1418.26" y1="848.85" x2="1464.63" y2="771.44"/>
<line x1="1418.26" y1="849.86" x2="1464.63" y2="773.32"/>
<line x1="1418.26" y1="850.87" x2="1464.63" y2="772.31"/>
<line x1="1418.26" y1="852" x2="1464.63" y2="774.87"/>
<line x1="1418.26" y1="852.14" x2="1464.63" y2="772.61"/>
<line x1="1418.26" y1="854.98" x2="1464.63" y2="760.07"/>
<line x1="1418.26" y1="855.13" x2="1464.63" y2="766.21"/>
<line x1="1418.26" y1="856.04" x2="1464.63" y2="759.91"/>
<line x1="1418.26" y1="856.54" x2="1464.63" y2="773.8"/>
<line x1="1418.26" y1="856.99" x2="1464.63" y2="789.01"/>
<line x1="1418.26" y1="860.35" x2="1464.63" y2="782.21"/>
<line x1="1418.26" y1="860.62" x2="1464.63" y2="770.31"/>
<line x1="1418.26" y1="861.03" x2="1464.63" y2="791.56"/>
<line x1="1418.26" y1="862.47" x2="1464.63" y2="801.84"/>
<line x1="1418.26" y1="862.74" x2="1464.63" y2="768.32"/>
<line x1="1418.26" y1="863.05" x2="1464.63" y2="816.18"/>
<line x1="1418.26" y1="864.3" x2="1464.63" y2="786.82"/>
<line x1="1418.26" y1="864.88" x2="1464.63" y2="766.14"/>
<line x1="1418.26" y1="865.93" x2="1464.63" y2="773.25"/>
<line x1="1418.26" y1="867.11" x2="1464.63" y2="780.33"/>
<line x1="1418.26" y1="868.34" x2="1464.63" y2="814.67"/>
<line x1="1418.26" y1="868.74" x2="1464.63" y2="780.73"/>
<line x1="1418.26" y1="871.04" x2="1464.63" y2="774.32"/>
<line x1="1418.26" y1="872.8" x2="1464.63" y2="784.96"/>
<line x1="1418.26" y1="873.3" x2="1464.63" y2="768.4"/>
<line x1="1418.26" y1="875.12" x2="1464.63" y2="803.95"/>
<line x1="1418.26" y1="877.74" x2="1464.63" y2="794"/>
<line x1="1418.26" y1="878.01" x2="1464.63" y2="786.54"/>
<line x1="1418.26" y1="879.32" x2="1464.63" y2="789.88"/>
<line x1="1418.26" y1="880" x2="1464.63" y2="787.42"/>
<line x1="1418.26" y1="881.84" x2="1464.63" y2="784.88"/>
<line x1="1418.26" y1="882.86" x2="1464.63" y2="781.98"/>
<line x1="1418.26" y1="883.4" x2="1464.63" y2="774.27"/>
<line x1="1418.26" y1="890.48" x2="1464.63" y2="782.49"/>
<line x1="1418.26" y1="897.71" x2="1464.63" y2="788.8"/>
<line x1="1418.26" y1="897.85" x2="1464.63" y2="783.55"/>
<line x1="1418.26" y1="899.51" x2="1464.63" y2="818.57"/>
<line x1="1418.26" y1="899.67" x2="1464.63" y2="795.59"/>
<line x1="1418.26" y1="899.92" x2="1464.63" y2="785.37"/>
<line x1="1418.26" y1="901.88" x2="1464.63" y2="758.15"/>
<line x1="1418.26" y1="907.38" x2="1464.63" y2="837.29"/>
<line x1="1418.26" y1="907.64" x2="1464.63" y2="859.83"/>
<line x1="1418.26" y1="910.49" x2="1464.63" y2="780.2"/>
<line x1="1418.26" y1="913.24" x2="1464.63" y2="797.02"/>
<line x1="1418.26" y1="914.73" x2="1464.63" y2="795.73"/>
<line x1="1418.26" y1="934.5" x2="1464.63" y2="842.64"/>
<line x1="1418.26" y1="1002.54" x2="1464.63" y2="796.84"/>
</g>
<g fill="none" stroke="#fcb47c" stroke-opacity="0.75" stroke-width="1">
<circle cx="1418.26" cy="763.93" r="2"/>
<circle cx="1464.63" cy="743.98" r="2"/>
<circle cx="1418.26" cy="764.22" r="2"/>
<circle cx="1464.63" cy="743.99" r="2"/>
<circle cx="1418.26" cy="766.06" r="2"/>
<circle cx="1464.63" cy="744.05" r="2"/>
<circle cx="1418.26" cy="766.73" r="2"/>
<circle cx="1464.63" cy="744.09" r="2"/>
<circle cx="1418.26" cy="767.33" r="2"/>
<circle cx="1464.63" cy="744.15" r="2"/>
<circle cx="1418.26" cy="768.91" r="2"/>
<circle cx="1464.63" cy="744.22" r="2"/>
<circle cx="1418.26" cy="769.12" r="2"/>
<circle cx="1464.63" cy="744.3" r="2"/>
<circle cx="1418.26" cy="770.49" r="2"/>
<circle cx="1464.63" cy="744.42" r="2"/>
<circle cx="1418.26" cy="770.79" r="2"/>
<circle cx="1464.63" cy="744.58" r="2"/>
<circle cx="1418.26" cy="774.4" r="2"/>
<circle cx="1464.63" cy="744.77" r="2"/>
<circle cx="1418.26" cy="774.8" r="2"/>
<circle cx="1464.63" cy="744.92" r="2"/>
<circle cx="1418.26" cy="774.82" r="2"/>
<circle cx="1464.63" cy="745.43" r="2"/>
<circle cx="1418.26" cy="775.41" r="2"/>
<circle cx="1464.63" cy="745.79" r="2"/>
<circle cx="1418.26" cy="777.21" r="2"/>
<circle cx="1464.63" cy="745.9" r="2"/>
<circle cx="1418.26" cy="778.68" r="2"/>
<circle cx="1464.63" cy="746.21" r="2"/>
<circle cx="1418.26" cy="778.69" r="2"/>
<circle cx="1464.63" cy="746.49" r="2"/>
<circle cx="1418.26" cy="780.27" r="2"/>
<circle cx="1464.63" cy="746.65" r="2"/>
<circle cx="1418.26" cy="783.5" r="2"/>
<circle cx="1464.63" cy="746.99" r="2"/>
<circle cx="1418.26" cy="783.52" r="2"/>
<circle cx="1464.63" cy="747.15" r="2"/>
<circle cx="1418.26" cy="783.72" r="2"/>
<circle cx="1464.63" cy="747.53" r="2"/>
<circle cx="1418.26" cy="785.39" r="2"/>
<circle cx="1464.63" cy="747.93" r="2"/>
<circle cx="1418.26" cy="787.18" r="2"/>
<circle cx="1464.63" cy="748.15" r="2"/>
<circle cx="1418.26" cy="787.41" r="2"/>
<circle cx="1464.63" cy="748.27" r="2"/>
<circle cx="1418.26" cy="789.18" r="2"/>
<circle cx="1464.63" cy="748.43" r="2"/>
<circle cx="1418.26" cy="791.08" r="2"/>
<circle cx="1464.63" cy="748.47" r="2"/>
<circle cx="1418.26" cy="792.37" r="2"/>
<circle cx="1464.63" cy="749.29" r="2"/>
<circle cx="1418.26" cy="793.19" r="2"/>
<circle cx="1464.63" cy="750.23" r="2"/>
<circle cx="1418.26" cy="794.95" r="2"/>
<circle cx="1464.63" cy="750.51" r="2"/>
<circle cx="1418.26" cy="795.58" r="2"/>
<circle cx="1464.63" cy="750.79" r="2"/>
<circle cx="1418.26" cy="796.73" r="2"/>
<circle cx="1464.63" cy="750.87" r="2"/>
<circle cx="1418.26" cy="797.77" r="2"/>
<circle cx="1464.63" cy="751.13" r="2"/>
<circle cx="1418.26" cy="801.26" r="2"/>
<circle cx="1464.63" cy="751.3" r="2"/>
<circle cx="1418.26" cy="801.65" r="2"/>
<circle cx="1464.63" cy="751.98" r="2"/>
<circle cx="1418.26" cy="802.51" r="2"/>
<circle cx="1464.63" cy="752.06" r="2"/>
<circle cx="1418.26" cy="803.28" r="2"/>
<circle cx="1464.63" cy="752.18" r="2"/>
<circle cx="1418.26" cy="805.91" r="2"/>
<circle cx="1464.63" cy="752.5" r="2"/>
<circle cx="1418.26" cy="806.55" r="2"/>
<circle cx="1464.63" cy="752.7" r="2"/>
<circle cx="1418.26" cy="806.57" r="2"/>
<circle cx="1464.63" cy="752.86" r="2"/>
<circle cx="1418.26" cy="807.22" r="2"/>
<circle cx="1464.63" cy="756.11" r="2"/>
<circle cx="1418.26" cy="808.61" r="2"/>
<circle cx="1464.63" cy="756.23" r="2"/>
<circle cx="1418.26" cy="808.94" r="2"/>
<circle cx="1464.63" cy="756.63" r="2"/>
<circle cx="1418.26" cy="809.68" r="2"/>
<circle cx="1464.63" cy="756.65" r="2"/>
<circle cx="1418.26" cy="810.94" r="2"/>
<circle cx="1464.63" cy="758.15" r="2"/>
<circle cx="1418.26" cy="811.94" r="2"/>
<circle cx="1464.63" cy="758.67" r="2"/>
<circle cx="1418.26" cy="814.23" r="2"/>
<circle cx="1464.63" cy="758.83" r="2"/>
<circle cx="1418.26" cy="814.37" r="2"/>
<circle cx="1464.63" cy="759.91" r="2"/>
<circle cx="1418.26" cy="815.39" r="2"/>
<circle cx="1464.63" cy="760.07" r="2"/>
<circle cx="1418.26" cy="816.04" r="2"/>
<circle cx="1464.63" cy="760.97" r="2"/>
<circle cx="1418.26" cy="816.93" r="2"/>
<circle cx="1464.63" cy="761.25" r="2"/>
<circle cx="1418.26" cy="817.02" r="2"/>
<circle cx="1464.63" cy="761.5" r="2"/>
<circle cx="1418.26" cy="817.52" r="2"/>
<circle cx="1464.63" cy="761.7" r="2"/>
<circle cx="1418.26" cy="819.33" r="2"/>
<circle cx="1464.63" cy="762.67" r="2"/>
<circle cx="1418.26" cy="821.91" r="2"/>
<circle cx="1464.63" cy="763.75" r="2"/>
<circle cx="1418.26" cy="822.91" r="2"/>
<circle cx="1464.63" cy="763.76" r="2"/>
<circle cx="1418.26" cy="825.57" r="2"/>
<circle cx="1464.63" cy="764.24" r="2"/>
<circle cx="1418.26" cy="827.85" r="2"/>
<circle cx="1464.63" cy="764.78" r="2"/>
<circle cx="1418.26" cy="828.13" r="2"/>
<circle cx="1464.63" cy="766.14" r="2"/>
<circle cx="1418.26" cy="831.02" r="2"/>
<circle cx="1464.63" cy="766.21" r="2"/>
<circle cx="1418.26" cy="831.16" r="2"/>
<circle cx="1464.63" cy="766.47" r="2"/>
<circle cx="1418.26" cy="831.8" r="2"/>
<circle cx="1464.63" cy="766.53" r="2"/>
<circle cx="1418.26" cy="833.31" r="2"/>
<circle cx="1464.63" cy="766.76" r="2"/>
<circle cx="1418.26" cy="833.59" r="2"/>
<circle cx="1464.63" cy="767.15" r="2"/>
<circle cx="1418.26" cy="834.5" r="2"/>
<circle cx="1464.63" cy="767.54" r="2"/>
<circle cx="1418.26" cy="834.78" r="2"/>
<circle cx="1464.63" cy="768.02" r="2"/>
<circle cx="1418.26" cy="835.92" r="2"/>
<circle cx="1464.63" cy="768.32" r="2"/>
<circle cx="1418.26" cy="837.89" r="2"/>
<circle cx="1464.63" cy="768.4" r="2"/>
<circle cx="1418.26" cy="838.64" r="2"/>
<circle cx="1464.63" cy="768.4" r="2"/>
<circle cx="1418.26" cy="839.25" r="2"/>
<circle cx="1464.63" cy="769.25" r="2"/>
<circle cx="1418.26" cy="843.06" r="2"/>
<circle cx="1464.63" cy="770.31" r="2"/>
<circle cx="1418.26" cy="843.23" r="2"/>
<circle cx="1464.63" cy="770.92" r="2"/>
<circle cx="1418.26" cy="845.74" r="2"/>
<circle cx="1464.63" cy="771.39" r="2"/>
<circle cx="1418.26" cy="846.6" r="2"/>
<circle cx="1464.63" cy="771.44" r="2"/>
<circle cx="1418.26" cy="848.85" r="2"/>
<circle cx="1464.63" cy="772.31" r="2"/>
<circle cx="1418.26" cy="849.86" r="2"/>
<circle cx="1464.63" cy="772.61" r="2"/>
<circle cx="1418.26" cy="850.87" r="2"/>
<circle cx="1464.63" cy="773.25" r="2"/>
<circle cx="1418.26" cy="852" r="2"/>
<circle cx="1464.63" cy="773.32" r="2"/>
<circle cx="1418.26" cy="852.14" r="2"/>
<circle cx="1464.63" cy="773.49" r="2"/>
<circle cx="1418.26" cy="854.98" r="2"/>
<circle cx="1464.63" cy="773.8" r="2"/>
<circle cx="1418.26" cy="855.13" r="2"/>
<circle cx="1464.63" cy="774.27" r="2"/>
<circle cx="1418.26" cy="856.04" r="2"/>
<circle cx="1464.63" cy="774.32" r="2"/>
<circle cx="1418.26" cy="856.54" r="2"/>
<circle cx="1464.63" cy="774.34" r="2"/>
<circle cx="1418.26" cy="856.99" r="2"/>
<circle cx="1464.63" cy="774.37" r="2"/>
<circle cx="1418.26" cy="860.35" r="2"/>
<circle cx="1464.63" cy="774.48" r="2"/>
<circle cx="1418.26" cy="860.62" r="2"/>
<circle cx="1464.63" cy="774.87" r="2"/>
<circle cx="1418.26" cy="861.03" r="2"/>
<circle cx="1464.63" cy="775.13" r="2"/>
<circle cx="1418.26" cy="862.47" r="2"/>
<circle cx="1464.63" cy="775.35" r="2"/>
<circle cx="1418.26" cy="862.74" r="2"/>
<circle cx="1464.63" cy="775.71" r="2"/>
<circle cx="1418.26" cy="863.05" r="2"/>
<circle cx="1464.63" cy="776.02" r="2"/>
<circle cx="1418.26" cy="864.3" r="2"/>
<circle cx="1464.63" cy="780.2" r="2"/>
<circle cx="1418.26" cy="864.88" r="2"/>
<circle cx="1464.63" cy="780.33" r="2"/>
<circle cx="1418.26" cy="865.93" r="2"/>
<circle cx="1464.63" cy="780.73" r="2"/>
<circle cx="1418.26" cy="867.11" r="2"/>
<circle cx="1464.63" cy="781.98" r="2"/>
<circle cx="1418.26" cy="868.34" r="2"/>
<circle cx="1464.63" cy="782.21" r="2"/>
<circle cx="1418.26" cy="868.74" r="2"/>
<circle cx="1464.63" cy="782.49" r="2"/>
<circle cx="1418.26" cy="871.04" r="2"/>
<circle cx="1464.63" cy="783.55" r="2"/>
<circle cx="1418.26" cy="872.8" r="2"/>
<circle cx="1464.63" cy="784.88" r="2"/>
<circle cx="1418.26" cy="873.3" r="2"/>
<circle cx="1464.63" cy="784.96" r="2"/>
<circle cx="1418.26" cy="875.12" r="2"/>
<circle cx="1464.63" cy="785.37" r="2"/>
<circle cx="1418.26" cy="877.74" r="2"/>
<circle cx="1464.63" cy="786.54" r="2"/>
<circle cx="1418.26" cy="878.01" r="2"/>
<circle cx="1464.63" cy="786.82" r="2"/>
<circle cx="1418.26" cy="879.32" r="2"/>
<circle cx="1464.63" cy="787.42" r="2"/>
<circle cx="1418.26" cy="880" r="2"/>
<circle cx="1464.63" cy="788.8" r="2"/>
<circle cx="1418.26" cy="881.84" r="2"/>
<circle cx="1464.63" cy="789.01" r="2"/>
<circle cx="1418.26" cy="882.86" r="2"/>
<circle cx="1464.63" cy="789.88" r="2"/>
<circle cx="1418.26" cy="883.4" r="2"/>
<circle cx="1464.63" cy="791.56" r="2"/>
<circle cx="1418.26" cy="890.48" r="2"/>
<circle cx="1464.63" cy="794" r="2"/>
<circle cx="1418.26" cy="897.71" r="2"/>
<circle cx="1464.63" cy="795.59" r="2"/>
<circle cx="1418.26" cy="897.85" r="2"/>
<circle cx="1464.63" cy="795.73" r="2"/>
<circle cx="1418.26" cy="899.51" r="2"/>
<circle cx="1464.63" cy="796.84" r="2"/>
<circle cx="1418.26" cy="899.67" r="2"/>
<circle cx="1464.63" cy="797.02" r="2"/>
<circle cx="1418.26" cy="899.92" r="2"/>
<circle cx="1464.63" cy="801.84" r="2"/>
<circle cx="1418.26" cy="901.88" r="2"/>
<circle cx="1464.63" cy="803.95" r="2"/>
<circle cx="1418.26" cy="907.38" r="2"/>
<circle cx="1464.63" cy="808.58" r="2"/>
<circle cx="1418.26" cy="907.64" r="2"/>
<circle cx="1464.63" cy="814.67" r="2"/>
<circle cx="1418.26" cy="910.49" r="2"/>
<circle cx="1464.63" cy="816.18" r="2"/>
<circle cx="1418.26" cy="913.24" r="2"/>
<circle cx="1464.63" cy="818.57" r="2"/>
<circle cx="1418.26" cy="914.73" r="2"/>
<circle cx="1464.63" cy="837.29" r="2"/>
<circle cx="1418.26" cy="934.5" r="2"/>
<circle cx="1464.63" cy="842.64" r="2"/>
<circle cx="1418.26" cy="1002.54" r="2"/>
<circle cx="1464.63" cy="859.83" r="2"/>
</g>
<polyline points="1418.26,729.7 1418.26,716.7 1464.63,716.7 1464.63,729.7" fill="none" stroke="#000" stroke-width="3" stroke-linejoin="miter"/>
<text x="1441.44" y="712" font-size="13" text-anchor="middle" fill="#000" textLength="41.5" lengthAdjust="spacingAndGlyphs">&lt;0.0001</text>
<g transform="translate(1056.1,1065) rotate(-45)">
<text x="0" y="0" font-size="24.2" font-weight="bold" text-anchor="end" fill="#000">VACV B5</text>
</g>
<g transform="translate(1102.47,1065) rotate(-45)">
<text x="0" y="0" font-size="24.2" font-weight="bold" text-anchor="end" fill="#000">Pool</text>
</g>
<g transform="translate(1148.84,1065) rotate(-45)">
<text x="0" y="0" font-size="24.2" font-weight="bold" text-anchor="end" fill="#000">MPXV A35</text>
</g>
<g transform="translate(1195.21,1065) rotate(-45)">
<text x="0" y="0" font-size="24.2" font-weight="bold" text-anchor="end" fill="#000">Pool</text>
</g>
<g transform="translate(1241.58,1065) rotate(-45)">
<text x="0" y="0" font-size="24.2" font-weight="bold" text-anchor="end" fill="#000">MPXV B2</text>
</g>
<g transform="translate(1287.95,1065) rotate(-45)">
<text x="0" y="0" font-size="24.2" font-weight="bold" text-anchor="end" fill="#000">Pool</text>
</g>
<g transform="translate(1334.32,1065) rotate(-45)">
<text x="0" y="0" font-size="24.2" font-weight="bold" text-anchor="end" fill="#000">MPXV B6</text>
</g>
<g transform="translate(1380.69,1065) rotate(-45)">
<text x="0" y="0" font-size="24.2" font-weight="bold" text-anchor="end" fill="#000">Pool</text>
</g>
<g transform="translate(1427.06,1065) rotate(-45)">
<text x="0" y="0" font-size="24.2" font-weight="bold" text-anchor="end" fill="#000">MPXV E8</text>
</g>
<g transform="translate(1473.43,1065) rotate(-45)">
<text x="0" y="0" font-size="24.2" font-weight="bold" text-anchor="end" fill="#000">Pool</text>
</g>
<text x="0" y="0" font-size="32.5" font-weight="bold" text-anchor="middle" transform="translate(879.5,867.3) rotate(-90)">OD<tspan font-size="22.8" dy="9.5">450nm</tspan></text>
<text x="922.5" y="868" font-size="30.5" font-weight="bold" text-anchor="middle" fill="#000" transform="rotate(-90 922.5 868)">(minus blank)</text>
<text x="88" y="1286" font-size="53" font-weight="bold" text-anchor="start" fill="#000">e)</text>
<defs><clipPath id="eclip"><rect x="192.8" y="1318.56" width="342.14" height="379.04"/></clipPath></defs>
<g clip-path="url(#eclip)">
<polyline points="192.8,1676.44 201.15,1670.54 209.49,1664.63 217.84,1658.72 226.18,1652.81 234.53,1646.89 242.87,1640.98 251.22,1635.06 259.56,1629.14 267.9,1623.21 276.25,1617.28 284.6,1611.33 292.94,1605.39 301.29,1599.42 309.63,1593.45 317.98,1587.45 326.32,1581.42 334.67,1575.35 343.01,1569.21 351.36,1562.98 359.7,1556.59 368.05,1549.96 376.39,1543.02 384.74,1535.71 393.08,1528.08 401.43,1520.21 409.77,1512.19 418.12,1504.07 426.46,1495.89 434.81,1487.66 443.15,1479.4 451.5,1471.13 459.84,1462.83 468.19,1454.53 476.53,1446.21 484.88,1437.89" fill="none" stroke="#ff0000" stroke-width="1.6" stroke-dasharray="1.6,3.4" stroke-opacity="0.8"/>
<polyline points="192.8,1731.45 201.15,1723.1 209.49,1714.75 217.84,1706.4 226.18,1698.06 234.53,1689.72 242.87,1681.38 251.22,1673.04 259.56,1664.71 267.9,1656.38 276.25,1648.06 284.6,1639.75 292.94,1631.44 301.29,1623.15 309.63,1614.87 317.98,1606.61 326.32,1598.39 334.67,1590.2 343.01,1582.08 351.36,1574.06 359.7,1566.2 368.05,1558.57 376.39,1551.26 384.74,1544.31 393.08,1537.69 401.43,1531.3 409.77,1525.06 418.12,1518.93 426.46,1512.86 434.81,1506.83 443.15,1500.83 451.5,1494.85 459.84,1488.89 468.19,1482.94 476.53,1477 484.88,1471.07" fill="none" stroke="#ff0000" stroke-width="1.6" stroke-dasharray="1.6,3.4" stroke-opacity="0.8"/>
<polyline points="192.8,1675.15 201.15,1669.79 209.49,1664.42 217.84,1659.05 226.18,1653.69 234.53,1648.32 242.87,1642.94 251.22,1637.57 259.56,1632.19 267.9,1626.81 276.25,1621.43 284.6,1616.04 292.94,1610.65 301.29,1605.25 309.63,1599.83 317.98,1594.41 326.32,1588.96 334.67,1583.48 343.01,1577.95 351.36,1572.33 359.7,1566.58 368.05,1560.59 376.39,1554.22 384.74,1547.41 393.08,1540.22 401.43,1532.78 409.77,1525.21 418.12,1517.56 426.46,1509.85 434.81,1502.12 443.15,1494.36 451.5,1486.59 459.84,1478.81 468.19,1471.02 476.53,1463.22 484.88,1455.42" fill="none" stroke="#a020f0" stroke-width="1.6" stroke-dasharray="1.6,3.4" stroke-opacity="0.8"/>
<polyline points="192.8,1729.94 201.15,1722.12 209.49,1714.3 217.84,1706.48 226.18,1698.67 234.53,1690.85 242.87,1683.04 251.22,1675.23 259.56,1667.42 267.9,1659.62 276.25,1651.82 284.6,1644.02 292.94,1636.23 301.29,1628.45 309.63,1620.68 317.98,1612.92 326.32,1605.19 334.67,1597.48 343.01,1589.83 351.36,1582.26 359.7,1574.82 368.05,1567.63 376.39,1560.82 384.74,1554.45 393.08,1548.46 401.43,1542.71 409.77,1537.09 418.12,1531.56 426.46,1526.08 434.81,1520.63 443.15,1515.21 451.5,1509.79 459.84,1504.39 468.19,1499 476.53,1493.61 484.88,1488.23" fill="none" stroke="#a020f0" stroke-width="1.6" stroke-dasharray="1.6,3.4" stroke-opacity="0.8"/>
<polyline points="192.8,1620.59 201.15,1617.18 209.49,1613.77 217.84,1610.34 226.18,1606.9 234.53,1603.44 242.87,1599.96 251.22,1596.46 259.56,1592.94 267.9,1589.39 276.25,1585.82 284.6,1582.22 292.94,1578.58 301.29,1574.91 309.63,1571.21 317.98,1567.46 326.32,1563.67 334.67,1559.84 343.01,1555.95 351.36,1552.02 359.7,1548.04 368.05,1544.01 376.39,1539.94 384.74,1535.81 393.08,1531.63 401.43,1527.41 409.77,1523.15 418.12,1518.85 426.46,1514.51 434.81,1510.13 443.15,1505.72 451.5,1501.29 459.84,1496.82 468.19,1492.34 476.53,1487.83 484.88,1483.3" fill="none" stroke="#00e000" stroke-width="1.6" stroke-dasharray="1.6,3.4" stroke-opacity="0.8"/>
<polyline points="192.8,1659.25 201.15,1654.65 209.49,1650.05 217.84,1645.47 226.18,1640.91 234.53,1636.36 242.87,1631.83 251.22,1627.32 259.56,1622.83 267.9,1618.37 276.25,1613.93 284.6,1609.52 292.94,1605.15 301.29,1600.81 309.63,1596.5 317.98,1592.24 326.32,1588.02 334.67,1583.85 343.01,1579.72 351.36,1575.64 359.7,1571.61 368.05,1567.63 376.39,1563.7 384.74,1559.82 393.08,1555.98 401.43,1552.19 409.77,1548.45 418.12,1544.74 426.46,1541.07 434.81,1537.44 443.15,1533.84 451.5,1530.26 459.84,1526.72 468.19,1523.2 476.53,1519.7 484.88,1516.22" fill="none" stroke="#00e000" stroke-width="1.6" stroke-dasharray="1.6,3.4" stroke-opacity="0.8"/>
<polyline points="192.8,1635.77 201.15,1633.03 209.49,1630.27 217.84,1627.5 226.18,1624.71 234.53,1621.9 242.87,1619.08 251.22,1616.23 259.56,1613.35 267.9,1610.44 276.25,1607.49 284.6,1604.5 292.94,1601.46 301.29,1598.35 309.63,1595.17 317.98,1591.91 326.32,1588.55 334.67,1585.09 343.01,1581.5 351.36,1577.78 359.7,1573.92 368.05,1569.92 376.39,1565.78 384.74,1561.5 393.08,1557.11 401.43,1552.61 409.77,1548.01 418.12,1543.32 426.46,1538.57 434.81,1533.75 443.15,1528.88 451.5,1523.97 459.84,1519.02 468.19,1514.03 476.53,1509.02 484.88,1503.99" fill="none" stroke="#00f0ff" stroke-width="1.6" stroke-dasharray="1.6,3.4" stroke-opacity="0.8"/>
<polyline points="192.8,1693.51 201.15,1688.39 209.49,1683.29 217.84,1678.2 226.18,1673.13 234.53,1668.07 242.87,1663.04 251.22,1658.03 259.56,1653.04 267.9,1648.09 276.25,1643.18 284.6,1638.31 292.94,1633.49 301.29,1628.74 309.63,1624.05 317.98,1619.45 326.32,1614.95 334.67,1610.56 343.01,1606.28 351.36,1602.14 359.7,1598.14 368.05,1594.28 376.39,1590.56 384.74,1586.97 393.08,1583.51 401.43,1580.15 409.77,1576.89 418.12,1573.71 426.46,1570.6 434.81,1567.56 443.15,1564.57 451.5,1561.62 459.84,1558.71 468.19,1555.83 476.53,1552.98 484.88,1550.16" fill="none" stroke="#00f0ff" stroke-width="1.6" stroke-dasharray="1.6,3.4" stroke-opacity="0.8"/>
<polyline points="192.8,1663.41 201.15,1660.95 209.49,1658.48 217.84,1656.01 226.18,1653.55 234.53,1651.08 242.87,1648.61 251.22,1646.14 259.56,1643.68 267.9,1641.21 276.25,1638.73 284.6,1636.26 292.94,1633.78 301.29,1631.31 309.63,1628.82 317.98,1626.34 326.32,1623.84 334.67,1621.34 343.01,1618.82 351.36,1616.28 359.7,1613.7 368.05,1611.04 376.39,1608.25 384.74,1605.24 393.08,1601.94 401.43,1598.42 409.77,1594.76 418.12,1591.03 426.46,1587.26 434.81,1583.47 443.15,1579.66 451.5,1575.84 459.84,1572.02 468.19,1568.19 476.53,1564.35 484.88,1560.52" fill="none" stroke="#0000ff" stroke-width="1.6" stroke-dasharray="1.6,3.4" stroke-opacity="0.8"/>
<polyline points="192.8,1695.53 201.15,1691.69 209.49,1687.84 217.84,1683.99 226.18,1680.15 234.53,1676.3 242.87,1672.46 251.22,1668.62 259.56,1664.77 267.9,1660.93 276.25,1657.09 284.6,1653.25 292.94,1649.42 301.29,1645.58 309.63,1641.75 317.98,1637.93 326.32,1634.11 334.67,1630.3 343.01,1626.51 351.36,1622.74 359.7,1619.01 368.05,1615.35 376.39,1611.83 384.74,1608.53 393.08,1605.52 401.43,1602.73 409.77,1600.07 418.12,1597.49 426.46,1594.95 434.81,1592.43 443.15,1589.93 451.5,1587.43 459.84,1584.95 468.19,1582.47 476.53,1579.99 484.88,1577.51" fill="none" stroke="#0000ff" stroke-width="1.6" stroke-dasharray="1.6,3.4" stroke-opacity="0.8"/>
<line x1="192.8" y1="1679.47" x2="484.88" y2="1569.01" stroke="#0000ff" stroke-width="2.2"/>
<line x1="192.8" y1="1664.64" x2="484.88" y2="1527.07" stroke="#00f0ff" stroke-width="2.2"/>
<line x1="192.8" y1="1639.92" x2="484.88" y2="1499.76" stroke="#00e000" stroke-width="2.2"/>
<line x1="192.8" y1="1702.54" x2="484.88" y2="1471.82" stroke="#a020f0" stroke-width="2.2"/>
<line x1="192.8" y1="1703.94" x2="484.88" y2="1454.48" stroke="#ff0000" stroke-width="2.2"/>
</g>
<line x1="192.8" y1="1656.4" x2="526.6" y2="1326.8" stroke="#000" stroke-width="4.2"/>
<line x1="192.8" y1="1325.5" x2="192.8" y2="1698.42" stroke="#000" stroke-width="3"/>
<line x1="183.3" y1="1689.36" x2="192.8" y2="1689.36" stroke="#000" stroke-width="2.6"/>
<line x1="183.3" y1="1672.88" x2="192.8" y2="1672.88" stroke="#000" stroke-width="2.6"/>
<line x1="183.3" y1="1639.92" x2="192.8" y2="1639.92" stroke="#000" stroke-width="2.6"/>
<line x1="183.3" y1="1623.44" x2="192.8" y2="1623.44" stroke="#000" stroke-width="2.6"/>
<line x1="183.3" y1="1606.96" x2="192.8" y2="1606.96" stroke="#000" stroke-width="2.6"/>
<line x1="183.3" y1="1590.48" x2="192.8" y2="1590.48" stroke="#000" stroke-width="2.6"/>
<line x1="176.8" y1="1574" x2="192.8" y2="1574" stroke="#000" stroke-width="3"/>
<text x="173.3" y="1584" font-size="28.5" font-weight="bold" text-anchor="end" fill="#000">1</text>
<line x1="183.3" y1="1557.52" x2="192.8" y2="1557.52" stroke="#000" stroke-width="2.6"/>
<line x1="183.3" y1="1541.04" x2="192.8" y2="1541.04" stroke="#000" stroke-width="2.6"/>
<line x1="183.3" y1="1524.56" x2="192.8" y2="1524.56" stroke="#000" stroke-width="2.6"/>
<line x1="183.3" y1="1508.08" x2="192.8" y2="1508.08" stroke="#000" stroke-width="2.6"/>
<line x1="176.8" y1="1491.6" x2="192.8" y2="1491.6" stroke="#000" stroke-width="3"/>
<text x="173.3" y="1501.6" font-size="28.5" font-weight="bold" text-anchor="end" fill="#000">2</text>
<line x1="183.3" y1="1475.12" x2="192.8" y2="1475.12" stroke="#000" stroke-width="2.6"/>
<line x1="183.3" y1="1458.64" x2="192.8" y2="1458.64" stroke="#000" stroke-width="2.6"/>
<line x1="183.3" y1="1442.16" x2="192.8" y2="1442.16" stroke="#000" stroke-width="2.6"/>
<line x1="183.3" y1="1425.68" x2="192.8" y2="1425.68" stroke="#000" stroke-width="2.6"/>
<line x1="176.8" y1="1409.2" x2="192.8" y2="1409.2" stroke="#000" stroke-width="3"/>
<text x="173.3" y="1419.2" font-size="28.5" font-weight="bold" text-anchor="end" fill="#000">3</text>
<line x1="183.3" y1="1392.72" x2="192.8" y2="1392.72" stroke="#000" stroke-width="2.6"/>
<line x1="183.3" y1="1376.24" x2="192.8" y2="1376.24" stroke="#000" stroke-width="2.6"/>
<line x1="183.3" y1="1359.76" x2="192.8" y2="1359.76" stroke="#000" stroke-width="2.6"/>
<line x1="183.3" y1="1343.28" x2="192.8" y2="1343.28" stroke="#000" stroke-width="2.6"/>
<line x1="176.8" y1="1326.8" x2="192.8" y2="1326.8" stroke="#000" stroke-width="3"/>
<text x="173.3" y="1336.8" font-size="28.5" font-weight="bold" text-anchor="end" fill="#000">4</text>
<line x1="149.3" y1="1656.4" x2="527.3" y2="1656.4" stroke="#000" stroke-width="3"/>
<line x1="159.42" y1="1656.4" x2="159.42" y2="1665.5" stroke="#000" stroke-width="2.6"/>
<line x1="176.11" y1="1656.4" x2="176.11" y2="1665.5" stroke="#000" stroke-width="2.6"/>
<line x1="209.49" y1="1656.4" x2="209.49" y2="1665.5" stroke="#000" stroke-width="2.6"/>
<line x1="226.18" y1="1656.4" x2="226.18" y2="1665.5" stroke="#000" stroke-width="2.6"/>
<line x1="242.87" y1="1656.4" x2="242.87" y2="1665.5" stroke="#000" stroke-width="2.6"/>
<line x1="259.56" y1="1656.4" x2="259.56" y2="1665.5" stroke="#000" stroke-width="2.6"/>
<line x1="276.25" y1="1656.4" x2="276.25" y2="1673" stroke="#000" stroke-width="3"/>
<text x="276.25" y="1704.2" font-size="28.5" font-weight="bold" text-anchor="middle" fill="#000">1</text>
<line x1="292.94" y1="1656.4" x2="292.94" y2="1665.5" stroke="#000" stroke-width="2.6"/>
<line x1="309.63" y1="1656.4" x2="309.63" y2="1665.5" stroke="#000" stroke-width="2.6"/>
<line x1="326.32" y1="1656.4" x2="326.32" y2="1665.5" stroke="#000" stroke-width="2.6"/>
<line x1="343.01" y1="1656.4" x2="343.01" y2="1665.5" stroke="#000" stroke-width="2.6"/>
<line x1="359.7" y1="1656.4" x2="359.7" y2="1673" stroke="#000" stroke-width="3"/>
<text x="359.7" y="1704.2" font-size="28.5" font-weight="bold" text-anchor="middle" fill="#000">2</text>
<line x1="376.39" y1="1656.4" x2="376.39" y2="1665.5" stroke="#000" stroke-width="2.6"/>
<line x1="393.08" y1="1656.4" x2="393.08" y2="1665.5" stroke="#000" stroke-width="2.6"/>
<line x1="409.77" y1="1656.4" x2="409.77" y2="1665.5" stroke="#000" stroke-width="2.6"/>
<line x1="426.46" y1="1656.4" x2="426.46" y2="1665.5" stroke="#000" stroke-width="2.6"/>
<line x1="443.15" y1="1656.4" x2="443.15" y2="1673" stroke="#000" stroke-width="3"/>
<text x="443.15" y="1704.2" font-size="28.5" font-weight="bold" text-anchor="middle" fill="#000">3</text>
<line x1="459.84" y1="1656.4" x2="459.84" y2="1665.5" stroke="#000" stroke-width="2.6"/>
<line x1="476.53" y1="1656.4" x2="476.53" y2="1665.5" stroke="#000" stroke-width="2.6"/>
<line x1="493.22" y1="1656.4" x2="493.22" y2="1665.5" stroke="#000" stroke-width="2.6"/>
<line x1="509.91" y1="1656.4" x2="509.91" y2="1665.5" stroke="#000" stroke-width="2.6"/>
<line x1="526.6" y1="1656.4" x2="526.6" y2="1673" stroke="#000" stroke-width="3"/>
<text x="526.6" y="1704.2" font-size="28.5" font-weight="bold" text-anchor="middle" fill="#000">4</text>
<line x1="542" y1="1318.6" x2="582.3" y2="1318.6" stroke="#000" stroke-width="4.2"/>
<text x="605" y="1330" font-size="31" text-anchor="start" fill="#000">x=y</text>
<line x1="542" y1="1440.7" x2="582.3" y2="1440.7" stroke="#ff0000" stroke-width="2.2"/>
<text x="605" y="1451.7" font-size="31" text-anchor="start" fill="#000">VACV B5</text>
<text x="760.5" y="1450.2" font-size="15.5" text-anchor="start" fill="#000">R</text>
<text x="771" y="1442.2" font-size="11.2" text-anchor="start" fill="#000">2</text>
<text x="781.6" y="1450.2" font-size="16" text-anchor="start" fill="#000" textLength="50.9" lengthAdjust="spacingAndGlyphs">=0.6518</text>
<line x1="542" y1="1475.25" x2="582.3" y2="1475.25" stroke="#a020f0" stroke-width="2.2"/>
<text x="605" y="1486.25" font-size="31" text-anchor="start" fill="#000">MPXV B6</text>
<text x="760.5" y="1484.75" font-size="15.5" text-anchor="start" fill="#000">R</text>
<text x="771" y="1476.75" font-size="11.2" text-anchor="start" fill="#000">2</text>
<text x="781.6" y="1484.75" font-size="16" text-anchor="start" fill="#000" textLength="50.9" lengthAdjust="spacingAndGlyphs">=0.6328</text>
<line x1="542" y1="1509.8" x2="582.3" y2="1509.8" stroke="#00e000" stroke-width="2.2"/>
<text x="605" y="1520.8" font-size="31" text-anchor="start" fill="#000">MPXV B2</text>
<text x="760.5" y="1519.3" font-size="15.5" text-anchor="start" fill="#000">R</text>
<text x="771" y="1511.3" font-size="11.2" text-anchor="start" fill="#000">2</text>
<text x="781.6" y="1519.3" font-size="16" text-anchor="start" fill="#000" textLength="50.9" lengthAdjust="spacingAndGlyphs">=0.3679</text>
<line x1="542" y1="1544.35" x2="582.3" y2="1544.35" stroke="#00f0ff" stroke-width="2.2"/>
<text x="605" y="1555.35" font-size="31" text-anchor="start" fill="#000">MPXV A35</text>
<text x="760.5" y="1553.85" font-size="15.5" text-anchor="start" fill="#000">R</text>
<text x="771" y="1545.85" font-size="11.2" text-anchor="start" fill="#000">2</text>
<text x="781.6" y="1553.85" font-size="16" text-anchor="start" fill="#000" textLength="50.9" lengthAdjust="spacingAndGlyphs">=0.2255</text>
<line x1="542" y1="1578.9" x2="582.3" y2="1578.9" stroke="#0000ff" stroke-width="2.2"/>
<text x="605" y="1589.9" font-size="31" text-anchor="start" fill="#000">MPXV E8</text>
<text x="760.5" y="1588.4" font-size="15.5" text-anchor="start" fill="#000">R</text>
<text x="771" y="1580.4" font-size="11.2" text-anchor="start" fill="#000">2</text>
<text x="781.6" y="1588.4" font-size="16" text-anchor="start" fill="#000" textLength="50.9" lengthAdjust="spacingAndGlyphs">=0.5528</text>
<text x="107.8" y="1507.6" font-size="27" font-weight="bold" text-anchor="middle" fill="#000" transform="rotate(-90 107.8 1507.6)" textLength="390.9" lengthAdjust="spacingAndGlyphs">Individual Antigen: OD ±95% CI</text>
<text x="138" y="1507.6" font-size="27" font-weight="bold" text-anchor="middle" fill="#000" transform="rotate(-90 138 1507.6)" textLength="229.7" lengthAdjust="spacingAndGlyphs">(minus blank OD)</text>
<text x="338.6" y="1745.4" font-size="24.8" font-weight="bold" text-anchor="middle" fill="#000" textLength="215.8" lengthAdjust="spacingAndGlyphs">Pool: OD ±95% CI</text>
<text x="338.2" y="1775" font-size="25.4" font-weight="bold" text-anchor="middle" fill="#000" textLength="226" lengthAdjust="spacingAndGlyphs">(minus blank OD)</text>
</svg></body></html>
